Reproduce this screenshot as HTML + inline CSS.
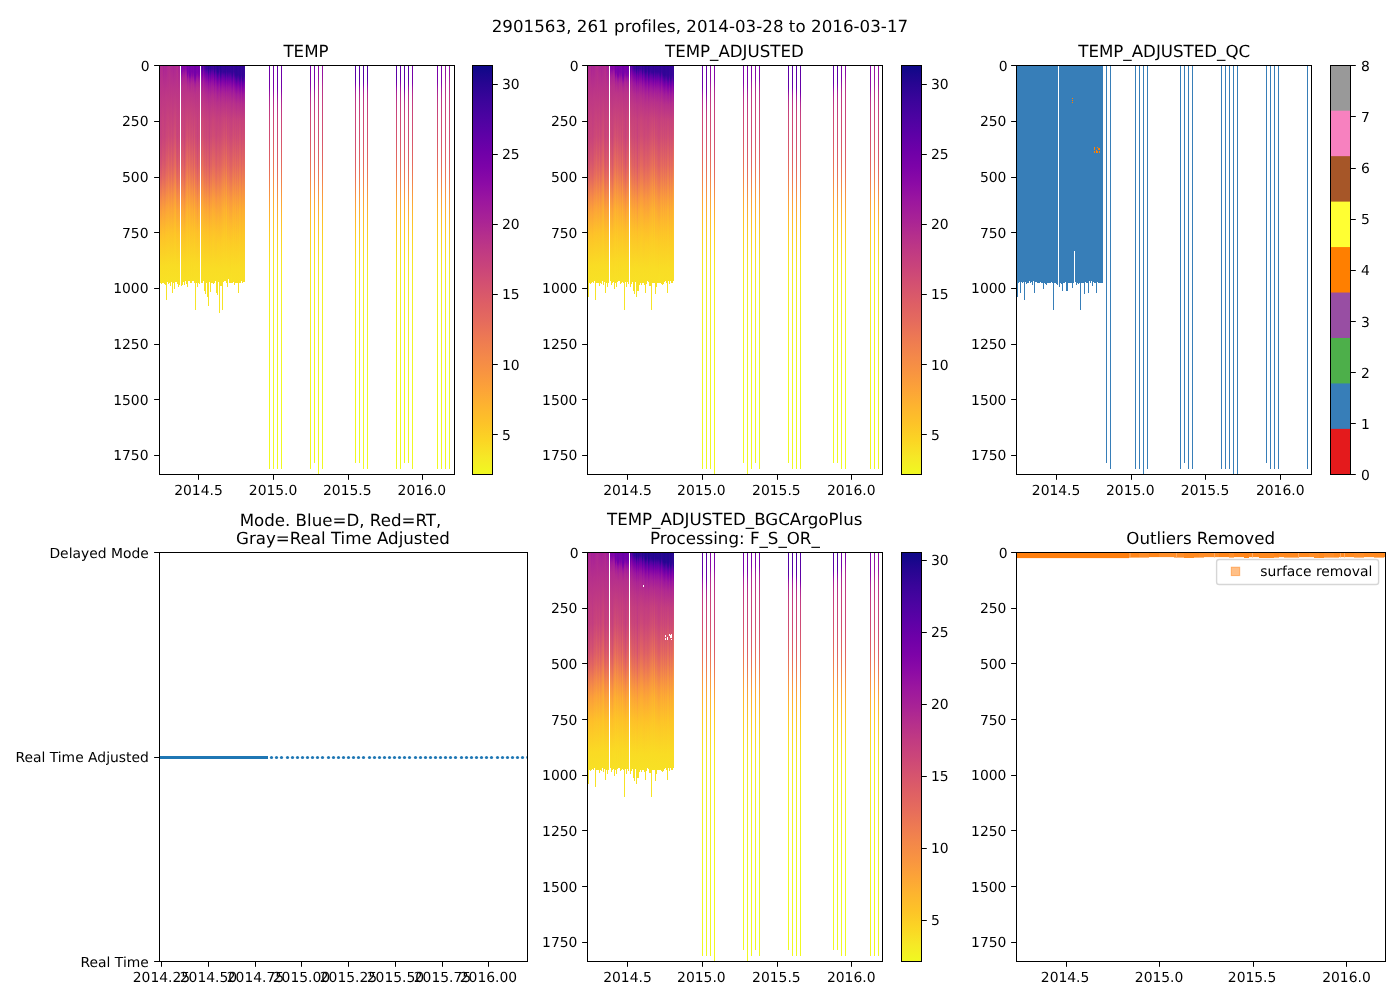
<!DOCTYPE html>
<html lang="en">
<head>
<meta charset="utf-8">
<title>2901563, 261 profiles, 2014-03-28 to 2016-03-17</title>
<style>
html,body{margin:0;padding:0;background:#fff;}
body{width:1400px;height:1000px;overflow:hidden;}
svg{display:block;}
svg text{font-family:"DejaVu Sans", "Liberation Sans", sans-serif;fill:#000;}
</style>
</head>
<body>
<svg width="1400" height="1000" viewBox="0 0 1400 1000" shape-rendering="crispEdges" text-rendering="geometricPrecision">
<rect x="0" y="0" width="1400" height="1000" fill="#ffffff"/>
<defs>
<linearGradient id="g1" gradientUnits="userSpaceOnUse" x1="0" y1="65.25" x2="0" y2="321.467"><stop offset=".000" stop-color="#b02991"/><stop offset=".145" stop-color="#bf3984"/><stop offset=".278" stop-color="#c5407e"/><stop offset=".386" stop-color="#d35171"/><stop offset=".446" stop-color="#e16462"/><stop offset=".529" stop-color="#f58b47"/><stop offset=".581" stop-color="#fba238"/><stop offset=".674" stop-color="#fdc328"/><stop offset=".784" stop-color="#f9dc24"/><stop offset=".860" stop-color="#f7e225"/><stop offset="1.000" stop-color="#f6e826"/></linearGradient>
<linearGradient id="g2" gradientUnits="userSpaceOnUse" x1="0" y1="65.25" x2="0" y2="321.467"><stop offset=".000" stop-color="#b22b8f"/><stop offset=".218" stop-color="#c43e7f"/><stop offset=".281" stop-color="#c5407e"/><stop offset=".358" stop-color="#ce4b75"/><stop offset=".388" stop-color="#d35171"/><stop offset=".436" stop-color="#de5f65"/><stop offset=".544" stop-color="#f79143"/><stop offset=".624" stop-color="#fdb22f"/><stop offset=".692" stop-color="#fdc827"/><stop offset=".787" stop-color="#f9dc24"/><stop offset=".860" stop-color="#f7e225"/><stop offset="1.000" stop-color="#f6e826"/></linearGradient>
<linearGradient id="g3" gradientUnits="userSpaceOnUse" x1="0" y1="65.25" x2="0" y2="321.467"><stop offset=".000" stop-color="#b12a90"/><stop offset=".213" stop-color="#c6417d"/><stop offset=".281" stop-color="#c9447a"/><stop offset=".373" stop-color="#d6556d"/><stop offset=".436" stop-color="#e3685f"/><stop offset=".506" stop-color="#f3874a"/><stop offset=".569" stop-color="#fba238"/><stop offset=".662" stop-color="#fdc229"/><stop offset=".784" stop-color="#f9dc24"/><stop offset=".890" stop-color="#f7e425"/><stop offset="1.000" stop-color="#f6e826"/></linearGradient>
<linearGradient id="g4" gradientUnits="userSpaceOnUse" x1="0" y1="65.25" x2="0" y2="321.467"><stop offset=".000" stop-color="#a82296"/><stop offset=".090" stop-color="#ba3388"/><stop offset=".216" stop-color="#c6417d"/><stop offset=".281" stop-color="#c9447a"/><stop offset=".368" stop-color="#d5546e"/><stop offset=".434" stop-color="#e26660"/><stop offset=".504" stop-color="#f3854b"/><stop offset=".561" stop-color="#fb9f3a"/><stop offset=".662" stop-color="#fdc229"/><stop offset=".784" stop-color="#f9dc24"/><stop offset=".890" stop-color="#f7e425"/><stop offset="1.000" stop-color="#f6e826"/></linearGradient>
<linearGradient id="g5" gradientUnits="userSpaceOnUse" x1="0" y1="65.25" x2="0" y2="321.467"><stop offset=".000" stop-color="#ad2793"/><stop offset=".140" stop-color="#bf3984"/><stop offset=".278" stop-color="#c7427c"/><stop offset=".373" stop-color="#d45270"/><stop offset=".434" stop-color="#e06363"/><stop offset=".519" stop-color="#f48948"/><stop offset=".579" stop-color="#fca338"/><stop offset=".677" stop-color="#fdc527"/><stop offset=".784" stop-color="#f9dc24"/><stop offset=".860" stop-color="#f7e225"/><stop offset="1.000" stop-color="#f6e826"/></linearGradient>
<linearGradient id="g6" gradientUnits="userSpaceOnUse" x1="0" y1="65.25" x2="0" y2="321.467"><stop offset=".000" stop-color="#ab2494"/><stop offset=".115" stop-color="#bd3786"/><stop offset=".278" stop-color="#c9447a"/><stop offset=".388" stop-color="#d9586a"/><stop offset=".471" stop-color="#eb7655"/><stop offset=".564" stop-color="#fba139"/><stop offset=".654" stop-color="#fec029"/><stop offset=".782" stop-color="#f9dc24"/><stop offset=".890" stop-color="#f7e425"/><stop offset="1.000" stop-color="#f6e826"/></linearGradient>
<linearGradient id="g7" gradientUnits="userSpaceOnUse" x1="0" y1="65.25" x2="0" y2="321.467"><stop offset=".000" stop-color="#ac2694"/><stop offset=".110" stop-color="#bd3786"/><stop offset=".281" stop-color="#cc4977"/><stop offset=".331" stop-color="#d5536f"/><stop offset=".396" stop-color="#df6263"/><stop offset=".431" stop-color="#e76e5b"/><stop offset=".496" stop-color="#f48948"/><stop offset=".551" stop-color="#fba139"/><stop offset=".652" stop-color="#fdc229"/><stop offset=".782" stop-color="#f9dc24"/><stop offset=".857" stop-color="#f7e225"/><stop offset="1.000" stop-color="#f6e826"/></linearGradient>
<linearGradient id="g8" gradientUnits="userSpaceOnUse" x1="0" y1="65.25" x2="0" y2="321.467"><stop offset=".000" stop-color="#b02991"/><stop offset=".206" stop-color="#c7427c"/><stop offset=".278" stop-color="#cc4778"/><stop offset=".346" stop-color="#d6556d"/><stop offset=".431" stop-color="#e66c5c"/><stop offset=".499" stop-color="#f48948"/><stop offset=".564" stop-color="#fca537"/><stop offset=".667" stop-color="#fdc527"/><stop offset=".782" stop-color="#f9dc24"/><stop offset=".857" stop-color="#f7e225"/><stop offset="1.000" stop-color="#f6e826"/></linearGradient>
<linearGradient id="g9" gradientUnits="userSpaceOnUse" x1="0" y1="65.25" x2="0" y2="321.467"><stop offset=".000" stop-color="#b32c8e"/><stop offset=".053" stop-color="#b6308b"/><stop offset=".281" stop-color="#cf4c74"/><stop offset=".404" stop-color="#e56a5d"/><stop offset=".474" stop-color="#f3854b"/><stop offset=".549" stop-color="#fca338"/><stop offset=".652" stop-color="#fdc328"/><stop offset=".779" stop-color="#f9dc24"/><stop offset=".887" stop-color="#f7e425"/><stop offset="1.000" stop-color="#f6e826"/></linearGradient>
<linearGradient id="g10" gradientUnits="userSpaceOnUse" x1="0" y1="65.25" x2="0" y2="321.467"><stop offset=".000" stop-color="#b32c8e"/><stop offset=".273" stop-color="#cc4778"/><stop offset=".348" stop-color="#d7566c"/><stop offset=".393" stop-color="#de6164"/><stop offset=".439" stop-color="#e87059"/><stop offset=".506" stop-color="#f68d45"/><stop offset=".559" stop-color="#fca338"/><stop offset=".659" stop-color="#fdc328"/><stop offset=".782" stop-color="#f9dc24"/><stop offset=".857" stop-color="#f7e225"/><stop offset="1.000" stop-color="#f6e826"/></linearGradient>
<linearGradient id="g11" gradientUnits="userSpaceOnUse" x1="0" y1="65.25" x2="0" y2="321.467"><stop offset=".000" stop-color="#b02991"/><stop offset=".178" stop-color="#c43e7f"/><stop offset=".278" stop-color="#cc4778"/><stop offset=".368" stop-color="#da5a6a"/><stop offset=".439" stop-color="#e76f5a"/><stop offset=".509" stop-color="#f68d45"/><stop offset=".561" stop-color="#fca338"/><stop offset=".654" stop-color="#fdc229"/><stop offset=".782" stop-color="#f9dc24"/><stop offset=".857" stop-color="#f7e225"/><stop offset="1.000" stop-color="#f6e826"/></linearGradient>
<linearGradient id="g12" gradientUnits="userSpaceOnUse" x1="0" y1="65.25" x2="0" y2="321.467"><stop offset=".000" stop-color="#ad2793"/><stop offset=".115" stop-color="#be3885"/><stop offset=".278" stop-color="#ce4b75"/><stop offset=".406" stop-color="#e56a5d"/><stop offset=".479" stop-color="#f3874a"/><stop offset=".546" stop-color="#fba238"/><stop offset=".654" stop-color="#fdc328"/><stop offset=".779" stop-color="#f9dc24"/><stop offset=".857" stop-color="#f7e225"/><stop offset="1.000" stop-color="#f6e826"/></linearGradient>
<linearGradient id="g13" gradientUnits="userSpaceOnUse" x1="0" y1="65.25" x2="0" y2="321.467"><stop offset=".000" stop-color="#ad2793"/><stop offset=".093" stop-color="#bb3488"/><stop offset=".278" stop-color="#cb4679"/><stop offset=".386" stop-color="#db5c68"/><stop offset=".446" stop-color="#e87059"/><stop offset=".506" stop-color="#f58b47"/><stop offset=".564" stop-color="#fca338"/><stop offset=".657" stop-color="#fdc229"/><stop offset=".782" stop-color="#f9dc24"/><stop offset=".857" stop-color="#f7e225"/><stop offset="1.000" stop-color="#f6e826"/></linearGradient>
<linearGradient id="g14" gradientUnits="userSpaceOnUse" x1="0" y1="65.25" x2="0" y2="321.467"><stop offset=".000" stop-color="#aa2395"/><stop offset=".093" stop-color="#bb3488"/><stop offset=".276" stop-color="#cc4977"/><stop offset=".341" stop-color="#d7566c"/><stop offset=".391" stop-color="#df6263"/><stop offset=".434" stop-color="#e87059"/><stop offset=".496" stop-color="#f58b47"/><stop offset=".549" stop-color="#fba139"/><stop offset=".657" stop-color="#fdc328"/><stop offset=".782" stop-color="#f9dc24"/><stop offset=".857" stop-color="#f7e225"/><stop offset="1.000" stop-color="#f6e826"/></linearGradient>
<linearGradient id="g15" gradientUnits="userSpaceOnUse" x1="0" y1="65.25" x2="0" y2="321.467"><stop offset=".000" stop-color="#ad2793"/><stop offset=".288" stop-color="#d35171"/><stop offset=".396" stop-color="#e66c5c"/><stop offset=".521" stop-color="#fa9e3b"/><stop offset=".571" stop-color="#fdaf31"/><stop offset=".652" stop-color="#fdc527"/><stop offset=".779" stop-color="#f9dc24"/><stop offset=".887" stop-color="#f7e425"/><stop offset="1.000" stop-color="#f6e826"/></linearGradient>
<linearGradient id="g16" gradientUnits="userSpaceOnUse" x1="0" y1="65.25" x2="0" y2="321.467"><stop offset=".000" stop-color="#ad2793"/><stop offset=".278" stop-color="#d35171"/><stop offset=".391" stop-color="#e76f5a"/><stop offset=".464" stop-color="#f58b47"/><stop offset=".524" stop-color="#fba238"/><stop offset=".566" stop-color="#fdb130"/><stop offset=".654" stop-color="#fdc627"/><stop offset=".777" stop-color="#f9dc24"/><stop offset=".855" stop-color="#f7e225"/><stop offset="1.000" stop-color="#f6e826"/></linearGradient>
<linearGradient id="g17" gradientUnits="userSpaceOnUse" x1="0" y1="65.25" x2="0" y2="321.467"><stop offset=".000" stop-color="#b12a90"/><stop offset=".195" stop-color="#c5407e"/><stop offset=".278" stop-color="#ca457a"/><stop offset=".373" stop-color="#d8576b"/><stop offset=".436" stop-color="#e56a5d"/><stop offset=".501" stop-color="#f3874a"/><stop offset=".564" stop-color="#fba238"/><stop offset=".664" stop-color="#fdc328"/><stop offset=".782" stop-color="#f9dc24"/><stop offset=".857" stop-color="#f7e225"/><stop offset="1.000" stop-color="#f6e826"/></linearGradient>
<linearGradient id="g18" gradientUnits="userSpaceOnUse" x1="0" y1="65.25" x2="0" y2="321.467"><stop offset=".000" stop-color="#b32c8e"/><stop offset=".218" stop-color="#c6417d"/><stop offset=".278" stop-color="#c8437b"/><stop offset=".391" stop-color="#d8576b"/><stop offset=".466" stop-color="#e97257"/><stop offset=".509" stop-color="#f3874a"/><stop offset=".566" stop-color="#fba139"/><stop offset=".657" stop-color="#fec029"/><stop offset=".784" stop-color="#f9dc24"/><stop offset=".890" stop-color="#f7e425"/><stop offset="1.000" stop-color="#f6e826"/></linearGradient>
<linearGradient id="g19" gradientUnits="userSpaceOnUse" x1="0" y1="65.25" x2="0" y2="321.467"><stop offset=".000" stop-color="#ab2494"/><stop offset=".103" stop-color="#bc3587"/><stop offset=".278" stop-color="#cb4679"/><stop offset=".353" stop-color="#d6556d"/><stop offset=".436" stop-color="#e66c5c"/><stop offset=".511" stop-color="#f68d45"/><stop offset=".564" stop-color="#fca338"/><stop offset=".662" stop-color="#fdc328"/><stop offset=".782" stop-color="#f9dc24"/><stop offset=".857" stop-color="#f7e225"/><stop offset="1.000" stop-color="#f6e826"/></linearGradient>
<linearGradient id="g20" gradientUnits="userSpaceOnUse" x1="0" y1="65.25" x2="0" y2="321.467"><stop offset=".000" stop-color="#a82296"/><stop offset=".098" stop-color="#bb3488"/><stop offset=".211" stop-color="#c6417d"/><stop offset=".273" stop-color="#c9447a"/><stop offset=".378" stop-color="#d8576b"/><stop offset=".436" stop-color="#e4695e"/><stop offset=".504" stop-color="#f3874a"/><stop offset=".559" stop-color="#fb9f3a"/><stop offset=".659" stop-color="#fdc229"/><stop offset=".782" stop-color="#f9dc24"/><stop offset=".890" stop-color="#f7e425"/><stop offset="1.000" stop-color="#f6e826"/></linearGradient>
<linearGradient id="g21" gradientUnits="userSpaceOnUse" x1="0" y1="65.25" x2="0" y2="321.467"><stop offset=".000" stop-color="#7e03a8"/><stop offset=".025" stop-color="#8104a7"/><stop offset=".043" stop-color="#99159f"/><stop offset=".055" stop-color="#a62098"/><stop offset=".085" stop-color="#b52f8c"/><stop offset=".163" stop-color="#c23c81"/><stop offset=".281" stop-color="#cc4778"/><stop offset=".391" stop-color="#dd5e66"/><stop offset=".446" stop-color="#e97158"/><stop offset=".529" stop-color="#f89540"/><stop offset=".579" stop-color="#fca934"/><stop offset=".654" stop-color="#fdc229"/><stop offset=".782" stop-color="#f9dc24"/><stop offset=".857" stop-color="#f7e225"/><stop offset="1.000" stop-color="#f6e826"/></linearGradient>
<linearGradient id="g22" gradientUnits="userSpaceOnUse" x1="0" y1="65.25" x2="0" y2="321.467"><stop offset=".000" stop-color="#8305a7"/><stop offset=".013" stop-color="#8405a7"/><stop offset=".023" stop-color="#8b0aa5"/><stop offset=".040" stop-color="#a11b9b"/><stop offset=".050" stop-color="#a82296"/><stop offset=".083" stop-color="#b6308b"/><stop offset=".165" stop-color="#c33d80"/><stop offset=".281" stop-color="#cd4a76"/><stop offset=".376" stop-color="#dd5e66"/><stop offset=".436" stop-color="#e97158"/><stop offset=".524" stop-color="#f9973f"/><stop offset=".566" stop-color="#fca835"/><stop offset=".657" stop-color="#fdc328"/><stop offset=".772" stop-color="#fada24"/><stop offset=".857" stop-color="#f7e225"/><stop offset="1.000" stop-color="#f6e826"/></linearGradient>
<linearGradient id="g23" gradientUnits="userSpaceOnUse" x1="0" y1="65.25" x2="0" y2="321.467"><stop offset=".000" stop-color="#8405a7"/><stop offset=".013" stop-color="#8606a6"/><stop offset=".038" stop-color="#a21d9a"/><stop offset=".050" stop-color="#ab2494"/><stop offset=".080" stop-color="#b6308b"/><stop offset=".195" stop-color="#c6417d"/><stop offset=".276" stop-color="#cc4778"/><stop offset=".363" stop-color="#da5a6a"/><stop offset=".436" stop-color="#e76f5a"/><stop offset=".529" stop-color="#f9973f"/><stop offset=".571" stop-color="#fca835"/><stop offset=".659" stop-color="#fdc328"/><stop offset=".772" stop-color="#fada24"/><stop offset=".857" stop-color="#f7e225"/><stop offset="1.000" stop-color="#f6e826"/></linearGradient>
<linearGradient id="g24" gradientUnits="userSpaceOnUse" x1="0" y1="65.25" x2="0" y2="321.467"><stop offset=".000" stop-color="#8305a7"/><stop offset=".015" stop-color="#8606a6"/><stop offset=".035" stop-color="#9e199d"/><stop offset=".048" stop-color="#a82296"/><stop offset=".070" stop-color="#b32c8e"/><stop offset=".093" stop-color="#b83289"/><stop offset=".216" stop-color="#c6417d"/><stop offset=".283" stop-color="#c9447a"/><stop offset=".371" stop-color="#d5546e"/><stop offset=".441" stop-color="#e4695e"/><stop offset=".546" stop-color="#f9983e"/><stop offset=".662" stop-color="#fdc229"/><stop offset=".774" stop-color="#fada24"/><stop offset=".860" stop-color="#f7e225"/><stop offset="1.000" stop-color="#f6e826"/></linearGradient>
<linearGradient id="g25" gradientUnits="userSpaceOnUse" x1="0" y1="65.25" x2="0" y2="321.467"><stop offset=".000" stop-color="#8606a6"/><stop offset=".013" stop-color="#8a09a5"/><stop offset=".028" stop-color="#9e199d"/><stop offset=".040" stop-color="#a82296"/><stop offset=".078" stop-color="#b6308b"/><stop offset=".188" stop-color="#c6417d"/><stop offset=".276" stop-color="#cd4a76"/><stop offset=".388" stop-color="#e06363"/><stop offset=".441" stop-color="#eb7556"/><stop offset=".524" stop-color="#f9983e"/><stop offset=".564" stop-color="#fca835"/><stop offset=".654" stop-color="#fdc328"/><stop offset=".762" stop-color="#fad824"/><stop offset=".857" stop-color="#f7e225"/><stop offset="1.000" stop-color="#f6e826"/></linearGradient>
<linearGradient id="g26" gradientUnits="userSpaceOnUse" x1="0" y1="65.25" x2="0" y2="321.467"><stop offset=".000" stop-color="#8305a7"/><stop offset=".013" stop-color="#8305a7"/><stop offset=".025" stop-color="#9511a1"/><stop offset=".048" stop-color="#aa2395"/><stop offset=".083" stop-color="#b7318a"/><stop offset=".286" stop-color="#d45270"/><stop offset=".391" stop-color="#e76e5b"/><stop offset=".494" stop-color="#f89540"/><stop offset=".564" stop-color="#fdaf31"/><stop offset=".637" stop-color="#fdc229"/><stop offset=".779" stop-color="#f9dc24"/><stop offset=".887" stop-color="#f7e425"/><stop offset="1.000" stop-color="#f6e826"/></linearGradient>
<linearGradient id="g27" gradientUnits="userSpaceOnUse" x1="0" y1="65.25" x2="0" y2="321.467"><stop offset=".000" stop-color="#7501a8"/><stop offset=".028" stop-color="#7801a8"/><stop offset=".040" stop-color="#8405a7"/><stop offset=".053" stop-color="#9a169f"/><stop offset=".065" stop-color="#a72197"/><stop offset=".080" stop-color="#b12a90"/><stop offset=".108" stop-color="#bb3488"/><stop offset=".278" stop-color="#d5536f"/><stop offset=".388" stop-color="#e97257"/><stop offset=".466" stop-color="#f79044"/><stop offset=".566" stop-color="#fdb42f"/><stop offset=".674" stop-color="#fdcb26"/><stop offset=".792" stop-color="#f9dd25"/><stop offset="1.000" stop-color="#f6e826"/></linearGradient>
<linearGradient id="g28" gradientUnits="userSpaceOnUse" x1="0" y1="65.25" x2="0" y2="321.467"><stop offset=".000" stop-color="#7a02a8"/><stop offset=".025" stop-color="#7d03a8"/><stop offset=".030" stop-color="#8405a7"/><stop offset=".040" stop-color="#9613a1"/><stop offset=".055" stop-color="#a62098"/><stop offset=".088" stop-color="#b6308b"/><stop offset=".123" stop-color="#be3885"/><stop offset=".278" stop-color="#d04d73"/><stop offset=".308" stop-color="#d5546e"/><stop offset=".414" stop-color="#e87059"/><stop offset=".506" stop-color="#f89540"/><stop offset=".566" stop-color="#fdac33"/><stop offset=".649" stop-color="#fdc328"/><stop offset=".779" stop-color="#f9dc24"/><stop offset=".887" stop-color="#f7e425"/><stop offset="1.000" stop-color="#f6e826"/></linearGradient>
<linearGradient id="g29" gradientUnits="userSpaceOnUse" x1="0" y1="65.25" x2="0" y2="321.467"><stop offset=".000" stop-color="#7401a8"/><stop offset=".025" stop-color="#7501a8"/><stop offset=".040" stop-color="#7b02a8"/><stop offset=".053" stop-color="#9511a1"/><stop offset=".073" stop-color="#ab2494"/><stop offset=".110" stop-color="#bb3488"/><stop offset=".278" stop-color="#d35171"/><stop offset=".393" stop-color="#e87059"/><stop offset=".484" stop-color="#f79342"/><stop offset=".561" stop-color="#fdaf31"/><stop offset=".617" stop-color="#febd2a"/><stop offset=".662" stop-color="#fdc827"/><stop offset=".777" stop-color="#f9dc24"/><stop offset=".855" stop-color="#f7e225"/><stop offset="1.000" stop-color="#f6e826"/></linearGradient>
<linearGradient id="g30" gradientUnits="userSpaceOnUse" x1="0" y1="65.25" x2="0" y2="321.467"><stop offset=".000" stop-color="#7401a8"/><stop offset=".038" stop-color="#7a02a8"/><stop offset=".045" stop-color="#8707a6"/><stop offset=".055" stop-color="#99159f"/><stop offset=".073" stop-color="#ab2494"/><stop offset=".108" stop-color="#ba3388"/><stop offset=".195" stop-color="#c8437b"/><stop offset=".278" stop-color="#d04d73"/><stop offset=".326" stop-color="#d9586a"/><stop offset=".391" stop-color="#e4695e"/><stop offset=".499" stop-color="#f79342"/><stop offset=".561" stop-color="#fdab33"/><stop offset=".632" stop-color="#febe2a"/><stop offset=".759" stop-color="#fad824"/><stop offset=".857" stop-color="#f7e225"/><stop offset="1.000" stop-color="#f6e826"/></linearGradient>
<linearGradient id="g31" gradientUnits="userSpaceOnUse" x1="0" y1="65.25" x2="0" y2="321.467"><stop offset=".000" stop-color="#7801a8"/><stop offset=".025" stop-color="#7b02a8"/><stop offset=".033" stop-color="#8606a6"/><stop offset=".053" stop-color="#a11b9b"/><stop offset=".070" stop-color="#ae2892"/><stop offset=".090" stop-color="#b6308b"/><stop offset=".160" stop-color="#c33d80"/><stop offset=".278" stop-color="#cf4c74"/><stop offset=".366" stop-color="#de6164"/><stop offset=".439" stop-color="#ec7754"/><stop offset=".516" stop-color="#f9983e"/><stop offset=".561" stop-color="#fca934"/><stop offset=".652" stop-color="#fdc328"/><stop offset=".779" stop-color="#f9dc24"/><stop offset=".887" stop-color="#f7e425"/><stop offset="1.000" stop-color="#f6e826"/></linearGradient>
<linearGradient id="g32" gradientUnits="userSpaceOnUse" x1="0" y1="65.25" x2="0" y2="321.467"><stop offset=".000" stop-color="#7701a8"/><stop offset=".025" stop-color="#7801a8"/><stop offset=".040" stop-color="#8707a6"/><stop offset=".053" stop-color="#9c179e"/><stop offset=".070" stop-color="#ac2694"/><stop offset=".110" stop-color="#bb3488"/><stop offset=".301" stop-color="#d5536f"/><stop offset=".404" stop-color="#e76e5b"/><stop offset=".501" stop-color="#f89441"/><stop offset=".564" stop-color="#fdac33"/><stop offset=".637" stop-color="#fec029"/><stop offset=".759" stop-color="#fad824"/><stop offset=".857" stop-color="#f7e225"/><stop offset="1.000" stop-color="#f6e826"/></linearGradient>
<linearGradient id="g33" gradientUnits="userSpaceOnUse" x1="0" y1="65.25" x2="0" y2="321.467"><stop offset=".000" stop-color="#7801a8"/><stop offset=".028" stop-color="#7d03a8"/><stop offset=".055" stop-color="#a21d9a"/><stop offset=".068" stop-color="#ac2694"/><stop offset=".088" stop-color="#b52f8c"/><stop offset=".160" stop-color="#c23c81"/><stop offset=".278" stop-color="#cc4977"/><stop offset=".393" stop-color="#df6263"/><stop offset=".449" stop-color="#eb7556"/><stop offset=".516" stop-color="#f79342"/><stop offset=".569" stop-color="#fca835"/><stop offset=".652" stop-color="#fdc229"/><stop offset=".772" stop-color="#fada24"/><stop offset=".857" stop-color="#f7e225"/><stop offset="1.000" stop-color="#f6e826"/></linearGradient>
<linearGradient id="g34" gradientUnits="userSpaceOnUse" x1="0" y1="65.25" x2="0" y2="321.467"><stop offset=".000" stop-color="#7100a8"/><stop offset=".035" stop-color="#7401a8"/><stop offset=".040" stop-color="#7701a8"/><stop offset=".053" stop-color="#8808a6"/><stop offset=".070" stop-color="#a31e9a"/><stop offset=".088" stop-color="#b12a90"/><stop offset=".115" stop-color="#bb3488"/><stop offset=".288" stop-color="#d5546e"/><stop offset=".393" stop-color="#e97158"/><stop offset=".474" stop-color="#f79044"/><stop offset=".569" stop-color="#fdb22f"/><stop offset=".687" stop-color="#fccd25"/><stop offset=".792" stop-color="#f9dd25"/><stop offset="1.000" stop-color="#f6e826"/></linearGradient>
<linearGradient id="g35" gradientUnits="userSpaceOnUse" x1="0" y1="65.25" x2="0" y2="321.467"><stop offset=".000" stop-color="#6f00a8"/><stop offset=".040" stop-color="#7401a8"/><stop offset=".053" stop-color="#8405a7"/><stop offset=".068" stop-color="#9d189d"/><stop offset=".075" stop-color="#a51f99"/><stop offset=".088" stop-color="#ae2892"/><stop offset=".113" stop-color="#b83289"/><stop offset=".216" stop-color="#c8437b"/><stop offset=".278" stop-color="#cc4778"/><stop offset=".391" stop-color="#de5f65"/><stop offset=".459" stop-color="#ec7754"/><stop offset=".516" stop-color="#f79143"/><stop offset=".564" stop-color="#fca537"/><stop offset=".649" stop-color="#fec029"/><stop offset=".772" stop-color="#fada24"/><stop offset=".857" stop-color="#f7e225"/><stop offset="1.000" stop-color="#f6e826"/></linearGradient>
<linearGradient id="g36" gradientUnits="userSpaceOnUse" x1="0" y1="65.25" x2="0" y2="321.467"><stop offset=".000" stop-color="#7701a8"/><stop offset=".028" stop-color="#7b02a8"/><stop offset=".038" stop-color="#8707a6"/><stop offset=".050" stop-color="#9a169f"/><stop offset=".065" stop-color="#a82296"/><stop offset=".088" stop-color="#b42e8d"/><stop offset=".108" stop-color="#ba3388"/><stop offset=".208" stop-color="#c7427c"/><stop offset=".286" stop-color="#cc4977"/><stop offset=".383" stop-color="#dc5d67"/><stop offset=".436" stop-color="#e76e5b"/><stop offset=".521" stop-color="#f79342"/><stop offset=".569" stop-color="#fca636"/><stop offset=".654" stop-color="#fdc229"/><stop offset=".782" stop-color="#f9dc24"/><stop offset=".857" stop-color="#f7e225"/><stop offset="1.000" stop-color="#f6e826"/></linearGradient>
<linearGradient id="g37" gradientUnits="userSpaceOnUse" x1="0" y1="65.25" x2="0" y2="321.467"><stop offset=".000" stop-color="#7801a8"/><stop offset=".028" stop-color="#7d03a8"/><stop offset=".043" stop-color="#9410a2"/><stop offset=".055" stop-color="#a21d9a"/><stop offset=".070" stop-color="#ad2793"/><stop offset=".095" stop-color="#b6308b"/><stop offset=".178" stop-color="#c23c81"/><stop offset=".283" stop-color="#c8437b"/><stop offset=".386" stop-color="#d6556d"/><stop offset=".446" stop-color="#e4695e"/><stop offset=".544" stop-color="#f89540"/><stop offset=".652" stop-color="#febe2a"/><stop offset=".774" stop-color="#fada24"/><stop offset=".860" stop-color="#f7e225"/><stop offset="1.000" stop-color="#f6e826"/></linearGradient>
<linearGradient id="g38" gradientUnits="userSpaceOnUse" x1="0" y1="65.25" x2="0" y2="321.467"><stop offset=".000" stop-color="#7501a8"/><stop offset=".025" stop-color="#7701a8"/><stop offset=".038" stop-color="#8004a8"/><stop offset=".050" stop-color="#9511a1"/><stop offset=".070" stop-color="#aa2395"/><stop offset=".088" stop-color="#b32c8e"/><stop offset=".110" stop-color="#ba3388"/><stop offset=".216" stop-color="#c8437b"/><stop offset=".278" stop-color="#cc4778"/><stop offset=".391" stop-color="#de5f65"/><stop offset=".446" stop-color="#e97257"/><stop offset=".516" stop-color="#f79143"/><stop offset=".564" stop-color="#fca537"/><stop offset=".649" stop-color="#fec029"/><stop offset=".772" stop-color="#fada24"/><stop offset=".857" stop-color="#f7e225"/><stop offset="1.000" stop-color="#f6e826"/></linearGradient>
<linearGradient id="g39" gradientUnits="userSpaceOnUse" x1="0" y1="65.25" x2="0" y2="321.467"><stop offset=".000" stop-color="#7501a8"/><stop offset=".025" stop-color="#7801a8"/><stop offset=".038" stop-color="#8305a7"/><stop offset=".053" stop-color="#9a169f"/><stop offset=".068" stop-color="#a82296"/><stop offset=".090" stop-color="#b42e8d"/><stop offset=".113" stop-color="#bb3488"/><stop offset=".201" stop-color="#c7427c"/><stop offset=".281" stop-color="#cd4a76"/><stop offset=".388" stop-color="#df6263"/><stop offset=".439" stop-color="#e97257"/><stop offset=".514" stop-color="#f79342"/><stop offset=".566" stop-color="#fca835"/><stop offset=".652" stop-color="#fdc229"/><stop offset=".772" stop-color="#fada24"/><stop offset=".857" stop-color="#f7e225"/><stop offset="1.000" stop-color="#f6e826"/></linearGradient>
<linearGradient id="g40" gradientUnits="userSpaceOnUse" x1="0" y1="65.25" x2="0" y2="321.467"><stop offset=".000" stop-color="#6001a6"/><stop offset=".013" stop-color="#6300a7"/><stop offset=".030" stop-color="#8104a7"/><stop offset=".058" stop-color="#9d189d"/><stop offset=".078" stop-color="#aa2395"/><stop offset=".110" stop-color="#b6308b"/><stop offset=".211" stop-color="#c9447a"/><stop offset=".276" stop-color="#cf4c74"/><stop offset=".386" stop-color="#e26660"/><stop offset=".446" stop-color="#ee7b51"/><stop offset=".491" stop-color="#f68f44"/><stop offset=".564" stop-color="#fdab33"/><stop offset=".644" stop-color="#fdc229"/><stop offset=".769" stop-color="#fada24"/><stop offset=".857" stop-color="#f7e225"/><stop offset="1.000" stop-color="#f6e826"/></linearGradient>
<linearGradient id="g41" gradientUnits="userSpaceOnUse" x1="0" y1="65.25" x2="0" y2="321.467"><stop offset=".000" stop-color="#4c02a1"/><stop offset=".013" stop-color="#4c02a1"/><stop offset=".038" stop-color="#7801a8"/><stop offset=".048" stop-color="#8707a6"/><stop offset=".068" stop-color="#9c179e"/><stop offset=".113" stop-color="#b42e8d"/><stop offset=".208" stop-color="#ca457a"/><stop offset=".281" stop-color="#d45270"/><stop offset=".386" stop-color="#e76f5a"/><stop offset=".426" stop-color="#ef7e50"/><stop offset=".484" stop-color="#f89441"/><stop offset=".554" stop-color="#fdae32"/><stop offset=".652" stop-color="#fdc627"/><stop offset=".792" stop-color="#f9dd25"/><stop offset="1.000" stop-color="#f6e826"/></linearGradient>
<linearGradient id="g42" gradientUnits="userSpaceOnUse" x1="0" y1="65.25" x2="0" y2="321.467"><stop offset=".000" stop-color="#5901a5"/><stop offset=".020" stop-color="#7701a8"/><stop offset=".043" stop-color="#920fa3"/><stop offset=".065" stop-color="#a31e9a"/><stop offset=".090" stop-color="#b02991"/><stop offset=".150" stop-color="#bf3984"/><stop offset=".218" stop-color="#ca457a"/><stop offset=".278" stop-color="#cf4c74"/><stop offset=".336" stop-color="#da5a6a"/><stop offset=".406" stop-color="#e66c5c"/><stop offset=".476" stop-color="#f48849"/><stop offset=".564" stop-color="#fdab33"/><stop offset=".694" stop-color="#fccd25"/><stop offset=".797" stop-color="#f9dd25"/><stop offset=".887" stop-color="#f7e425"/><stop offset="1.000" stop-color="#f6e826"/></linearGradient>
<linearGradient id="g43" gradientUnits="userSpaceOnUse" x1="0" y1="65.25" x2="0" y2="321.467"><stop offset=".000" stop-color="#46039f"/><stop offset=".013" stop-color="#5002a2"/><stop offset=".025" stop-color="#6a00a8"/><stop offset=".035" stop-color="#7a02a8"/><stop offset=".055" stop-color="#920fa3"/><stop offset=".073" stop-color="#a11b9b"/><stop offset=".108" stop-color="#b22b8f"/><stop offset=".155" stop-color="#be3885"/><stop offset=".218" stop-color="#c8437b"/><stop offset=".278" stop-color="#cc4977"/><stop offset=".391" stop-color="#df6263"/><stop offset=".459" stop-color="#ed7a52"/><stop offset=".521" stop-color="#f89540"/><stop offset=".566" stop-color="#fca835"/><stop offset=".652" stop-color="#fdc229"/><stop offset=".797" stop-color="#f9dd25"/><stop offset="1.000" stop-color="#f6e826"/></linearGradient>
<linearGradient id="g44" gradientUnits="userSpaceOnUse" x1="0" y1="65.25" x2="0" y2="321.467"><stop offset=".000" stop-color="#3e049c"/><stop offset=".013" stop-color="#44039e"/><stop offset=".028" stop-color="#6600a7"/><stop offset=".038" stop-color="#7701a8"/><stop offset=".053" stop-color="#8b0aa5"/><stop offset=".070" stop-color="#9c179e"/><stop offset=".085" stop-color="#a62098"/><stop offset=".118" stop-color="#b42e8d"/><stop offset=".163" stop-color="#bf3984"/><stop offset=".216" stop-color="#c8437b"/><stop offset=".278" stop-color="#cd4a76"/><stop offset=".388" stop-color="#e06363"/><stop offset=".439" stop-color="#ea7457"/><stop offset=".524" stop-color="#f9983e"/><stop offset=".564" stop-color="#fca835"/><stop offset=".654" stop-color="#fdc328"/><stop offset=".797" stop-color="#f9dd25"/><stop offset="1.000" stop-color="#f6e826"/></linearGradient>
<linearGradient id="g45" gradientUnits="userSpaceOnUse" x1="0" y1="65.25" x2="0" y2="321.467"><stop offset=".000" stop-color="#38049a"/><stop offset=".013" stop-color="#3a049a"/><stop offset=".028" stop-color="#5c01a6"/><stop offset=".040" stop-color="#7401a8"/><stop offset=".050" stop-color="#8104a7"/><stop offset=".070" stop-color="#9814a0"/><stop offset=".088" stop-color="#a51f99"/><stop offset=".113" stop-color="#b12a90"/><stop offset=".153" stop-color="#bc3587"/><stop offset=".216" stop-color="#c6417d"/><stop offset=".281" stop-color="#cb4679"/><stop offset=".391" stop-color="#dc5d67"/><stop offset=".461" stop-color="#eb7655"/><stop offset=".524" stop-color="#f79342"/><stop offset=".576" stop-color="#fca835"/><stop offset=".657" stop-color="#fdc229"/><stop offset=".782" stop-color="#f9dc24"/><stop offset=".857" stop-color="#f7e225"/><stop offset="1.000" stop-color="#f6e826"/></linearGradient>
<linearGradient id="g46" gradientUnits="userSpaceOnUse" x1="0" y1="65.25" x2="0" y2="321.467"><stop offset=".000" stop-color="#3a049a"/><stop offset=".013" stop-color="#3c049b"/><stop offset=".028" stop-color="#6001a6"/><stop offset=".040" stop-color="#7701a8"/><stop offset=".053" stop-color="#8707a6"/><stop offset=".070" stop-color="#99159f"/><stop offset=".093" stop-color="#a82296"/><stop offset=".148" stop-color="#bc3587"/><stop offset=".216" stop-color="#c8437b"/><stop offset=".278" stop-color="#cd4a76"/><stop offset=".391" stop-color="#e16462"/><stop offset=".444" stop-color="#eb7655"/><stop offset=".526" stop-color="#f99a3e"/><stop offset=".566" stop-color="#fca934"/><stop offset=".649" stop-color="#fdc229"/><stop offset=".797" stop-color="#f9dd25"/><stop offset="1.000" stop-color="#f6e826"/></linearGradient>
<linearGradient id="g47" gradientUnits="userSpaceOnUse" x1="0" y1="65.25" x2="0" y2="321.467"><stop offset=".000" stop-color="#2e0595"/><stop offset=".013" stop-color="#2e0595"/><stop offset=".023" stop-color="#38049a"/><stop offset=".028" stop-color="#3f049c"/><stop offset=".038" stop-color="#5901a5"/><stop offset=".055" stop-color="#7a02a8"/><stop offset=".070" stop-color="#8e0ca4"/><stop offset=".085" stop-color="#9c179e"/><stop offset=".113" stop-color="#ad2793"/><stop offset=".175" stop-color="#bf3984"/><stop offset=".221" stop-color="#c7427c"/><stop offset=".278" stop-color="#cc4778"/><stop offset=".391" stop-color="#de6164"/><stop offset=".456" stop-color="#ec7754"/><stop offset=".524" stop-color="#f89540"/><stop offset=".566" stop-color="#fca636"/><stop offset=".652" stop-color="#fdc229"/><stop offset=".782" stop-color="#f9dc24"/><stop offset=".857" stop-color="#f7e225"/><stop offset="1.000" stop-color="#f6e826"/></linearGradient>
<linearGradient id="g48" gradientUnits="userSpaceOnUse" x1="0" y1="65.25" x2="0" y2="321.467"><stop offset=".000" stop-color="#38049a"/><stop offset=".013" stop-color="#38049a"/><stop offset=".025" stop-color="#5601a4"/><stop offset=".040" stop-color="#7201a8"/><stop offset=".050" stop-color="#8104a7"/><stop offset=".073" stop-color="#99159f"/><stop offset=".113" stop-color="#b02991"/><stop offset=".150" stop-color="#ba3388"/><stop offset=".226" stop-color="#c43e7f"/><stop offset=".278" stop-color="#c6417d"/><stop offset=".393" stop-color="#d6556d"/><stop offset=".454" stop-color="#e56a5d"/><stop offset=".526" stop-color="#f58c46"/><stop offset=".576" stop-color="#fba238"/><stop offset=".654" stop-color="#febe2a"/><stop offset=".784" stop-color="#f9dc24"/><stop offset=".860" stop-color="#f7e225"/><stop offset="1.000" stop-color="#f6e826"/></linearGradient>
<linearGradient id="g49" gradientUnits="userSpaceOnUse" x1="0" y1="65.25" x2="0" y2="321.467"><stop offset=".000" stop-color="#2f0596"/><stop offset=".013" stop-color="#310597"/><stop offset=".023" stop-color="#3f049c"/><stop offset=".038" stop-color="#6001a6"/><stop offset=".048" stop-color="#7201a8"/><stop offset=".060" stop-color="#8405a7"/><stop offset=".070" stop-color="#910ea3"/><stop offset=".088" stop-color="#a01a9c"/><stop offset=".130" stop-color="#b42e8d"/><stop offset=".193" stop-color="#c33d80"/><stop offset=".281" stop-color="#cd4a76"/><stop offset=".391" stop-color="#e06363"/><stop offset=".484" stop-color="#f3874a"/><stop offset=".546" stop-color="#fba139"/><stop offset=".634" stop-color="#febd2a"/><stop offset=".699" stop-color="#fccd25"/><stop offset=".797" stop-color="#f9dd25"/><stop offset="1.000" stop-color="#f6e826"/></linearGradient>
<linearGradient id="g50" gradientUnits="userSpaceOnUse" x1="0" y1="65.25" x2="0" y2="321.467"><stop offset=".000" stop-color="#38049a"/><stop offset=".013" stop-color="#38049a"/><stop offset=".028" stop-color="#5c01a6"/><stop offset=".040" stop-color="#7401a8"/><stop offset=".055" stop-color="#8707a6"/><stop offset=".070" stop-color="#9814a0"/><stop offset=".083" stop-color="#a11b9b"/><stop offset=".118" stop-color="#b22b8f"/><stop offset=".163" stop-color="#be3885"/><stop offset=".223" stop-color="#c8437b"/><stop offset=".278" stop-color="#cc4977"/><stop offset=".393" stop-color="#e06363"/><stop offset=".461" stop-color="#ee7b51"/><stop offset=".524" stop-color="#f9973f"/><stop offset=".566" stop-color="#fca835"/><stop offset=".652" stop-color="#fdc229"/><stop offset=".797" stop-color="#f9dd25"/><stop offset="1.000" stop-color="#f6e826"/></linearGradient>
<linearGradient id="g51" gradientUnits="userSpaceOnUse" x1="0" y1="65.25" x2="0" y2="321.467"><stop offset=".000" stop-color="#38049a"/><stop offset=".013" stop-color="#38049a"/><stop offset=".025" stop-color="#5601a4"/><stop offset=".043" stop-color="#7701a8"/><stop offset=".055" stop-color="#8707a6"/><stop offset=".068" stop-color="#9511a1"/><stop offset=".083" stop-color="#a11b9b"/><stop offset=".115" stop-color="#b22b8f"/><stop offset=".133" stop-color="#b7318a"/><stop offset=".213" stop-color="#c9447a"/><stop offset=".276" stop-color="#d04d73"/><stop offset=".393" stop-color="#e56b5d"/><stop offset=".509" stop-color="#f9983e"/><stop offset=".566" stop-color="#fdae32"/><stop offset=".692" stop-color="#fccd25"/><stop offset=".794" stop-color="#f9dd25"/><stop offset="1.000" stop-color="#f6e826"/></linearGradient>
<linearGradient id="g52" gradientUnits="userSpaceOnUse" x1="0" y1="65.25" x2="0" y2="321.467"><stop offset=".000" stop-color="#3a049a"/><stop offset=".013" stop-color="#3e049c"/><stop offset=".025" stop-color="#5b01a5"/><stop offset=".040" stop-color="#7501a8"/><stop offset=".055" stop-color="#8a09a5"/><stop offset=".085" stop-color="#a31e9a"/><stop offset=".118" stop-color="#b32c8e"/><stop offset=".143" stop-color="#bb3488"/><stop offset=".213" stop-color="#c9447a"/><stop offset=".278" stop-color="#d04d73"/><stop offset=".383" stop-color="#e3685f"/><stop offset=".441" stop-color="#ee7b51"/><stop offset=".514" stop-color="#f99a3e"/><stop offset=".574" stop-color="#fdaf31"/><stop offset=".677" stop-color="#fdca26"/><stop offset=".794" stop-color="#f9dd25"/><stop offset="1.000" stop-color="#f6e826"/></linearGradient>
<linearGradient id="g53" gradientUnits="userSpaceOnUse" x1="0" y1="65.25" x2="0" y2="321.467"><stop offset=".000" stop-color="#2e0595"/><stop offset=".025" stop-color="#330597"/><stop offset=".040" stop-color="#5901a5"/><stop offset=".053" stop-color="#7100a8"/><stop offset=".068" stop-color="#8707a6"/><stop offset=".088" stop-color="#9c179e"/><stop offset=".113" stop-color="#ac2694"/><stop offset=".145" stop-color="#b83289"/><stop offset=".208" stop-color="#c7427c"/><stop offset=".276" stop-color="#cf4c74"/><stop offset=".386" stop-color="#e3685f"/><stop offset=".436" stop-color="#ed7953"/><stop offset=".519" stop-color="#fa9b3d"/><stop offset=".586" stop-color="#fdb22f"/><stop offset=".662" stop-color="#fdc627"/><stop offset=".794" stop-color="#f9dd25"/><stop offset="1.000" stop-color="#f6e826"/></linearGradient>
<linearGradient id="g54" gradientUnits="userSpaceOnUse" x1="0" y1="65.25" x2="0" y2="321.467"><stop offset=".000" stop-color="#370499"/><stop offset=".013" stop-color="#38049a"/><stop offset=".025" stop-color="#5302a3"/><stop offset=".040" stop-color="#6f00a8"/><stop offset=".055" stop-color="#8405a7"/><stop offset=".070" stop-color="#9511a1"/><stop offset=".085" stop-color="#a11b9b"/><stop offset=".113" stop-color="#b02991"/><stop offset=".165" stop-color="#be3885"/><stop offset=".216" stop-color="#c7427c"/><stop offset=".278" stop-color="#cc4977"/><stop offset=".393" stop-color="#e06363"/><stop offset=".449" stop-color="#eb7655"/><stop offset=".524" stop-color="#f9973f"/><stop offset=".566" stop-color="#fca835"/><stop offset=".652" stop-color="#fdc229"/><stop offset=".797" stop-color="#f9dd25"/><stop offset="1.000" stop-color="#f6e826"/></linearGradient>
<linearGradient id="g55" gradientUnits="userSpaceOnUse" x1="0" y1="65.25" x2="0" y2="321.467"><stop offset=".000" stop-color="#310597"/><stop offset=".010" stop-color="#310597"/><stop offset=".023" stop-color="#3c049b"/><stop offset=".030" stop-color="#4903a0"/><stop offset=".040" stop-color="#6100a7"/><stop offset=".053" stop-color="#7701a8"/><stop offset=".065" stop-color="#8707a6"/><stop offset=".085" stop-color="#9c179e"/><stop offset=".118" stop-color="#ae2892"/><stop offset=".168" stop-color="#bd3786"/><stop offset=".226" stop-color="#c7427c"/><stop offset=".276" stop-color="#cb4679"/><stop offset=".388" stop-color="#dd5e66"/><stop offset=".441" stop-color="#e87059"/><stop offset=".524" stop-color="#f89441"/><stop offset=".564" stop-color="#fca537"/><stop offset=".654" stop-color="#fdc229"/><stop offset=".782" stop-color="#f9dc24"/><stop offset=".857" stop-color="#f7e225"/><stop offset="1.000" stop-color="#f6e826"/></linearGradient>
<linearGradient id="g56" gradientUnits="userSpaceOnUse" x1="0" y1="65.25" x2="0" y2="321.467"><stop offset=".000" stop-color="#2a0593"/><stop offset=".025" stop-color="#2c0594"/><stop offset=".043" stop-color="#4c02a1"/><stop offset=".050" stop-color="#5e01a6"/><stop offset=".070" stop-color="#8104a7"/><stop offset=".088" stop-color="#9511a1"/><stop offset=".103" stop-color="#a11b9b"/><stop offset=".145" stop-color="#b6308b"/><stop offset=".198" stop-color="#c33d80"/><stop offset=".278" stop-color="#cd4a76"/><stop offset=".393" stop-color="#e26561"/><stop offset=".451" stop-color="#ed7a52"/><stop offset=".521" stop-color="#f9983e"/><stop offset=".617" stop-color="#feb82c"/><stop offset=".697" stop-color="#fccd25"/><stop offset=".797" stop-color="#f9dd25"/><stop offset="1.000" stop-color="#f6e826"/></linearGradient>
<linearGradient id="g57" gradientUnits="userSpaceOnUse" x1="0" y1="65.25" x2="0" y2="321.467"><stop offset=".000" stop-color="#2e0595"/><stop offset=".025" stop-color="#310597"/><stop offset=".028" stop-color="#350498"/><stop offset=".040" stop-color="#5601a4"/><stop offset=".055" stop-color="#7201a8"/><stop offset=".070" stop-color="#8808a6"/><stop offset=".090" stop-color="#9c179e"/><stop offset=".113" stop-color="#ab2494"/><stop offset=".148" stop-color="#b83289"/><stop offset=".213" stop-color="#c7427c"/><stop offset=".273" stop-color="#cd4a76"/><stop offset=".393" stop-color="#e26660"/><stop offset=".461" stop-color="#f07f4f"/><stop offset=".519" stop-color="#f9983e"/><stop offset=".599" stop-color="#fdb42f"/><stop offset=".697" stop-color="#fccd25"/><stop offset=".797" stop-color="#f9dd25"/><stop offset=".887" stop-color="#f7e425"/><stop offset="1.000" stop-color="#f6e826"/></linearGradient>
<linearGradient id="g58" gradientUnits="userSpaceOnUse" x1="0" y1="65.25" x2="0" y2="321.467"><stop offset=".000" stop-color="#330597"/><stop offset=".013" stop-color="#350498"/><stop offset=".025" stop-color="#48039f"/><stop offset=".035" stop-color="#5c01a6"/><stop offset=".050" stop-color="#7701a8"/><stop offset=".063" stop-color="#8707a6"/><stop offset=".075" stop-color="#9511a1"/><stop offset=".090" stop-color="#a11b9b"/><stop offset=".135" stop-color="#b52f8c"/><stop offset=".185" stop-color="#c13b82"/><stop offset=".291" stop-color="#ce4b75"/><stop offset=".391" stop-color="#df6263"/><stop offset=".444" stop-color="#ea7457"/><stop offset=".531" stop-color="#f99a3e"/><stop offset=".612" stop-color="#fdb52e"/><stop offset=".692" stop-color="#fdcb26"/><stop offset=".797" stop-color="#f9dd25"/><stop offset="1.000" stop-color="#f6e826"/></linearGradient>
<linearGradient id="g59" gradientUnits="userSpaceOnUse" x1="0" y1="65.25" x2="0" y2="321.467"><stop offset=".000" stop-color="#280592"/><stop offset=".020" stop-color="#2a0593"/><stop offset=".030" stop-color="#2f0596"/><stop offset=".038" stop-color="#38049a"/><stop offset=".053" stop-color="#5b01a5"/><stop offset=".070" stop-color="#7b02a8"/><stop offset=".090" stop-color="#9410a2"/><stop offset=".113" stop-color="#a62098"/><stop offset=".150" stop-color="#b6308b"/><stop offset=".206" stop-color="#c43e7f"/><stop offset=".281" stop-color="#cd4a76"/><stop offset=".388" stop-color="#e06363"/><stop offset=".441" stop-color="#eb7556"/><stop offset=".524" stop-color="#f9983e"/><stop offset=".624" stop-color="#feba2c"/><stop offset=".707" stop-color="#fcce25"/><stop offset=".797" stop-color="#f9dd25"/><stop offset="1.000" stop-color="#f6e826"/></linearGradient>
<linearGradient id="g60" gradientUnits="userSpaceOnUse" x1="0" y1="65.25" x2="0" y2="321.467"><stop offset=".000" stop-color="#2e0595"/><stop offset=".025" stop-color="#310597"/><stop offset=".043" stop-color="#5601a4"/><stop offset=".053" stop-color="#6a00a8"/><stop offset=".070" stop-color="#8606a6"/><stop offset=".093" stop-color="#9c179e"/><stop offset=".113" stop-color="#aa2395"/><stop offset=".140" stop-color="#b52f8c"/><stop offset=".203" stop-color="#c5407e"/><stop offset=".276" stop-color="#ce4b75"/><stop offset=".388" stop-color="#e26660"/><stop offset=".441" stop-color="#ed7953"/><stop offset=".519" stop-color="#f99a3e"/><stop offset=".602" stop-color="#fdb52e"/><stop offset=".687" stop-color="#fdcb26"/><stop offset=".797" stop-color="#f9dd25"/><stop offset=".887" stop-color="#f7e425"/><stop offset="1.000" stop-color="#f6e826"/></linearGradient>
<linearGradient id="g61" gradientUnits="userSpaceOnUse" x1="0" y1="65.25" x2="0" y2="321.467"><stop offset=".000" stop-color="#310597"/><stop offset=".013" stop-color="#330597"/><stop offset=".025" stop-color="#3c049b"/><stop offset=".028" stop-color="#3f049c"/><stop offset=".040" stop-color="#5e01a6"/><stop offset=".053" stop-color="#7401a8"/><stop offset=".070" stop-color="#8b0aa5"/><stop offset=".090" stop-color="#9e199d"/><stop offset=".110" stop-color="#ab2494"/><stop offset=".135" stop-color="#b52f8c"/><stop offset=".201" stop-color="#c6417d"/><stop offset=".278" stop-color="#d14e72"/><stop offset=".388" stop-color="#e56b5d"/><stop offset=".491" stop-color="#f79342"/><stop offset=".559" stop-color="#fdac33"/><stop offset=".674" stop-color="#fdca26"/><stop offset=".794" stop-color="#f9dd25"/><stop offset="1.000" stop-color="#f6e826"/></linearGradient>
<linearGradient id="g62" gradientUnits="userSpaceOnUse" x1="0" y1="65.25" x2="0" y2="321.467"><stop offset=".000" stop-color="#310597"/><stop offset=".025" stop-color="#350498"/><stop offset=".028" stop-color="#38049a"/><stop offset=".038" stop-color="#5302a3"/><stop offset=".053" stop-color="#7100a8"/><stop offset=".073" stop-color="#8b0aa5"/><stop offset=".093" stop-color="#9e199d"/><stop offset=".108" stop-color="#a82296"/><stop offset=".145" stop-color="#b83289"/><stop offset=".208" stop-color="#c8437b"/><stop offset=".288" stop-color="#d45270"/><stop offset=".386" stop-color="#e66c5c"/><stop offset=".494" stop-color="#f89540"/><stop offset=".569" stop-color="#fdb130"/><stop offset=".672" stop-color="#fdca26"/><stop offset=".794" stop-color="#f9dd25"/><stop offset="1.000" stop-color="#f6e826"/></linearGradient>
<linearGradient id="g63" gradientUnits="userSpaceOnUse" x1="0" y1="65.25" x2="0" y2="321.467"><stop offset=".000" stop-color="#310597"/><stop offset=".025" stop-color="#330597"/><stop offset=".038" stop-color="#5102a3"/><stop offset=".053" stop-color="#6f00a8"/><stop offset=".068" stop-color="#8405a7"/><stop offset=".088" stop-color="#9a169f"/><stop offset=".110" stop-color="#aa2395"/><stop offset=".130" stop-color="#b32c8e"/><stop offset=".211" stop-color="#ca457a"/><stop offset=".281" stop-color="#d5536f"/><stop offset=".388" stop-color="#e97257"/><stop offset=".479" stop-color="#f89540"/><stop offset=".566" stop-color="#fdb42f"/><stop offset=".664" stop-color="#fdca26"/><stop offset=".792" stop-color="#f9dd25"/><stop offset="1.000" stop-color="#f6e826"/></linearGradient>
<linearGradient id="g64" gradientUnits="userSpaceOnUse" x1="0" y1="65.25" x2="0" y2="321.467"><stop offset=".000" stop-color="#2c0594"/><stop offset=".028" stop-color="#310597"/><stop offset=".040" stop-color="#43039e"/><stop offset=".053" stop-color="#6001a6"/><stop offset=".070" stop-color="#7e03a8"/><stop offset=".090" stop-color="#9511a1"/><stop offset=".110" stop-color="#a51f99"/><stop offset=".153" stop-color="#b83289"/><stop offset=".211" stop-color="#c7427c"/><stop offset=".283" stop-color="#d14e72"/><stop offset=".393" stop-color="#e56b5d"/><stop offset=".491" stop-color="#f79143"/><stop offset=".566" stop-color="#fdae32"/><stop offset=".652" stop-color="#fdc527"/><stop offset=".794" stop-color="#f9dd25"/><stop offset="1.000" stop-color="#f6e826"/></linearGradient>
<linearGradient id="g65" gradientUnits="userSpaceOnUse" x1="0" y1="65.25" x2="0" y2="321.467"><stop offset=".000" stop-color="#330597"/><stop offset=".013" stop-color="#350498"/><stop offset=".025" stop-color="#3c049b"/><stop offset=".038" stop-color="#5801a4"/><stop offset=".053" stop-color="#7401a8"/><stop offset=".070" stop-color="#8b0aa5"/><stop offset=".090" stop-color="#9e199d"/><stop offset=".108" stop-color="#aa2395"/><stop offset=".148" stop-color="#bb3488"/><stop offset=".218" stop-color="#cc4977"/><stop offset=".283" stop-color="#d7566c"/><stop offset=".391" stop-color="#ec7754"/><stop offset=".461" stop-color="#f79342"/><stop offset=".566" stop-color="#feb72d"/><stop offset=".649" stop-color="#fdc827"/><stop offset=".789" stop-color="#f9dd25"/><stop offset="1.000" stop-color="#f6e826"/></linearGradient>
<linearGradient id="g66" gradientUnits="userSpaceOnUse" x1="0" y1="65.25" x2="0" y2="321.467"><stop offset=".000" stop-color="#2f0596"/><stop offset=".025" stop-color="#310597"/><stop offset=".038" stop-color="#44039e"/><stop offset=".050" stop-color="#6001a6"/><stop offset=".070" stop-color="#8104a7"/><stop offset=".088" stop-color="#9511a1"/><stop offset=".110" stop-color="#a62098"/><stop offset=".150" stop-color="#b7318a"/><stop offset=".203" stop-color="#c43e7f"/><stop offset=".276" stop-color="#cd4a76"/><stop offset=".391" stop-color="#e26561"/><stop offset=".434" stop-color="#ea7457"/><stop offset=".514" stop-color="#f89540"/><stop offset=".584" stop-color="#fdaf31"/><stop offset=".697" stop-color="#fccd25"/><stop offset=".797" stop-color="#f9dd25"/><stop offset="1.000" stop-color="#f6e826"/></linearGradient>
<linearGradient id="g67" gradientUnits="userSpaceOnUse" x1="0" y1="65.25" x2="0" y2="321.467"><stop offset=".000" stop-color="#310597"/><stop offset=".025" stop-color="#350498"/><stop offset=".048" stop-color="#6300a7"/><stop offset=".068" stop-color="#8305a7"/><stop offset=".085" stop-color="#9613a1"/><stop offset=".098" stop-color="#a01a9c"/><stop offset=".113" stop-color="#aa2395"/><stop offset=".145" stop-color="#b7318a"/><stop offset=".218" stop-color="#c9447a"/><stop offset=".278" stop-color="#d04d73"/><stop offset=".386" stop-color="#e4695e"/><stop offset=".446" stop-color="#ef7e50"/><stop offset=".499" stop-color="#f89441"/><stop offset=".566" stop-color="#fdae32"/><stop offset=".684" stop-color="#fdcb26"/><stop offset=".794" stop-color="#f9dd25"/><stop offset="1.000" stop-color="#f6e826"/></linearGradient>
<linearGradient id="g68" gradientUnits="userSpaceOnUse" x1="0" y1="65.25" x2="0" y2="321.467"><stop offset=".000" stop-color="#310597"/><stop offset=".025" stop-color="#330597"/><stop offset=".048" stop-color="#6001a6"/><stop offset=".053" stop-color="#6a00a8"/><stop offset=".068" stop-color="#8104a7"/><stop offset=".085" stop-color="#9511a1"/><stop offset=".103" stop-color="#a21d9a"/><stop offset=".148" stop-color="#b7318a"/><stop offset=".208" stop-color="#c5407e"/><stop offset=".278" stop-color="#cd4a76"/><stop offset=".393" stop-color="#e26561"/><stop offset=".451" stop-color="#ed7a52"/><stop offset=".521" stop-color="#f9983e"/><stop offset=".617" stop-color="#feb82c"/><stop offset=".697" stop-color="#fccd25"/><stop offset=".797" stop-color="#f9dd25"/><stop offset="1.000" stop-color="#f6e826"/></linearGradient>
<linearGradient id="g69" gradientUnits="userSpaceOnUse" x1="0" y1="65.25" x2="0" y2="321.467"><stop offset=".000" stop-color="#330597"/><stop offset=".025" stop-color="#350498"/><stop offset=".043" stop-color="#5b01a5"/><stop offset=".060" stop-color="#7a02a8"/><stop offset=".078" stop-color="#8f0da4"/><stop offset=".095" stop-color="#9e199d"/><stop offset=".115" stop-color="#ab2494"/><stop offset=".148" stop-color="#b7318a"/><stop offset=".218" stop-color="#c6417d"/><stop offset=".283" stop-color="#cc4977"/><stop offset=".393" stop-color="#df6263"/><stop offset=".436" stop-color="#e87059"/><stop offset=".536" stop-color="#fa9b3d"/><stop offset=".627" stop-color="#feba2c"/><stop offset=".709" stop-color="#fcce25"/><stop offset=".817" stop-color="#f8df25"/><stop offset="1.000" stop-color="#f6e826"/></linearGradient>
<linearGradient id="g70" gradientUnits="userSpaceOnUse" x1="0" y1="65.25" x2="0" y2="321.467"><stop offset=".000" stop-color="#2f0596"/><stop offset=".028" stop-color="#350498"/><stop offset=".040" stop-color="#48039f"/><stop offset=".058" stop-color="#6c00a8"/><stop offset=".070" stop-color="#8004a8"/><stop offset=".098" stop-color="#9c179e"/><stop offset=".138" stop-color="#b22b8f"/><stop offset=".206" stop-color="#c33d80"/><stop offset=".278" stop-color="#cc4778"/><stop offset=".391" stop-color="#de6164"/><stop offset=".444" stop-color="#e97257"/><stop offset=".534" stop-color="#f99a3e"/><stop offset=".647" stop-color="#fec029"/><stop offset=".702" stop-color="#fccd25"/><stop offset=".782" stop-color="#f9dc24"/><stop offset=".837" stop-color="#f8e125"/><stop offset="1.000" stop-color="#f6e826"/></linearGradient>
<linearGradient id="g71" gradientUnits="userSpaceOnUse" x1="0" y1="65.25" x2="0" y2="321.467"><stop offset=".000" stop-color="#2e0595"/><stop offset=".023" stop-color="#2f0596"/><stop offset=".038" stop-color="#370499"/><stop offset=".043" stop-color="#3f049c"/><stop offset=".053" stop-color="#5801a4"/><stop offset=".070" stop-color="#7801a8"/><stop offset=".093" stop-color="#9410a2"/><stop offset=".110" stop-color="#a21d9a"/><stop offset=".148" stop-color="#b52f8c"/><stop offset=".216" stop-color="#c7427c"/><stop offset=".276" stop-color="#ce4b75"/><stop offset=".391" stop-color="#e3685f"/><stop offset=".511" stop-color="#f9973f"/><stop offset=".584" stop-color="#fdb130"/><stop offset=".694" stop-color="#fccd25"/><stop offset=".794" stop-color="#f9dd25"/><stop offset="1.000" stop-color="#f6e826"/></linearGradient>
<linearGradient id="g72" gradientUnits="userSpaceOnUse" x1="0" y1="65.25" x2="0" y2="321.467"><stop offset=".000" stop-color="#350498"/><stop offset=".025" stop-color="#3c049b"/><stop offset=".040" stop-color="#5c01a6"/><stop offset=".055" stop-color="#7701a8"/><stop offset=".078" stop-color="#920fa3"/><stop offset=".098" stop-color="#a21d9a"/><stop offset=".143" stop-color="#b7318a"/><stop offset=".218" stop-color="#ca457a"/><stop offset=".286" stop-color="#d35171"/><stop offset=".388" stop-color="#e66c5c"/><stop offset=".499" stop-color="#f9973f"/><stop offset=".556" stop-color="#fdac33"/><stop offset=".664" stop-color="#fdc827"/><stop offset=".794" stop-color="#f9dd25"/><stop offset="1.000" stop-color="#f6e826"/></linearGradient>
<linearGradient id="g73" gradientUnits="userSpaceOnUse" x1="0" y1="65.25" x2="0" y2="321.467"><stop offset=".000" stop-color="#310597"/><stop offset=".025" stop-color="#330597"/><stop offset=".040" stop-color="#46039f"/><stop offset=".050" stop-color="#5c01a6"/><stop offset=".063" stop-color="#7201a8"/><stop offset=".075" stop-color="#8405a7"/><stop offset=".090" stop-color="#9511a1"/><stop offset=".110" stop-color="#a51f99"/><stop offset=".148" stop-color="#b6308b"/><stop offset=".208" stop-color="#c5407e"/><stop offset=".273" stop-color="#cd4a76"/><stop offset=".396" stop-color="#e3685f"/><stop offset=".441" stop-color="#ec7754"/><stop offset=".521" stop-color="#f99a3e"/><stop offset=".566" stop-color="#fdab33"/><stop offset=".614" stop-color="#feb82c"/><stop offset=".697" stop-color="#fccd25"/><stop offset=".797" stop-color="#f9dd25"/><stop offset=".887" stop-color="#f7e425"/><stop offset="1.000" stop-color="#f6e826"/></linearGradient>
<linearGradient id="g74" gradientUnits="userSpaceOnUse" x1="0" y1="65.25" x2="0" y2="321.467"><stop offset=".000" stop-color="#2e0595"/><stop offset=".035" stop-color="#310597"/><stop offset=".040" stop-color="#350498"/><stop offset=".060" stop-color="#6001a6"/><stop offset=".073" stop-color="#7701a8"/><stop offset=".088" stop-color="#8b0aa5"/><stop offset=".113" stop-color="#a21d9a"/><stop offset=".153" stop-color="#b6308b"/><stop offset=".216" stop-color="#c8437b"/><stop offset=".283" stop-color="#d24f71"/><stop offset=".393" stop-color="#e76e5b"/><stop offset=".489" stop-color="#f79342"/><stop offset=".561" stop-color="#fdae32"/><stop offset=".657" stop-color="#fdc627"/><stop offset=".794" stop-color="#f9dd25"/><stop offset="1.000" stop-color="#f6e826"/></linearGradient>
<linearGradient id="g75" gradientUnits="userSpaceOnUse" x1="0" y1="65.25" x2="0" y2="321.467"><stop offset=".000" stop-color="#2c0594"/><stop offset=".035" stop-color="#2f0596"/><stop offset=".040" stop-color="#330597"/><stop offset=".053" stop-color="#44039e"/><stop offset=".073" stop-color="#6f00a8"/><stop offset=".088" stop-color="#8606a6"/><stop offset=".113" stop-color="#9e199d"/><stop offset=".150" stop-color="#b32c8e"/><stop offset=".218" stop-color="#c6417d"/><stop offset=".276" stop-color="#cc4977"/><stop offset=".391" stop-color="#e16462"/><stop offset=".449" stop-color="#ed7953"/><stop offset=".519" stop-color="#f9973f"/><stop offset=".602" stop-color="#fdb42f"/><stop offset=".707" stop-color="#fcce25"/><stop offset=".797" stop-color="#f9dd25"/><stop offset="1.000" stop-color="#f6e826"/></linearGradient>
<linearGradient id="g76" gradientUnits="userSpaceOnUse" x1="0" y1="65.25" x2="0" y2="321.467"><stop offset=".000" stop-color="#2f0596"/><stop offset=".038" stop-color="#330597"/><stop offset=".055" stop-color="#5601a4"/><stop offset=".073" stop-color="#7701a8"/><stop offset=".088" stop-color="#8b0aa5"/><stop offset=".113" stop-color="#a21d9a"/><stop offset=".150" stop-color="#b52f8c"/><stop offset=".213" stop-color="#c7427c"/><stop offset=".283" stop-color="#d14e72"/><stop offset=".383" stop-color="#e4695e"/><stop offset=".494" stop-color="#f79342"/><stop offset=".561" stop-color="#fdac33"/><stop offset=".659" stop-color="#fdc627"/><stop offset=".794" stop-color="#f9dd25"/><stop offset="1.000" stop-color="#f6e826"/></linearGradient>
<linearGradient id="g77" gradientUnits="userSpaceOnUse" x1="0" y1="65.25" x2="0" y2="321.467"><stop offset=".000" stop-color="#310597"/><stop offset=".038" stop-color="#370499"/><stop offset=".053" stop-color="#5801a4"/><stop offset=".070" stop-color="#7801a8"/><stop offset=".090" stop-color="#910ea3"/><stop offset=".113" stop-color="#a31e9a"/><stop offset=".150" stop-color="#b52f8c"/><stop offset=".211" stop-color="#c5407e"/><stop offset=".278" stop-color="#cd4a76"/><stop offset=".391" stop-color="#e26561"/><stop offset=".444" stop-color="#ec7754"/><stop offset=".514" stop-color="#f89540"/><stop offset=".579" stop-color="#fdae32"/><stop offset=".697" stop-color="#fccd25"/><stop offset=".797" stop-color="#f9dd25"/><stop offset="1.000" stop-color="#f6e826"/></linearGradient>
<linearGradient id="g78" gradientUnits="userSpaceOnUse" x1="0" y1="65.25" x2="0" y2="321.467"><stop offset=".000" stop-color="#2e0595"/><stop offset=".038" stop-color="#310597"/><stop offset=".043" stop-color="#350498"/><stop offset=".053" stop-color="#3f049c"/><stop offset=".068" stop-color="#6300a7"/><stop offset=".075" stop-color="#6f00a8"/><stop offset=".085" stop-color="#8004a8"/><stop offset=".115" stop-color="#a01a9c"/><stop offset=".148" stop-color="#b32c8e"/><stop offset=".216" stop-color="#c8437b"/><stop offset=".288" stop-color="#d45270"/><stop offset=".391" stop-color="#e76f5a"/><stop offset=".491" stop-color="#f89540"/><stop offset=".566" stop-color="#fdb130"/><stop offset=".662" stop-color="#fdc827"/><stop offset=".792" stop-color="#f9dd25"/><stop offset="1.000" stop-color="#f6e826"/></linearGradient>
<linearGradient id="g79" gradientUnits="userSpaceOnUse" x1="0" y1="65.25" x2="0" y2="321.467"><stop offset=".000" stop-color="#2e0595"/><stop offset=".038" stop-color="#310597"/><stop offset=".053" stop-color="#3c049b"/><stop offset=".070" stop-color="#6600a7"/><stop offset=".078" stop-color="#7201a8"/><stop offset=".093" stop-color="#8707a6"/><stop offset=".113" stop-color="#9d189d"/><stop offset=".153" stop-color="#b42e8d"/><stop offset=".216" stop-color="#c8437b"/><stop offset=".288" stop-color="#d45270"/><stop offset=".391" stop-color="#e76f5a"/><stop offset=".484" stop-color="#f79342"/><stop offset=".561" stop-color="#fdaf31"/><stop offset=".662" stop-color="#fdc827"/><stop offset=".792" stop-color="#f9dd25"/><stop offset="1.000" stop-color="#f6e826"/></linearGradient>
<linearGradient id="g80" gradientUnits="userSpaceOnUse" x1="0" y1="65.25" x2="0" y2="321.467"><stop offset=".000" stop-color="#330597"/><stop offset=".038" stop-color="#3a049a"/><stop offset=".053" stop-color="#5b01a5"/><stop offset=".070" stop-color="#7a02a8"/><stop offset=".088" stop-color="#8f0da4"/><stop offset=".110" stop-color="#a21d9a"/><stop offset=".150" stop-color="#b52f8c"/><stop offset=".218" stop-color="#c6417d"/><stop offset=".276" stop-color="#cc4977"/><stop offset=".391" stop-color="#e16462"/><stop offset=".446" stop-color="#ec7754"/><stop offset=".526" stop-color="#f99a3e"/><stop offset=".566" stop-color="#fca934"/><stop offset=".629" stop-color="#febb2b"/><stop offset=".707" stop-color="#fcce25"/><stop offset=".797" stop-color="#f9dd25"/><stop offset="1.000" stop-color="#f6e826"/></linearGradient>
<linearGradient id="g81" gradientUnits="userSpaceOnUse" x1="0" y1="65.25" x2="0" y2="321.467"><stop offset=".000" stop-color="#2e0595"/><stop offset=".050" stop-color="#330597"/><stop offset=".053" stop-color="#350498"/><stop offset=".068" stop-color="#5901a5"/><stop offset=".080" stop-color="#7100a8"/><stop offset=".095" stop-color="#8606a6"/><stop offset=".115" stop-color="#9c179e"/><stop offset=".150" stop-color="#b22b8f"/><stop offset=".216" stop-color="#c7427c"/><stop offset=".283" stop-color="#d24f71"/><stop offset=".383" stop-color="#e56b5d"/><stop offset=".484" stop-color="#f79143"/><stop offset=".564" stop-color="#fdaf31"/><stop offset=".664" stop-color="#fdc827"/><stop offset=".794" stop-color="#f9dd25"/><stop offset="1.000" stop-color="#f6e826"/></linearGradient>
<linearGradient id="g82" gradientUnits="userSpaceOnUse" x1="0" y1="65.25" x2="0" y2="321.467"><stop offset=".000" stop-color="#2f0596"/><stop offset=".040" stop-color="#350498"/><stop offset=".053" stop-color="#3f049c"/><stop offset=".070" stop-color="#6700a8"/><stop offset=".083" stop-color="#7b02a8"/><stop offset=".095" stop-color="#8a09a5"/><stop offset=".113" stop-color="#9d189d"/><stop offset=".148" stop-color="#b22b8f"/><stop offset=".216" stop-color="#c6417d"/><stop offset=".276" stop-color="#ce4b75"/><stop offset=".383" stop-color="#e26660"/><stop offset=".496" stop-color="#f79143"/><stop offset=".561" stop-color="#fdab33"/><stop offset=".654" stop-color="#fdc527"/><stop offset=".794" stop-color="#f9dd25"/><stop offset="1.000" stop-color="#f6e826"/></linearGradient>
<linearGradient id="g83" gradientUnits="userSpaceOnUse" x1="0" y1="65.25" x2="0" y2="321.467"><stop offset=".000" stop-color="#350498"/><stop offset=".038" stop-color="#38049a"/><stop offset=".053" stop-color="#5801a4"/><stop offset=".070" stop-color="#7701a8"/><stop offset=".093" stop-color="#920fa3"/><stop offset=".113" stop-color="#a31e9a"/><stop offset=".153" stop-color="#b6308b"/><stop offset=".213" stop-color="#c7427c"/><stop offset=".278" stop-color="#d04d73"/><stop offset=".391" stop-color="#e56b5d"/><stop offset=".496" stop-color="#f89441"/><stop offset=".564" stop-color="#fdae32"/><stop offset=".667" stop-color="#fdc827"/><stop offset=".794" stop-color="#f9dd25"/><stop offset="1.000" stop-color="#f6e826"/></linearGradient>
<linearGradient id="g84" gradientUnits="userSpaceOnUse" x1="0" y1="65.25" x2="0" y2="475.197"><stop offset=".000" stop-color="#6a00a8"/><stop offset=".043" stop-color="#7201a8"/><stop offset=".055" stop-color="#7b02a8"/><stop offset=".065" stop-color="#920fa3"/><stop offset=".078" stop-color="#a62098"/><stop offset=".088" stop-color="#b12a90"/><stop offset=".110" stop-color="#c03a83"/><stop offset=".135" stop-color="#ca457a"/><stop offset=".175" stop-color="#d14e72"/><stop offset=".243" stop-color="#e26660"/><stop offset=".276" stop-color="#ed7953"/><stop offset=".336" stop-color="#fca338"/><stop offset=".358" stop-color="#fdb22f"/><stop offset=".409" stop-color="#fccd25"/><stop offset=".489" stop-color="#f6e826"/><stop offset=".556" stop-color="#f3f027"/><stop offset=".709" stop-color="#f1f525"/><stop offset=".747" stop-color="#f0f724"/><stop offset=".749" stop-color="#f0f921"/><stop offset="1.000" stop-color="#f0f921"/></linearGradient>
<linearGradient id="g85" gradientUnits="userSpaceOnUse" x1="0" y1="65.25" x2="0" y2="475.197"><stop offset=".000" stop-color="#6e00a8"/><stop offset=".040" stop-color="#7501a8"/><stop offset=".055" stop-color="#7b02a8"/><stop offset=".068" stop-color="#9410a2"/><stop offset=".078" stop-color="#a51f99"/><stop offset=".088" stop-color="#b12a90"/><stop offset=".103" stop-color="#bd3786"/><stop offset=".138" stop-color="#ce4b75"/><stop offset=".168" stop-color="#d5546e"/><stop offset=".221" stop-color="#e66c5c"/><stop offset=".256" stop-color="#ef7c51"/><stop offset=".296" stop-color="#f9973f"/><stop offset=".356" stop-color="#febb2b"/><stop offset=".411" stop-color="#fcd225"/><stop offset=".486" stop-color="#f6e826"/><stop offset=".556" stop-color="#f3f027"/><stop offset=".709" stop-color="#f1f525"/><stop offset=".747" stop-color="#f0f724"/><stop offset=".749" stop-color="#f0f921"/><stop offset="1.000" stop-color="#f0f921"/></linearGradient>
<linearGradient id="g86" gradientUnits="userSpaceOnUse" x1="0" y1="65.25" x2="0" y2="475.197"><stop offset=".000" stop-color="#6400a7"/><stop offset=".038" stop-color="#6a00a8"/><stop offset=".055" stop-color="#7100a8"/><stop offset=".063" stop-color="#8004a8"/><stop offset=".073" stop-color="#9511a1"/><stop offset=".090" stop-color="#ad2793"/><stop offset=".113" stop-color="#be3885"/><stop offset=".135" stop-color="#c8437b"/><stop offset=".173" stop-color="#ce4b75"/><stop offset=".243" stop-color="#e06363"/><stop offset=".283" stop-color="#ed7a52"/><stop offset=".336" stop-color="#fba139"/><stop offset=".373" stop-color="#feb82c"/><stop offset=".411" stop-color="#fccd25"/><stop offset=".489" stop-color="#f6e826"/><stop offset=".556" stop-color="#f3f027"/><stop offset=".709" stop-color="#f1f525"/><stop offset=".747" stop-color="#f0f724"/><stop offset=".749" stop-color="#f0f921"/><stop offset="1.000" stop-color="#f0f921"/></linearGradient>
<linearGradient id="g87" gradientUnits="userSpaceOnUse" x1="0" y1="65.25" x2="0" y2="475.197"><stop offset=".000" stop-color="#6900a8"/><stop offset=".043" stop-color="#7100a8"/><stop offset=".053" stop-color="#7401a8"/><stop offset=".058" stop-color="#7a02a8"/><stop offset=".065" stop-color="#8707a6"/><stop offset=".075" stop-color="#9c179e"/><stop offset=".093" stop-color="#b22b8f"/><stop offset=".113" stop-color="#c03a83"/><stop offset=".140" stop-color="#cc4778"/><stop offset=".175" stop-color="#d35171"/><stop offset=".246" stop-color="#e66c5c"/><stop offset=".286" stop-color="#f2844b"/><stop offset=".323" stop-color="#fb9f3a"/><stop offset=".361" stop-color="#feb72d"/><stop offset=".396" stop-color="#fdc827"/><stop offset=".436" stop-color="#fad824"/><stop offset=".489" stop-color="#f6e826"/><stop offset=".556" stop-color="#f3f027"/><stop offset=".709" stop-color="#f1f525"/><stop offset=".747" stop-color="#f0f724"/><stop offset=".749" stop-color="#f0f921"/><stop offset="1.000" stop-color="#f0f921"/></linearGradient>
<linearGradient id="g88" gradientUnits="userSpaceOnUse" x1="0" y1="65.25" x2="0" y2="475.197"><stop offset=".000" stop-color="#7701a8"/><stop offset=".045" stop-color="#8104a7"/><stop offset=".055" stop-color="#8f0da4"/><stop offset=".065" stop-color="#a31e9a"/><stop offset=".078" stop-color="#b32c8e"/><stop offset=".100" stop-color="#c23c81"/><stop offset=".130" stop-color="#cd4a76"/><stop offset=".173" stop-color="#d5546e"/><stop offset=".231" stop-color="#e56b5d"/><stop offset=".273" stop-color="#f1814d"/><stop offset=".318" stop-color="#fba139"/><stop offset=".353" stop-color="#feb72d"/><stop offset=".398" stop-color="#fdcb26"/><stop offset=".481" stop-color="#f6e626"/><stop offset=".556" stop-color="#f3f027"/><stop offset=".709" stop-color="#f1f525"/><stop offset=".747" stop-color="#f0f724"/><stop offset=".749" stop-color="#f0f921"/><stop offset="1.000" stop-color="#f0f921"/></linearGradient>
<linearGradient id="g89" gradientUnits="userSpaceOnUse" x1="0" y1="65.25" x2="0" y2="475.197"><stop offset=".000" stop-color="#7701a8"/><stop offset=".040" stop-color="#7d03a8"/><stop offset=".048" stop-color="#8305a7"/><stop offset=".055" stop-color="#8b0aa5"/><stop offset=".065" stop-color="#a11b9b"/><stop offset=".080" stop-color="#b32c8e"/><stop offset=".093" stop-color="#bd3786"/><stop offset=".130" stop-color="#cc4778"/><stop offset=".173" stop-color="#d35171"/><stop offset=".238" stop-color="#e3685f"/><stop offset=".271" stop-color="#ed7953"/><stop offset=".306" stop-color="#f79143"/><stop offset=".338" stop-color="#fca835"/><stop offset=".404" stop-color="#fdcb26"/><stop offset=".489" stop-color="#f6e826"/><stop offset=".556" stop-color="#f3f027"/><stop offset=".709" stop-color="#f1f525"/><stop offset=".747" stop-color="#f0f724"/><stop offset=".749" stop-color="#f0f921"/><stop offset="1.000" stop-color="#f0f921"/></linearGradient>
<linearGradient id="g90" gradientUnits="userSpaceOnUse" x1="0" y1="65.25" x2="0" y2="475.197"><stop offset=".000" stop-color="#8f0da4"/><stop offset=".020" stop-color="#920fa3"/><stop offset=".033" stop-color="#9814a0"/><stop offset=".045" stop-color="#aa2395"/><stop offset=".055" stop-color="#b32c8e"/><stop offset=".088" stop-color="#c33d80"/><stop offset=".140" stop-color="#cf4c74"/><stop offset=".173" stop-color="#d35171"/><stop offset=".226" stop-color="#e06363"/><stop offset=".271" stop-color="#ed7953"/><stop offset=".306" stop-color="#f79143"/><stop offset=".348" stop-color="#fdae32"/><stop offset=".391" stop-color="#fdc527"/><stop offset=".424" stop-color="#fbd324"/><stop offset=".489" stop-color="#f6e826"/><stop offset=".556" stop-color="#f3f027"/><stop offset=".709" stop-color="#f1f525"/><stop offset=".747" stop-color="#f0f724"/><stop offset=".749" stop-color="#f0f921"/><stop offset="1.000" stop-color="#f0f921"/></linearGradient>
<linearGradient id="g91" gradientUnits="userSpaceOnUse" x1="0" y1="65.25" x2="0" y2="475.197"><stop offset=".000" stop-color="#910ea3"/><stop offset=".025" stop-color="#9613a1"/><stop offset=".055" stop-color="#b52f8c"/><stop offset=".085" stop-color="#c33d80"/><stop offset=".130" stop-color="#ce4b75"/><stop offset=".178" stop-color="#d5546e"/><stop offset=".231" stop-color="#e3685f"/><stop offset=".276" stop-color="#f07f4f"/><stop offset=".306" stop-color="#f89441"/><stop offset=".356" stop-color="#fdb52e"/><stop offset=".388" stop-color="#fdc527"/><stop offset=".426" stop-color="#fbd524"/><stop offset=".489" stop-color="#f6e826"/><stop offset=".556" stop-color="#f3f027"/><stop offset=".709" stop-color="#f1f525"/><stop offset=".747" stop-color="#f0f724"/><stop offset=".749" stop-color="#f0f921"/><stop offset="1.000" stop-color="#f0f921"/></linearGradient>
<linearGradient id="g92" gradientUnits="userSpaceOnUse" x1="0" y1="65.25" x2="0" y2="475.197"><stop offset=".000" stop-color="#5601a4"/><stop offset=".033" stop-color="#5c01a6"/><stop offset=".043" stop-color="#6e00a8"/><stop offset=".048" stop-color="#7e03a8"/><stop offset=".055" stop-color="#9613a1"/><stop offset=".063" stop-color="#a62098"/><stop offset=".075" stop-color="#b52f8c"/><stop offset=".090" stop-color="#bf3984"/><stop offset=".125" stop-color="#ca457a"/><stop offset=".173" stop-color="#ce4b75"/><stop offset=".238" stop-color="#dd5e66"/><stop offset=".273" stop-color="#e87059"/><stop offset=".336" stop-color="#fa9e3b"/><stop offset=".386" stop-color="#febd2a"/><stop offset=".421" stop-color="#fcd025"/><stop offset=".484" stop-color="#f6e626"/><stop offset=".536" stop-color="#f3ee27"/><stop offset=".709" stop-color="#f1f525"/><stop offset=".747" stop-color="#f0f724"/><stop offset=".749" stop-color="#f0f921"/><stop offset="1.000" stop-color="#f0f921"/></linearGradient>
<linearGradient id="g93" gradientUnits="userSpaceOnUse" x1="0" y1="65.25" x2="0" y2="475.197"><stop offset=".000" stop-color="#5601a4"/><stop offset=".033" stop-color="#5b01a5"/><stop offset=".043" stop-color="#6900a8"/><stop offset=".045" stop-color="#6f00a8"/><stop offset=".048" stop-color="#7a02a8"/><stop offset=".055" stop-color="#9410a2"/><stop offset=".065" stop-color="#a82296"/><stop offset=".075" stop-color="#b42e8d"/><stop offset=".093" stop-color="#c13b82"/><stop offset=".135" stop-color="#cd4a76"/><stop offset=".178" stop-color="#d35171"/><stop offset=".246" stop-color="#e3685f"/><stop offset=".276" stop-color="#ed7953"/><stop offset=".323" stop-color="#fa9b3d"/><stop offset=".358" stop-color="#fdb22f"/><stop offset=".409" stop-color="#fccd25"/><stop offset=".499" stop-color="#f5e926"/><stop offset=".556" stop-color="#f3f027"/><stop offset=".709" stop-color="#f1f525"/><stop offset=".747" stop-color="#f0f724"/><stop offset=".749" stop-color="#f0f921"/><stop offset="1.000" stop-color="#f0f921"/></linearGradient>
<linearGradient id="g94" gradientUnits="userSpaceOnUse" x1="0" y1="65.25" x2="0" y2="475.197"><stop offset=".000" stop-color="#5002a2"/><stop offset=".033" stop-color="#5601a4"/><stop offset=".043" stop-color="#6700a8"/><stop offset=".048" stop-color="#7a02a8"/><stop offset=".055" stop-color="#9410a2"/><stop offset=".065" stop-color="#a82296"/><stop offset=".075" stop-color="#b52f8c"/><stop offset=".090" stop-color="#c03a83"/><stop offset=".135" stop-color="#cf4c74"/><stop offset=".173" stop-color="#d5536f"/><stop offset=".238" stop-color="#e56b5d"/><stop offset=".271" stop-color="#ef7c51"/><stop offset=".321" stop-color="#fb9f3a"/><stop offset=".358" stop-color="#feb72d"/><stop offset=".421" stop-color="#fbd324"/><stop offset=".481" stop-color="#f6e626"/><stop offset=".536" stop-color="#f3ee27"/><stop offset=".709" stop-color="#f1f525"/><stop offset=".747" stop-color="#f0f724"/><stop offset=".749" stop-color="#f0f921"/><stop offset="1.000" stop-color="#f0f921"/></linearGradient>
<linearGradient id="g95" gradientUnits="userSpaceOnUse" x1="0" y1="65.25" x2="0" y2="475.197"><stop offset=".000" stop-color="#5002a2"/><stop offset=".033" stop-color="#5502a4"/><stop offset=".045" stop-color="#7b02a8"/><stop offset=".055" stop-color="#9a169f"/><stop offset=".068" stop-color="#b02991"/><stop offset=".090" stop-color="#c13b82"/><stop offset=".133" stop-color="#ce4b75"/><stop offset=".175" stop-color="#d5536f"/><stop offset=".238" stop-color="#e56a5d"/><stop offset=".273" stop-color="#ef7c51"/><stop offset=".321" stop-color="#fa9e3b"/><stop offset=".363" stop-color="#feb82c"/><stop offset=".409" stop-color="#fcce25"/><stop offset=".489" stop-color="#f6e826"/><stop offset=".536" stop-color="#f3ee27"/><stop offset=".709" stop-color="#f1f525"/><stop offset=".747" stop-color="#f0f724"/><stop offset=".749" stop-color="#f0f921"/><stop offset="1.000" stop-color="#f0f921"/></linearGradient>
<linearGradient id="g96" gradientUnits="userSpaceOnUse" x1="0" y1="65.25" x2="0" y2="475.197"><stop offset=".000" stop-color="#5801a4"/><stop offset=".033" stop-color="#5c01a6"/><stop offset=".043" stop-color="#6c00a8"/><stop offset=".048" stop-color="#7b02a8"/><stop offset=".055" stop-color="#9410a2"/><stop offset=".065" stop-color="#a72197"/><stop offset=".075" stop-color="#b32c8e"/><stop offset=".093" stop-color="#c03a83"/><stop offset=".133" stop-color="#ce4b75"/><stop offset=".178" stop-color="#d6556d"/><stop offset=".243" stop-color="#e76f5a"/><stop offset=".276" stop-color="#f1814d"/><stop offset=".321" stop-color="#fba139"/><stop offset=".356" stop-color="#feb72d"/><stop offset=".411" stop-color="#fcd025"/><stop offset=".481" stop-color="#f6e626"/><stop offset=".536" stop-color="#f3ee27"/><stop offset=".709" stop-color="#f1f525"/><stop offset=".747" stop-color="#f0f724"/><stop offset=".749" stop-color="#f0f921"/><stop offset="1.000" stop-color="#f0f921"/></linearGradient>
<linearGradient id="g97" gradientUnits="userSpaceOnUse" x1="0" y1="65.25" x2="0" y2="475.197"><stop offset=".000" stop-color="#6001a6"/><stop offset=".033" stop-color="#6400a7"/><stop offset=".045" stop-color="#8405a7"/><stop offset=".055" stop-color="#9d189d"/><stop offset=".065" stop-color="#ad2793"/><stop offset=".088" stop-color="#bf3984"/><stop offset=".115" stop-color="#ca457a"/><stop offset=".170" stop-color="#d45270"/><stop offset=".231" stop-color="#e3685f"/><stop offset=".276" stop-color="#f07f4f"/><stop offset=".323" stop-color="#fba139"/><stop offset=".356" stop-color="#fdb52e"/><stop offset=".398" stop-color="#fdca26"/><stop offset=".426" stop-color="#fbd524"/><stop offset=".489" stop-color="#f6e826"/><stop offset=".556" stop-color="#f3f027"/><stop offset=".709" stop-color="#f1f525"/><stop offset=".747" stop-color="#f0f724"/><stop offset=".749" stop-color="#f0f921"/><stop offset="1.000" stop-color="#f0f921"/></linearGradient>
<linearGradient id="g98" gradientUnits="userSpaceOnUse" x1="0" y1="65.25" x2="0" y2="475.197"><stop offset=".000" stop-color="#5901a5"/><stop offset=".053" stop-color="#6400a7"/><stop offset=".055" stop-color="#6700a8"/><stop offset=".063" stop-color="#8104a7"/><stop offset=".075" stop-color="#a11b9b"/><stop offset=".090" stop-color="#b52f8c"/><stop offset=".110" stop-color="#c33d80"/><stop offset=".135" stop-color="#cc4977"/><stop offset=".175" stop-color="#d35171"/><stop offset=".243" stop-color="#e4695e"/><stop offset=".286" stop-color="#f1814d"/><stop offset=".328" stop-color="#fba139"/><stop offset=".358" stop-color="#fdb42f"/><stop offset=".411" stop-color="#fcce25"/><stop offset=".489" stop-color="#f6e826"/><stop offset=".536" stop-color="#f3ee27"/><stop offset=".709" stop-color="#f1f525"/><stop offset=".747" stop-color="#f0f724"/><stop offset=".749" stop-color="#f0f921"/><stop offset="1.000" stop-color="#f0f921"/></linearGradient>
<linearGradient id="g99" gradientUnits="userSpaceOnUse" x1="0" y1="65.25" x2="0" y2="475.197"><stop offset=".000" stop-color="#5901a5"/><stop offset=".033" stop-color="#5e01a6"/><stop offset=".043" stop-color="#6f00a8"/><stop offset=".048" stop-color="#7e03a8"/><stop offset=".055" stop-color="#9511a1"/><stop offset=".065" stop-color="#a72197"/><stop offset=".075" stop-color="#b32c8e"/><stop offset=".090" stop-color="#be3885"/><stop offset=".133" stop-color="#cc4778"/><stop offset=".178" stop-color="#d14e72"/><stop offset=".238" stop-color="#df6263"/><stop offset=".273" stop-color="#ea7457"/><stop offset=".333" stop-color="#fb9f3a"/><stop offset=".376" stop-color="#feba2c"/><stop offset=".431" stop-color="#fbd524"/><stop offset=".489" stop-color="#f6e826"/><stop offset=".536" stop-color="#f3ee27"/><stop offset=".709" stop-color="#f1f525"/><stop offset=".747" stop-color="#f0f724"/><stop offset=".749" stop-color="#f0f921"/><stop offset="1.000" stop-color="#f0f921"/></linearGradient>
<linearGradient id="g100" gradientUnits="userSpaceOnUse" x1="0" y1="65.25" x2="0" y2="475.197"><stop offset=".000" stop-color="#7100a8"/><stop offset=".035" stop-color="#7701a8"/><stop offset=".043" stop-color="#7a02a8"/><stop offset=".045" stop-color="#7e03a8"/><stop offset=".055" stop-color="#9c179e"/><stop offset=".063" stop-color="#aa2395"/><stop offset=".070" stop-color="#b32c8e"/><stop offset=".088" stop-color="#c03a83"/><stop offset=".118" stop-color="#cb4679"/><stop offset=".175" stop-color="#d5536f"/><stop offset=".243" stop-color="#e66c5c"/><stop offset=".278" stop-color="#f0804e"/><stop offset=".326" stop-color="#fba238"/><stop offset=".353" stop-color="#fdb42f"/><stop offset=".398" stop-color="#fdca26"/><stop offset=".431" stop-color="#fbd724"/><stop offset=".489" stop-color="#f6e826"/><stop offset=".556" stop-color="#f3f027"/><stop offset=".709" stop-color="#f1f525"/><stop offset=".747" stop-color="#f0f724"/><stop offset=".749" stop-color="#f0f921"/><stop offset="1.000" stop-color="#f0f921"/></linearGradient>
<linearGradient id="g101" gradientUnits="userSpaceOnUse" x1="0" y1="65.25" x2="0" y2="475.197"><stop offset=".000" stop-color="#7701a8"/><stop offset=".028" stop-color="#7b02a8"/><stop offset=".043" stop-color="#8305a7"/><stop offset=".053" stop-color="#99159f"/><stop offset=".060" stop-color="#a51f99"/><stop offset=".078" stop-color="#b7318a"/><stop offset=".093" stop-color="#c13b82"/><stop offset=".133" stop-color="#ce4b75"/><stop offset=".180" stop-color="#d7566c"/><stop offset=".233" stop-color="#e56b5d"/><stop offset=".273" stop-color="#f0804e"/><stop offset=".328" stop-color="#fca636"/><stop offset=".356" stop-color="#feb72d"/><stop offset=".396" stop-color="#fdca26"/><stop offset=".481" stop-color="#f6e626"/><stop offset=".556" stop-color="#f3f027"/><stop offset=".709" stop-color="#f1f525"/><stop offset=".747" stop-color="#f0f724"/><stop offset=".749" stop-color="#f0f921"/><stop offset="1.000" stop-color="#f0f921"/></linearGradient>
<linearGradient id="g102" gradientUnits="userSpaceOnUse" x1="0" y1="65.25" x2="0" y2="475.197"><stop offset=".000" stop-color="#7b02a8"/><stop offset=".043" stop-color="#8305a7"/><stop offset=".055" stop-color="#9d189d"/><stop offset=".063" stop-color="#a82296"/><stop offset=".075" stop-color="#b52f8c"/><stop offset=".090" stop-color="#bf3984"/><stop offset=".130" stop-color="#cc4977"/><stop offset=".175" stop-color="#d45270"/><stop offset=".236" stop-color="#e3685f"/><stop offset=".273" stop-color="#ee7b51"/><stop offset=".328" stop-color="#fba238"/><stop offset=".356" stop-color="#fdb42f"/><stop offset=".406" stop-color="#fccd25"/><stop offset=".489" stop-color="#f6e826"/><stop offset=".556" stop-color="#f3f027"/><stop offset=".709" stop-color="#f1f525"/><stop offset=".747" stop-color="#f0f724"/><stop offset=".749" stop-color="#f0f921"/><stop offset="1.000" stop-color="#f0f921"/></linearGradient>
<linearGradient id="g103" gradientUnits="userSpaceOnUse" x1="0" y1="65.25" x2="0" y2="475.197"><stop offset=".000" stop-color="#9410a2"/><stop offset=".023" stop-color="#9814a0"/><stop offset=".048" stop-color="#b22b8f"/><stop offset=".080" stop-color="#c23c81"/><stop offset=".138" stop-color="#cf4c74"/><stop offset=".175" stop-color="#d45270"/><stop offset=".231" stop-color="#e26561"/><stop offset=".276" stop-color="#ef7c51"/><stop offset=".313" stop-color="#f9973f"/><stop offset=".353" stop-color="#fdb22f"/><stop offset=".393" stop-color="#fdc627"/><stop offset=".419" stop-color="#fcd225"/><stop offset=".489" stop-color="#f6e826"/><stop offset=".556" stop-color="#f3f027"/><stop offset=".709" stop-color="#f1f525"/><stop offset=".747" stop-color="#f0f724"/><stop offset=".749" stop-color="#f0f921"/><stop offset="1.000" stop-color="#f0f921"/></linearGradient>
<linearGradient id="g104" gradientUnits="userSpaceOnUse" x1="0" y1="65.25" x2="0" y2="475.197"><stop offset=".000" stop-color="#920fa3"/><stop offset=".023" stop-color="#9613a1"/><stop offset=".030" stop-color="#a21d9a"/><stop offset=".048" stop-color="#b32c8e"/><stop offset=".078" stop-color="#c13b82"/><stop offset=".135" stop-color="#cc4977"/><stop offset=".178" stop-color="#d04d73"/><stop offset=".238" stop-color="#de5f65"/><stop offset=".273" stop-color="#e97158"/><stop offset=".328" stop-color="#f99a3e"/><stop offset=".371" stop-color="#fdb52e"/><stop offset=".409" stop-color="#fdcb26"/><stop offset=".489" stop-color="#f6e826"/><stop offset=".559" stop-color="#f3f027"/><stop offset=".709" stop-color="#f1f525"/><stop offset=".747" stop-color="#f0f724"/><stop offset=".749" stop-color="#f0f921"/><stop offset="1.000" stop-color="#f0f921"/></linearGradient>
<linearGradient id="g105" x1="0" y1="0" x2="0" y2="1"><stop offset="0.0000" stop-color="#0d0887"/><stop offset="0.0417" stop-color="#260591"/><stop offset="0.0833" stop-color="#3a049a"/><stop offset="0.1250" stop-color="#4b03a1"/><stop offset="0.1667" stop-color="#5c01a6"/><stop offset="0.2083" stop-color="#6e00a8"/><stop offset="0.2500" stop-color="#7d03a8"/><stop offset="0.2917" stop-color="#8d0ba5"/><stop offset="0.3333" stop-color="#9c179e"/><stop offset="0.3750" stop-color="#a82296"/><stop offset="0.4167" stop-color="#b52f8c"/><stop offset="0.4583" stop-color="#c13b82"/><stop offset="0.5000" stop-color="#cb4679"/><stop offset="0.5417" stop-color="#d5536f"/><stop offset="0.5833" stop-color="#de5f65"/><stop offset="0.6250" stop-color="#e56b5d"/><stop offset="0.6667" stop-color="#ed7953"/><stop offset="0.7083" stop-color="#f3874a"/><stop offset="0.7500" stop-color="#f89441"/><stop offset="0.7917" stop-color="#fca338"/><stop offset="0.8333" stop-color="#fdb42f"/><stop offset="0.8750" stop-color="#fdc328"/><stop offset="0.9167" stop-color="#fbd524"/><stop offset="0.9583" stop-color="#f6e826"/><stop offset="1.0000" stop-color="#f0f921"/></linearGradient>
<linearGradient id="g106" gradientUnits="userSpaceOnUse" x1="0" y1="65.25" x2="0" y2="321.467"><stop offset=".000" stop-color="#b02991"/><stop offset=".145" stop-color="#bf3984"/><stop offset=".278" stop-color="#c5407e"/><stop offset=".386" stop-color="#d35171"/><stop offset=".446" stop-color="#e16462"/><stop offset=".529" stop-color="#f58b47"/><stop offset=".581" stop-color="#fba238"/><stop offset=".674" stop-color="#fdc328"/><stop offset=".784" stop-color="#f9dc24"/><stop offset=".860" stop-color="#f7e225"/><stop offset="1.000" stop-color="#f6e826"/></linearGradient>
<linearGradient id="g107" gradientUnits="userSpaceOnUse" x1="0" y1="65.25" x2="0" y2="321.467"><stop offset=".000" stop-color="#b22b8f"/><stop offset=".218" stop-color="#c43e7f"/><stop offset=".281" stop-color="#c5407e"/><stop offset=".358" stop-color="#ce4b75"/><stop offset=".388" stop-color="#d35171"/><stop offset=".436" stop-color="#de5f65"/><stop offset=".544" stop-color="#f79143"/><stop offset=".624" stop-color="#fdb22f"/><stop offset=".692" stop-color="#fdc827"/><stop offset=".787" stop-color="#f9dc24"/><stop offset=".860" stop-color="#f7e225"/><stop offset="1.000" stop-color="#f6e826"/></linearGradient>
<linearGradient id="g108" gradientUnits="userSpaceOnUse" x1="0" y1="65.25" x2="0" y2="321.467"><stop offset=".000" stop-color="#b12a90"/><stop offset=".213" stop-color="#c6417d"/><stop offset=".281" stop-color="#c9447a"/><stop offset=".373" stop-color="#d6556d"/><stop offset=".436" stop-color="#e3685f"/><stop offset=".506" stop-color="#f3874a"/><stop offset=".569" stop-color="#fba238"/><stop offset=".662" stop-color="#fdc229"/><stop offset=".784" stop-color="#f9dc24"/><stop offset=".890" stop-color="#f7e425"/><stop offset="1.000" stop-color="#f6e826"/></linearGradient>
<linearGradient id="g109" gradientUnits="userSpaceOnUse" x1="0" y1="65.25" x2="0" y2="321.467"><stop offset=".000" stop-color="#a82296"/><stop offset=".090" stop-color="#ba3388"/><stop offset=".216" stop-color="#c6417d"/><stop offset=".281" stop-color="#c9447a"/><stop offset=".368" stop-color="#d5546e"/><stop offset=".434" stop-color="#e26660"/><stop offset=".504" stop-color="#f3854b"/><stop offset=".561" stop-color="#fb9f3a"/><stop offset=".662" stop-color="#fdc229"/><stop offset=".784" stop-color="#f9dc24"/><stop offset=".890" stop-color="#f7e425"/><stop offset="1.000" stop-color="#f6e826"/></linearGradient>
<linearGradient id="g110" gradientUnits="userSpaceOnUse" x1="0" y1="65.25" x2="0" y2="321.467"><stop offset=".000" stop-color="#ad2793"/><stop offset=".140" stop-color="#bf3984"/><stop offset=".278" stop-color="#c7427c"/><stop offset=".373" stop-color="#d45270"/><stop offset=".434" stop-color="#e06363"/><stop offset=".519" stop-color="#f48948"/><stop offset=".579" stop-color="#fca338"/><stop offset=".677" stop-color="#fdc527"/><stop offset=".784" stop-color="#f9dc24"/><stop offset=".860" stop-color="#f7e225"/><stop offset="1.000" stop-color="#f6e826"/></linearGradient>
<linearGradient id="g111" gradientUnits="userSpaceOnUse" x1="0" y1="65.25" x2="0" y2="321.467"><stop offset=".000" stop-color="#ab2494"/><stop offset=".115" stop-color="#bd3786"/><stop offset=".278" stop-color="#c9447a"/><stop offset=".383" stop-color="#d8576b"/><stop offset=".439" stop-color="#e4695e"/><stop offset=".509" stop-color="#f48849"/><stop offset=".564" stop-color="#fba139"/><stop offset=".654" stop-color="#fec029"/><stop offset=".782" stop-color="#f9dc24"/><stop offset=".890" stop-color="#f7e425"/><stop offset="1.000" stop-color="#f6e826"/></linearGradient>
<linearGradient id="g112" gradientUnits="userSpaceOnUse" x1="0" y1="65.25" x2="0" y2="321.467"><stop offset=".000" stop-color="#ac2694"/><stop offset=".110" stop-color="#bd3786"/><stop offset=".281" stop-color="#cc4977"/><stop offset=".331" stop-color="#d5536f"/><stop offset=".396" stop-color="#df6263"/><stop offset=".431" stop-color="#e76e5b"/><stop offset=".496" stop-color="#f48948"/><stop offset=".551" stop-color="#fba139"/><stop offset=".652" stop-color="#fdc229"/><stop offset=".782" stop-color="#f9dc24"/><stop offset=".857" stop-color="#f7e225"/><stop offset="1.000" stop-color="#f6e826"/></linearGradient>
<linearGradient id="g113" gradientUnits="userSpaceOnUse" x1="0" y1="65.25" x2="0" y2="321.467"><stop offset=".000" stop-color="#b02991"/><stop offset=".206" stop-color="#c7427c"/><stop offset=".278" stop-color="#cc4778"/><stop offset=".346" stop-color="#d6556d"/><stop offset=".431" stop-color="#e66c5c"/><stop offset=".499" stop-color="#f48948"/><stop offset=".564" stop-color="#fca537"/><stop offset=".667" stop-color="#fdc527"/><stop offset=".782" stop-color="#f9dc24"/><stop offset=".857" stop-color="#f7e225"/><stop offset="1.000" stop-color="#f6e826"/></linearGradient>
<linearGradient id="g114" gradientUnits="userSpaceOnUse" x1="0" y1="65.25" x2="0" y2="321.467"><stop offset=".000" stop-color="#b32c8e"/><stop offset=".053" stop-color="#b6308b"/><stop offset=".281" stop-color="#cf4c74"/><stop offset=".404" stop-color="#e56a5d"/><stop offset=".474" stop-color="#f3854b"/><stop offset=".549" stop-color="#fca338"/><stop offset=".652" stop-color="#fdc328"/><stop offset=".779" stop-color="#f9dc24"/><stop offset=".887" stop-color="#f7e425"/><stop offset="1.000" stop-color="#f6e826"/></linearGradient>
<linearGradient id="g115" gradientUnits="userSpaceOnUse" x1="0" y1="65.25" x2="0" y2="321.467"><stop offset=".000" stop-color="#b32c8e"/><stop offset=".273" stop-color="#cc4778"/><stop offset=".348" stop-color="#d7566c"/><stop offset=".393" stop-color="#de6164"/><stop offset=".439" stop-color="#e87059"/><stop offset=".506" stop-color="#f68d45"/><stop offset=".559" stop-color="#fca338"/><stop offset=".659" stop-color="#fdc328"/><stop offset=".782" stop-color="#f9dc24"/><stop offset=".857" stop-color="#f7e225"/><stop offset="1.000" stop-color="#f6e826"/></linearGradient>
<linearGradient id="g116" gradientUnits="userSpaceOnUse" x1="0" y1="65.25" x2="0" y2="321.467"><stop offset=".000" stop-color="#b02991"/><stop offset=".178" stop-color="#c43e7f"/><stop offset=".278" stop-color="#cc4778"/><stop offset=".363" stop-color="#d9586a"/><stop offset=".439" stop-color="#e76f5a"/><stop offset=".509" stop-color="#f68d45"/><stop offset=".561" stop-color="#fca338"/><stop offset=".654" stop-color="#fdc229"/><stop offset=".782" stop-color="#f9dc24"/><stop offset=".857" stop-color="#f7e225"/><stop offset="1.000" stop-color="#f6e826"/></linearGradient>
<linearGradient id="g117" gradientUnits="userSpaceOnUse" x1="0" y1="65.25" x2="0" y2="321.467"><stop offset=".000" stop-color="#ad2793"/><stop offset=".115" stop-color="#be3885"/><stop offset=".278" stop-color="#ce4b75"/><stop offset=".406" stop-color="#e56a5d"/><stop offset=".479" stop-color="#f3874a"/><stop offset=".546" stop-color="#fba238"/><stop offset=".654" stop-color="#fdc328"/><stop offset=".779" stop-color="#f9dc24"/><stop offset=".857" stop-color="#f7e225"/><stop offset="1.000" stop-color="#f6e826"/></linearGradient>
<linearGradient id="g118" gradientUnits="userSpaceOnUse" x1="0" y1="65.25" x2="0" y2="321.467"><stop offset=".000" stop-color="#ad2793"/><stop offset=".093" stop-color="#bb3488"/><stop offset=".278" stop-color="#cb4679"/><stop offset=".381" stop-color="#da5b69"/><stop offset=".446" stop-color="#e87059"/><stop offset=".506" stop-color="#f58b47"/><stop offset=".564" stop-color="#fca338"/><stop offset=".657" stop-color="#fdc229"/><stop offset=".782" stop-color="#f9dc24"/><stop offset=".857" stop-color="#f7e225"/><stop offset="1.000" stop-color="#f6e826"/></linearGradient>
<linearGradient id="g119" gradientUnits="userSpaceOnUse" x1="0" y1="65.25" x2="0" y2="321.467"><stop offset=".000" stop-color="#aa2395"/><stop offset=".093" stop-color="#bb3488"/><stop offset=".276" stop-color="#cc4977"/><stop offset=".341" stop-color="#d7566c"/><stop offset=".391" stop-color="#df6263"/><stop offset=".434" stop-color="#e87059"/><stop offset=".496" stop-color="#f58b47"/><stop offset=".549" stop-color="#fba139"/><stop offset=".657" stop-color="#fdc328"/><stop offset=".782" stop-color="#f9dc24"/><stop offset=".857" stop-color="#f7e225"/><stop offset="1.000" stop-color="#f6e826"/></linearGradient>
<linearGradient id="g120" gradientUnits="userSpaceOnUse" x1="0" y1="65.25" x2="0" y2="321.467"><stop offset=".000" stop-color="#ad2793"/><stop offset=".288" stop-color="#d35171"/><stop offset=".396" stop-color="#e66c5c"/><stop offset=".521" stop-color="#fa9e3b"/><stop offset=".571" stop-color="#fdaf31"/><stop offset=".652" stop-color="#fdc527"/><stop offset=".779" stop-color="#f9dc24"/><stop offset=".887" stop-color="#f7e425"/><stop offset="1.000" stop-color="#f6e826"/></linearGradient>
<linearGradient id="g121" gradientUnits="userSpaceOnUse" x1="0" y1="65.25" x2="0" y2="321.467"><stop offset=".000" stop-color="#ad2793"/><stop offset=".283" stop-color="#d45270"/><stop offset=".391" stop-color="#e76f5a"/><stop offset=".464" stop-color="#f58b47"/><stop offset=".524" stop-color="#fba238"/><stop offset=".566" stop-color="#fdb130"/><stop offset=".654" stop-color="#fdc627"/><stop offset=".777" stop-color="#f9dc24"/><stop offset=".855" stop-color="#f7e225"/><stop offset="1.000" stop-color="#f6e826"/></linearGradient>
<linearGradient id="g122" gradientUnits="userSpaceOnUse" x1="0" y1="65.25" x2="0" y2="321.467"><stop offset=".000" stop-color="#b12a90"/><stop offset=".218" stop-color="#c7427c"/><stop offset=".278" stop-color="#ca457a"/><stop offset=".368" stop-color="#d7566c"/><stop offset=".436" stop-color="#e56a5d"/><stop offset=".499" stop-color="#f3854b"/><stop offset=".564" stop-color="#fba238"/><stop offset=".652" stop-color="#fec029"/><stop offset=".782" stop-color="#f9dc24"/><stop offset=".857" stop-color="#f7e225"/><stop offset="1.000" stop-color="#f6e826"/></linearGradient>
<linearGradient id="g123" gradientUnits="userSpaceOnUse" x1="0" y1="65.25" x2="0" y2="321.467"><stop offset=".000" stop-color="#b32c8e"/><stop offset=".218" stop-color="#c6417d"/><stop offset=".278" stop-color="#c8437b"/><stop offset=".391" stop-color="#d8576b"/><stop offset=".466" stop-color="#e97257"/><stop offset=".566" stop-color="#fba139"/><stop offset=".657" stop-color="#fec029"/><stop offset=".784" stop-color="#f9dc24"/><stop offset=".890" stop-color="#f7e425"/><stop offset="1.000" stop-color="#f6e826"/></linearGradient>
<linearGradient id="g124" gradientUnits="userSpaceOnUse" x1="0" y1="65.25" x2="0" y2="321.467"><stop offset=".000" stop-color="#ab2494"/><stop offset=".085" stop-color="#ba3388"/><stop offset=".211" stop-color="#c7427c"/><stop offset=".278" stop-color="#cb4679"/><stop offset=".348" stop-color="#d5546e"/><stop offset=".393" stop-color="#dd5e66"/><stop offset=".436" stop-color="#e66c5c"/><stop offset=".509" stop-color="#f58c46"/><stop offset=".564" stop-color="#fca338"/><stop offset=".657" stop-color="#fdc229"/><stop offset=".782" stop-color="#f9dc24"/><stop offset=".857" stop-color="#f7e225"/><stop offset="1.000" stop-color="#f6e826"/></linearGradient>
<linearGradient id="g125" gradientUnits="userSpaceOnUse" x1="0" y1="65.25" x2="0" y2="321.467"><stop offset=".000" stop-color="#a82296"/><stop offset=".098" stop-color="#bb3488"/><stop offset=".211" stop-color="#c6417d"/><stop offset=".273" stop-color="#c9447a"/><stop offset=".378" stop-color="#d8576b"/><stop offset=".436" stop-color="#e4695e"/><stop offset=".504" stop-color="#f3874a"/><stop offset=".559" stop-color="#fb9f3a"/><stop offset=".659" stop-color="#fdc229"/><stop offset=".782" stop-color="#f9dc24"/><stop offset=".890" stop-color="#f7e425"/><stop offset="1.000" stop-color="#f6e826"/></linearGradient>
<linearGradient id="g126" gradientUnits="userSpaceOnUse" x1="0" y1="65.25" x2="0" y2="321.467"><stop offset=".000" stop-color="#a51f99"/><stop offset=".083" stop-color="#b83289"/><stop offset=".221" stop-color="#c8437b"/><stop offset=".273" stop-color="#cb4679"/><stop offset=".391" stop-color="#dd5e66"/><stop offset=".456" stop-color="#eb7556"/><stop offset=".559" stop-color="#fba238"/><stop offset=".662" stop-color="#fdc328"/><stop offset=".782" stop-color="#f9dc24"/><stop offset=".857" stop-color="#f7e225"/><stop offset="1.000" stop-color="#f6e826"/></linearGradient>
<linearGradient id="g127" gradientUnits="userSpaceOnUse" x1="0" y1="65.25" x2="0" y2="321.467"><stop offset=".000" stop-color="#8405a7"/><stop offset=".010" stop-color="#8405a7"/><stop offset=".020" stop-color="#8a09a5"/><stop offset=".040" stop-color="#a11b9b"/><stop offset=".050" stop-color="#a82296"/><stop offset=".083" stop-color="#b6308b"/><stop offset=".165" stop-color="#c33d80"/><stop offset=".281" stop-color="#cd4a76"/><stop offset=".391" stop-color="#df6263"/><stop offset=".446" stop-color="#eb7556"/><stop offset=".524" stop-color="#f9973f"/><stop offset=".566" stop-color="#fca835"/><stop offset=".657" stop-color="#fdc328"/><stop offset=".772" stop-color="#fada24"/><stop offset=".857" stop-color="#f7e225"/><stop offset="1.000" stop-color="#f6e826"/></linearGradient>
<linearGradient id="g128" gradientUnits="userSpaceOnUse" x1="0" y1="65.25" x2="0" y2="321.467"><stop offset=".000" stop-color="#8606a6"/><stop offset=".013" stop-color="#8606a6"/><stop offset=".035" stop-color="#a01a9c"/><stop offset=".048" stop-color="#aa2395"/><stop offset=".085" stop-color="#b7318a"/><stop offset=".206" stop-color="#c7427c"/><stop offset=".276" stop-color="#cc4778"/><stop offset=".368" stop-color="#da5b69"/><stop offset=".434" stop-color="#e76e5b"/><stop offset=".529" stop-color="#f9973f"/><stop offset=".571" stop-color="#fca835"/><stop offset=".659" stop-color="#fdc328"/><stop offset=".772" stop-color="#fada24"/><stop offset=".857" stop-color="#f7e225"/><stop offset="1.000" stop-color="#f6e826"/></linearGradient>
<linearGradient id="g129" gradientUnits="userSpaceOnUse" x1="0" y1="65.25" x2="0" y2="321.467"><stop offset=".000" stop-color="#8305a7"/><stop offset=".013" stop-color="#8405a7"/><stop offset=".035" stop-color="#9e199d"/><stop offset=".048" stop-color="#a82296"/><stop offset=".070" stop-color="#b32c8e"/><stop offset=".093" stop-color="#b83289"/><stop offset=".216" stop-color="#c6417d"/><stop offset=".283" stop-color="#c9447a"/><stop offset=".396" stop-color="#da5a6a"/><stop offset=".459" stop-color="#e87059"/><stop offset=".559" stop-color="#fa9e3b"/><stop offset=".662" stop-color="#fdc229"/><stop offset=".774" stop-color="#fada24"/><stop offset=".860" stop-color="#f7e225"/><stop offset="1.000" stop-color="#f6e826"/></linearGradient>
<linearGradient id="g130" gradientUnits="userSpaceOnUse" x1="0" y1="65.25" x2="0" y2="321.467"><stop offset=".000" stop-color="#8606a6"/><stop offset=".013" stop-color="#8a09a5"/><stop offset=".025" stop-color="#9c179e"/><stop offset=".040" stop-color="#a82296"/><stop offset=".078" stop-color="#b6308b"/><stop offset=".188" stop-color="#c6417d"/><stop offset=".276" stop-color="#cd4a76"/><stop offset=".388" stop-color="#e06363"/><stop offset=".439" stop-color="#ea7457"/><stop offset=".524" stop-color="#f9983e"/><stop offset=".564" stop-color="#fca835"/><stop offset=".654" stop-color="#fdc328"/><stop offset=".762" stop-color="#fad824"/><stop offset=".857" stop-color="#f7e225"/><stop offset="1.000" stop-color="#f6e826"/></linearGradient>
<linearGradient id="g131" gradientUnits="userSpaceOnUse" x1="0" y1="65.25" x2="0" y2="321.467"><stop offset=".000" stop-color="#8305a7"/><stop offset=".013" stop-color="#8405a7"/><stop offset=".025" stop-color="#9511a1"/><stop offset=".045" stop-color="#a82296"/><stop offset=".078" stop-color="#b6308b"/><stop offset=".286" stop-color="#d45270"/><stop offset=".391" stop-color="#e76e5b"/><stop offset=".484" stop-color="#f79143"/><stop offset=".564" stop-color="#fdaf31"/><stop offset=".689" stop-color="#fccd25"/><stop offset=".794" stop-color="#f9dd25"/><stop offset="1.000" stop-color="#f6e826"/></linearGradient>
<linearGradient id="g132" gradientUnits="userSpaceOnUse" x1="0" y1="65.25" x2="0" y2="321.467"><stop offset=".000" stop-color="#7501a8"/><stop offset=".028" stop-color="#7801a8"/><stop offset=".040" stop-color="#8606a6"/><stop offset=".053" stop-color="#9a169f"/><stop offset=".068" stop-color="#aa2395"/><stop offset=".108" stop-color="#bb3488"/><stop offset=".278" stop-color="#d5536f"/><stop offset=".388" stop-color="#e97257"/><stop offset=".466" stop-color="#f79044"/><stop offset=".566" stop-color="#fdb42f"/><stop offset=".674" stop-color="#fdcb26"/><stop offset=".792" stop-color="#f9dd25"/><stop offset="1.000" stop-color="#f6e826"/></linearGradient>
<linearGradient id="g133" gradientUnits="userSpaceOnUse" x1="0" y1="65.25" x2="0" y2="321.467"><stop offset=".000" stop-color="#7b02a8"/><stop offset=".025" stop-color="#7d03a8"/><stop offset=".030" stop-color="#8405a7"/><stop offset=".040" stop-color="#9613a1"/><stop offset=".053" stop-color="#a51f99"/><stop offset=".088" stop-color="#b6308b"/><stop offset=".123" stop-color="#be3885"/><stop offset=".278" stop-color="#d04d73"/><stop offset=".308" stop-color="#d5546e"/><stop offset=".396" stop-color="#e56a5d"/><stop offset=".504" stop-color="#f89441"/><stop offset=".566" stop-color="#fdac33"/><stop offset=".649" stop-color="#fdc328"/><stop offset=".769" stop-color="#fada24"/><stop offset=".857" stop-color="#f7e225"/><stop offset="1.000" stop-color="#f6e826"/></linearGradient>
<linearGradient id="g134" gradientUnits="userSpaceOnUse" x1="0" y1="65.25" x2="0" y2="321.467"><stop offset=".000" stop-color="#7401a8"/><stop offset=".038" stop-color="#7a02a8"/><stop offset=".045" stop-color="#8707a6"/><stop offset=".053" stop-color="#9613a1"/><stop offset=".068" stop-color="#a72197"/><stop offset=".083" stop-color="#b12a90"/><stop offset=".110" stop-color="#bb3488"/><stop offset=".278" stop-color="#d35171"/><stop offset=".391" stop-color="#e76f5a"/><stop offset=".484" stop-color="#f79342"/><stop offset=".561" stop-color="#fdaf31"/><stop offset=".617" stop-color="#febd2a"/><stop offset=".662" stop-color="#fdc827"/><stop offset=".777" stop-color="#f9dc24"/><stop offset=".855" stop-color="#f7e225"/><stop offset="1.000" stop-color="#f6e826"/></linearGradient>
<linearGradient id="g135" gradientUnits="userSpaceOnUse" x1="0" y1="65.25" x2="0" y2="321.467"><stop offset=".000" stop-color="#7401a8"/><stop offset=".020" stop-color="#7501a8"/><stop offset=".038" stop-color="#7b02a8"/><stop offset=".043" stop-color="#8305a7"/><stop offset=".053" stop-color="#9613a1"/><stop offset=".070" stop-color="#aa2395"/><stop offset=".108" stop-color="#ba3388"/><stop offset=".195" stop-color="#c8437b"/><stop offset=".278" stop-color="#d04d73"/><stop offset=".326" stop-color="#d9586a"/><stop offset=".391" stop-color="#e4695e"/><stop offset=".499" stop-color="#f79342"/><stop offset=".561" stop-color="#fdab33"/><stop offset=".632" stop-color="#febe2a"/><stop offset=".759" stop-color="#fad824"/><stop offset=".857" stop-color="#f7e225"/><stop offset="1.000" stop-color="#f6e826"/></linearGradient>
<linearGradient id="g136" gradientUnits="userSpaceOnUse" x1="0" y1="65.25" x2="0" y2="321.467"><stop offset=".000" stop-color="#7801a8"/><stop offset=".025" stop-color="#7b02a8"/><stop offset=".033" stop-color="#8606a6"/><stop offset=".055" stop-color="#a31e9a"/><stop offset=".070" stop-color="#ae2892"/><stop offset=".090" stop-color="#b6308b"/><stop offset=".153" stop-color="#c23c81"/><stop offset=".278" stop-color="#cf4c74"/><stop offset=".313" stop-color="#d5546e"/><stop offset=".393" stop-color="#e3685f"/><stop offset=".504" stop-color="#f79342"/><stop offset=".561" stop-color="#fca934"/><stop offset=".629" stop-color="#febd2a"/><stop offset=".697" stop-color="#fccd25"/><stop offset=".779" stop-color="#f9dc24"/><stop offset=".887" stop-color="#f7e425"/><stop offset="1.000" stop-color="#f6e826"/></linearGradient>
<linearGradient id="g137" gradientUnits="userSpaceOnUse" x1="0" y1="65.25" x2="0" y2="321.467"><stop offset=".000" stop-color="#7701a8"/><stop offset=".023" stop-color="#7801a8"/><stop offset=".030" stop-color="#7d03a8"/><stop offset=".040" stop-color="#8808a6"/><stop offset=".053" stop-color="#9c179e"/><stop offset=".070" stop-color="#ac2694"/><stop offset=".105" stop-color="#ba3388"/><stop offset=".306" stop-color="#d5546e"/><stop offset=".404" stop-color="#e76e5b"/><stop offset=".501" stop-color="#f89441"/><stop offset=".564" stop-color="#fdac33"/><stop offset=".637" stop-color="#fec029"/><stop offset=".759" stop-color="#fad824"/><stop offset=".857" stop-color="#f7e225"/><stop offset="1.000" stop-color="#f6e826"/></linearGradient>
<linearGradient id="g138" gradientUnits="userSpaceOnUse" x1="0" y1="65.25" x2="0" y2="321.467"><stop offset=".000" stop-color="#7801a8"/><stop offset=".028" stop-color="#7d03a8"/><stop offset=".048" stop-color="#9a169f"/><stop offset=".063" stop-color="#a82296"/><stop offset=".088" stop-color="#b52f8c"/><stop offset=".105" stop-color="#ba3388"/><stop offset=".203" stop-color="#c7427c"/><stop offset=".278" stop-color="#cc4977"/><stop offset=".393" stop-color="#df6263"/><stop offset=".461" stop-color="#ed7a52"/><stop offset=".526" stop-color="#f9973f"/><stop offset=".569" stop-color="#fca835"/><stop offset=".652" stop-color="#fdc229"/><stop offset=".772" stop-color="#fada24"/><stop offset=".857" stop-color="#f7e225"/><stop offset="1.000" stop-color="#f6e826"/></linearGradient>
<linearGradient id="g139" gradientUnits="userSpaceOnUse" x1="0" y1="65.25" x2="0" y2="321.467"><stop offset=".000" stop-color="#7100a8"/><stop offset=".035" stop-color="#7401a8"/><stop offset=".040" stop-color="#7701a8"/><stop offset=".050" stop-color="#8606a6"/><stop offset=".070" stop-color="#a31e9a"/><stop offset=".088" stop-color="#b12a90"/><stop offset=".110" stop-color="#ba3388"/><stop offset=".168" stop-color="#c5407e"/><stop offset=".293" stop-color="#d6556d"/><stop offset=".391" stop-color="#e87059"/><stop offset=".474" stop-color="#f79044"/><stop offset=".569" stop-color="#fdb22f"/><stop offset=".687" stop-color="#fccd25"/><stop offset=".792" stop-color="#f9dd25"/><stop offset="1.000" stop-color="#f6e826"/></linearGradient>
<linearGradient id="g140" gradientUnits="userSpaceOnUse" x1="0" y1="65.25" x2="0" y2="321.467"><stop offset=".000" stop-color="#6f00a8"/><stop offset=".040" stop-color="#7501a8"/><stop offset=".053" stop-color="#8405a7"/><stop offset=".070" stop-color="#a11b9b"/><stop offset=".085" stop-color="#ad2793"/><stop offset=".113" stop-color="#b83289"/><stop offset=".216" stop-color="#c8437b"/><stop offset=".278" stop-color="#cc4778"/><stop offset=".391" stop-color="#de5f65"/><stop offset=".444" stop-color="#e97158"/><stop offset=".514" stop-color="#f79044"/><stop offset=".564" stop-color="#fca537"/><stop offset=".649" stop-color="#fec029"/><stop offset=".772" stop-color="#fada24"/><stop offset=".857" stop-color="#f7e225"/><stop offset="1.000" stop-color="#f6e826"/></linearGradient>
<linearGradient id="g141" gradientUnits="userSpaceOnUse" x1="0" y1="65.25" x2="0" y2="321.467"><stop offset=".000" stop-color="#7801a8"/><stop offset=".025" stop-color="#7a02a8"/><stop offset=".038" stop-color="#8808a6"/><stop offset=".053" stop-color="#9e199d"/><stop offset=".068" stop-color="#ab2494"/><stop offset=".108" stop-color="#ba3388"/><stop offset=".208" stop-color="#c7427c"/><stop offset=".281" stop-color="#cc4778"/><stop offset=".383" stop-color="#dc5d67"/><stop offset=".449" stop-color="#e97257"/><stop offset=".521" stop-color="#f79342"/><stop offset=".574" stop-color="#fca835"/><stop offset=".654" stop-color="#fdc229"/><stop offset=".782" stop-color="#f9dc24"/><stop offset=".857" stop-color="#f7e225"/><stop offset="1.000" stop-color="#f6e826"/></linearGradient>
<linearGradient id="g142" gradientUnits="userSpaceOnUse" x1="0" y1="65.25" x2="0" y2="321.467"><stop offset=".000" stop-color="#7801a8"/><stop offset=".025" stop-color="#7b02a8"/><stop offset=".033" stop-color="#8606a6"/><stop offset=".053" stop-color="#a11b9b"/><stop offset=".068" stop-color="#ac2694"/><stop offset=".090" stop-color="#b52f8c"/><stop offset=".168" stop-color="#c13b82"/><stop offset=".283" stop-color="#c8437b"/><stop offset=".386" stop-color="#d6556d"/><stop offset=".446" stop-color="#e4695e"/><stop offset=".544" stop-color="#f89540"/><stop offset=".652" stop-color="#febe2a"/><stop offset=".774" stop-color="#fada24"/><stop offset=".860" stop-color="#f7e225"/><stop offset="1.000" stop-color="#f6e826"/></linearGradient>
<linearGradient id="g143" gradientUnits="userSpaceOnUse" x1="0" y1="65.25" x2="0" y2="321.467"><stop offset=".000" stop-color="#7501a8"/><stop offset=".025" stop-color="#7801a8"/><stop offset=".038" stop-color="#8104a7"/><stop offset=".053" stop-color="#99159f"/><stop offset=".068" stop-color="#a82296"/><stop offset=".090" stop-color="#b42e8d"/><stop offset=".110" stop-color="#ba3388"/><stop offset=".216" stop-color="#c8437b"/><stop offset=".278" stop-color="#cc4778"/><stop offset=".391" stop-color="#de5f65"/><stop offset=".459" stop-color="#ec7754"/><stop offset=".526" stop-color="#f89540"/><stop offset=".581" stop-color="#fdab33"/><stop offset=".654" stop-color="#fdc229"/><stop offset=".772" stop-color="#fada24"/><stop offset=".857" stop-color="#f7e225"/><stop offset="1.000" stop-color="#f6e826"/></linearGradient>
<linearGradient id="g144" gradientUnits="userSpaceOnUse" x1="0" y1="65.25" x2="0" y2="321.467"><stop offset=".000" stop-color="#7501a8"/><stop offset=".025" stop-color="#7801a8"/><stop offset=".035" stop-color="#8104a7"/><stop offset=".040" stop-color="#8707a6"/><stop offset=".050" stop-color="#9814a0"/><stop offset=".070" stop-color="#ab2494"/><stop offset=".113" stop-color="#bb3488"/><stop offset=".201" stop-color="#c7427c"/><stop offset=".281" stop-color="#cd4a76"/><stop offset=".393" stop-color="#e06363"/><stop offset=".451" stop-color="#ec7754"/><stop offset=".514" stop-color="#f79342"/><stop offset=".566" stop-color="#fca835"/><stop offset=".652" stop-color="#fdc229"/><stop offset=".772" stop-color="#fada24"/><stop offset=".857" stop-color="#f7e225"/><stop offset="1.000" stop-color="#f6e826"/></linearGradient>
<linearGradient id="g145" gradientUnits="userSpaceOnUse" x1="0" y1="65.25" x2="0" y2="321.467"><stop offset=".000" stop-color="#7401a8"/><stop offset=".025" stop-color="#7701a8"/><stop offset=".035" stop-color="#8004a8"/><stop offset=".040" stop-color="#8606a6"/><stop offset=".050" stop-color="#9613a1"/><stop offset=".068" stop-color="#a82296"/><stop offset=".090" stop-color="#b42e8d"/><stop offset=".113" stop-color="#bb3488"/><stop offset=".206" stop-color="#c9447a"/><stop offset=".276" stop-color="#cf4c74"/><stop offset=".321" stop-color="#d7566c"/><stop offset=".398" stop-color="#e56a5d"/><stop offset=".499" stop-color="#f79143"/><stop offset=".564" stop-color="#fdab33"/><stop offset=".644" stop-color="#fdc229"/><stop offset=".769" stop-color="#fada24"/><stop offset=".857" stop-color="#f7e225"/><stop offset="1.000" stop-color="#f6e826"/></linearGradient>
<linearGradient id="g146" gradientUnits="userSpaceOnUse" x1="0" y1="65.25" x2="0" y2="321.467"><stop offset=".000" stop-color="#5102a3"/><stop offset=".013" stop-color="#5102a3"/><stop offset=".035" stop-color="#7801a8"/><stop offset=".048" stop-color="#8a09a5"/><stop offset=".063" stop-color="#99159f"/><stop offset=".080" stop-color="#a62098"/><stop offset=".108" stop-color="#b32c8e"/><stop offset=".190" stop-color="#c7427c"/><stop offset=".281" stop-color="#d45270"/><stop offset=".386" stop-color="#e76f5a"/><stop offset=".426" stop-color="#ef7e50"/><stop offset=".491" stop-color="#f9973f"/><stop offset=".559" stop-color="#fdaf31"/><stop offset=".652" stop-color="#fdc627"/><stop offset=".792" stop-color="#f9dd25"/><stop offset="1.000" stop-color="#f6e826"/></linearGradient>
<linearGradient id="g147" gradientUnits="userSpaceOnUse" x1="0" y1="65.25" x2="0" y2="321.467"><stop offset=".000" stop-color="#5e01a6"/><stop offset=".020" stop-color="#7a02a8"/><stop offset=".040" stop-color="#920fa3"/><stop offset=".065" stop-color="#a51f99"/><stop offset=".095" stop-color="#b22b8f"/><stop offset=".155" stop-color="#c03a83"/><stop offset=".278" stop-color="#cf4c74"/><stop offset=".346" stop-color="#db5c68"/><stop offset=".414" stop-color="#e76f5a"/><stop offset=".486" stop-color="#f58c46"/><stop offset=".564" stop-color="#fdab33"/><stop offset=".639" stop-color="#fec029"/><stop offset=".704" stop-color="#fcce25"/><stop offset=".797" stop-color="#f9dd25"/><stop offset=".887" stop-color="#f7e425"/><stop offset="1.000" stop-color="#f6e826"/></linearGradient>
<linearGradient id="g148" gradientUnits="userSpaceOnUse" x1="0" y1="65.25" x2="0" y2="321.467"><stop offset=".000" stop-color="#4b03a1"/><stop offset=".015" stop-color="#5901a5"/><stop offset=".028" stop-color="#7201a8"/><stop offset=".035" stop-color="#7d03a8"/><stop offset=".053" stop-color="#920fa3"/><stop offset=".070" stop-color="#a11b9b"/><stop offset=".113" stop-color="#b42e8d"/><stop offset=".148" stop-color="#bd3786"/><stop offset=".218" stop-color="#c8437b"/><stop offset=".278" stop-color="#cc4977"/><stop offset=".391" stop-color="#df6263"/><stop offset=".459" stop-color="#ed7a52"/><stop offset=".521" stop-color="#f89540"/><stop offset=".581" stop-color="#fdac33"/><stop offset=".652" stop-color="#fdc229"/><stop offset=".797" stop-color="#f9dd25"/><stop offset="1.000" stop-color="#f6e826"/></linearGradient>
<linearGradient id="g149" gradientUnits="userSpaceOnUse" x1="0" y1="65.25" x2="0" y2="321.467"><stop offset=".000" stop-color="#3f049c"/><stop offset=".013" stop-color="#46039f"/><stop offset=".028" stop-color="#6700a8"/><stop offset=".035" stop-color="#7401a8"/><stop offset=".043" stop-color="#8004a8"/><stop offset=".068" stop-color="#9a169f"/><stop offset=".110" stop-color="#b22b8f"/><stop offset=".150" stop-color="#bd3786"/><stop offset=".216" stop-color="#c8437b"/><stop offset=".278" stop-color="#cd4a76"/><stop offset=".393" stop-color="#e16462"/><stop offset=".451" stop-color="#ed7953"/><stop offset=".524" stop-color="#f9983e"/><stop offset=".564" stop-color="#fca835"/><stop offset=".649" stop-color="#fdc229"/><stop offset=".797" stop-color="#f9dd25"/><stop offset="1.000" stop-color="#f6e826"/></linearGradient>
<linearGradient id="g150" gradientUnits="userSpaceOnUse" x1="0" y1="65.25" x2="0" y2="321.467"><stop offset=".000" stop-color="#3a049a"/><stop offset=".013" stop-color="#3a049a"/><stop offset=".028" stop-color="#5e01a6"/><stop offset=".040" stop-color="#7501a8"/><stop offset=".055" stop-color="#8808a6"/><stop offset=".070" stop-color="#99159f"/><stop offset=".115" stop-color="#b22b8f"/><stop offset=".153" stop-color="#bc3587"/><stop offset=".216" stop-color="#c6417d"/><stop offset=".281" stop-color="#cb4679"/><stop offset=".391" stop-color="#dc5d67"/><stop offset=".446" stop-color="#e87059"/><stop offset=".521" stop-color="#f79143"/><stop offset=".564" stop-color="#fca338"/><stop offset=".657" stop-color="#fdc229"/><stop offset=".782" stop-color="#f9dc24"/><stop offset=".857" stop-color="#f7e225"/><stop offset="1.000" stop-color="#f6e826"/></linearGradient>
<linearGradient id="g151" gradientUnits="userSpaceOnUse" x1="0" y1="65.25" x2="0" y2="321.467"><stop offset=".000" stop-color="#3c049b"/><stop offset=".013" stop-color="#3e049c"/><stop offset=".028" stop-color="#6100a7"/><stop offset=".038" stop-color="#7401a8"/><stop offset=".048" stop-color="#8104a7"/><stop offset=".068" stop-color="#9814a0"/><stop offset=".085" stop-color="#a51f99"/><stop offset=".113" stop-color="#b22b8f"/><stop offset=".153" stop-color="#bd3786"/><stop offset=".216" stop-color="#c8437b"/><stop offset=".278" stop-color="#cd4a76"/><stop offset=".396" stop-color="#e26561"/><stop offset=".454" stop-color="#ed7a52"/><stop offset=".524" stop-color="#f9983e"/><stop offset=".564" stop-color="#fca835"/><stop offset=".649" stop-color="#fdc229"/><stop offset=".797" stop-color="#f9dd25"/><stop offset="1.000" stop-color="#f6e826"/></linearGradient>
<linearGradient id="g152" gradientUnits="userSpaceOnUse" x1="0" y1="65.25" x2="0" y2="321.467"><stop offset=".000" stop-color="#2e0595"/><stop offset=".013" stop-color="#2f0596"/><stop offset=".023" stop-color="#3a049a"/><stop offset=".028" stop-color="#43039e"/><stop offset=".040" stop-color="#6100a7"/><stop offset=".050" stop-color="#7401a8"/><stop offset=".060" stop-color="#8104a7"/><stop offset=".085" stop-color="#9d189d"/><stop offset=".115" stop-color="#ae2892"/><stop offset=".153" stop-color="#bb3488"/><stop offset=".213" stop-color="#c6417d"/><stop offset=".278" stop-color="#cc4778"/><stop offset=".396" stop-color="#df6263"/><stop offset=".441" stop-color="#e97158"/><stop offset=".521" stop-color="#f89441"/><stop offset=".566" stop-color="#fca636"/><stop offset=".652" stop-color="#fdc229"/><stop offset=".782" stop-color="#f9dc24"/><stop offset=".857" stop-color="#f7e225"/><stop offset="1.000" stop-color="#f6e826"/></linearGradient>
<linearGradient id="g153" gradientUnits="userSpaceOnUse" x1="0" y1="65.25" x2="0" y2="321.467"><stop offset=".000" stop-color="#38049a"/><stop offset=".013" stop-color="#3a049a"/><stop offset=".025" stop-color="#5801a4"/><stop offset=".040" stop-color="#7401a8"/><stop offset=".050" stop-color="#8104a7"/><stop offset=".070" stop-color="#9814a0"/><stop offset=".113" stop-color="#b02991"/><stop offset=".150" stop-color="#ba3388"/><stop offset=".213" stop-color="#c33d80"/><stop offset=".278" stop-color="#c6417d"/><stop offset=".393" stop-color="#d6556d"/><stop offset=".451" stop-color="#e4695e"/><stop offset=".541" stop-color="#f79342"/><stop offset=".654" stop-color="#febe2a"/><stop offset=".784" stop-color="#f9dc24"/><stop offset=".860" stop-color="#f7e225"/><stop offset="1.000" stop-color="#f6e826"/></linearGradient>
<linearGradient id="g154" gradientUnits="userSpaceOnUse" x1="0" y1="65.25" x2="0" y2="321.467"><stop offset=".000" stop-color="#310597"/><stop offset=".013" stop-color="#330597"/><stop offset=".025" stop-color="#46039f"/><stop offset=".045" stop-color="#6f00a8"/><stop offset=".060" stop-color="#8606a6"/><stop offset=".080" stop-color="#9a169f"/><stop offset=".115" stop-color="#b02991"/><stop offset=".155" stop-color="#bc3587"/><stop offset=".221" stop-color="#c8437b"/><stop offset=".276" stop-color="#cc4977"/><stop offset=".391" stop-color="#e06363"/><stop offset=".446" stop-color="#eb7655"/><stop offset=".519" stop-color="#f89540"/><stop offset=".569" stop-color="#fca934"/><stop offset=".649" stop-color="#fdc229"/><stop offset=".797" stop-color="#f9dd25"/><stop offset="1.000" stop-color="#f6e826"/></linearGradient>
<linearGradient id="g155" gradientUnits="userSpaceOnUse" x1="0" y1="65.25" x2="0" y2="321.467"><stop offset=".000" stop-color="#38049a"/><stop offset=".013" stop-color="#3a049a"/><stop offset=".025" stop-color="#5801a4"/><stop offset=".043" stop-color="#7801a8"/><stop offset=".070" stop-color="#9814a0"/><stop offset=".088" stop-color="#a51f99"/><stop offset=".113" stop-color="#b12a90"/><stop offset=".163" stop-color="#be3885"/><stop offset=".223" stop-color="#c8437b"/><stop offset=".278" stop-color="#cc4977"/><stop offset=".391" stop-color="#df6263"/><stop offset=".446" stop-color="#eb7556"/><stop offset=".524" stop-color="#f9973f"/><stop offset=".566" stop-color="#fca835"/><stop offset=".652" stop-color="#fdc229"/><stop offset=".797" stop-color="#f9dd25"/><stop offset="1.000" stop-color="#f6e826"/></linearGradient>
<linearGradient id="g156" gradientUnits="userSpaceOnUse" x1="0" y1="65.25" x2="0" y2="321.467"><stop offset=".000" stop-color="#38049a"/><stop offset=".013" stop-color="#3a049a"/><stop offset=".025" stop-color="#5801a4"/><stop offset=".043" stop-color="#7701a8"/><stop offset=".053" stop-color="#8606a6"/><stop offset=".080" stop-color="#a01a9c"/><stop offset=".125" stop-color="#b52f8c"/><stop offset=".213" stop-color="#c9447a"/><stop offset=".276" stop-color="#d04d73"/><stop offset=".381" stop-color="#e3685f"/><stop offset=".449" stop-color="#f07f4f"/><stop offset=".509" stop-color="#f9983e"/><stop offset=".566" stop-color="#fdae32"/><stop offset=".692" stop-color="#fccd25"/><stop offset=".794" stop-color="#f9dd25"/><stop offset="1.000" stop-color="#f6e826"/></linearGradient>
<linearGradient id="g157" gradientUnits="userSpaceOnUse" x1="0" y1="65.25" x2="0" y2="321.467"><stop offset=".000" stop-color="#3a049a"/><stop offset=".013" stop-color="#3e049c"/><stop offset=".028" stop-color="#6100a7"/><stop offset=".043" stop-color="#7a02a8"/><stop offset=".060" stop-color="#8f0da4"/><stop offset=".083" stop-color="#a21d9a"/><stop offset=".135" stop-color="#b83289"/><stop offset=".213" stop-color="#c9447a"/><stop offset=".278" stop-color="#d04d73"/><stop offset=".388" stop-color="#e4695e"/><stop offset=".451" stop-color="#f07f4f"/><stop offset=".514" stop-color="#f99a3e"/><stop offset=".569" stop-color="#fdae32"/><stop offset=".677" stop-color="#fdca26"/><stop offset=".794" stop-color="#f9dd25"/><stop offset="1.000" stop-color="#f6e826"/></linearGradient>
<linearGradient id="g158" gradientUnits="userSpaceOnUse" x1="0" y1="65.25" x2="0" y2="321.467"><stop offset=".000" stop-color="#2e0595"/><stop offset=".015" stop-color="#2f0596"/><stop offset=".025" stop-color="#370499"/><stop offset=".028" stop-color="#3a049a"/><stop offset=".040" stop-color="#5b01a5"/><stop offset=".053" stop-color="#7201a8"/><stop offset=".070" stop-color="#8b0aa5"/><stop offset=".085" stop-color="#9a169f"/><stop offset=".110" stop-color="#ab2494"/><stop offset=".133" stop-color="#b42e8d"/><stop offset=".203" stop-color="#c6417d"/><stop offset=".276" stop-color="#cf4c74"/><stop offset=".391" stop-color="#e4695e"/><stop offset=".519" stop-color="#fa9b3d"/><stop offset=".581" stop-color="#fdb130"/><stop offset=".662" stop-color="#fdc627"/><stop offset=".794" stop-color="#f9dd25"/><stop offset="1.000" stop-color="#f6e826"/></linearGradient>
<linearGradient id="g159" gradientUnits="userSpaceOnUse" x1="0" y1="65.25" x2="0" y2="321.467"><stop offset=".000" stop-color="#370499"/><stop offset=".013" stop-color="#38049a"/><stop offset=".028" stop-color="#5901a5"/><stop offset=".040" stop-color="#7100a8"/><stop offset=".055" stop-color="#8606a6"/><stop offset=".073" stop-color="#9814a0"/><stop offset=".115" stop-color="#b12a90"/><stop offset=".170" stop-color="#bf3984"/><stop offset=".223" stop-color="#c8437b"/><stop offset=".278" stop-color="#cc4977"/><stop offset=".391" stop-color="#df6263"/><stop offset=".461" stop-color="#ee7b51"/><stop offset=".524" stop-color="#f9973f"/><stop offset=".566" stop-color="#fca835"/><stop offset=".652" stop-color="#fdc229"/><stop offset=".797" stop-color="#f9dd25"/><stop offset="1.000" stop-color="#f6e826"/></linearGradient>
<linearGradient id="g160" gradientUnits="userSpaceOnUse" x1="0" y1="65.25" x2="0" y2="321.467"><stop offset=".000" stop-color="#310597"/><stop offset=".013" stop-color="#330597"/><stop offset=".023" stop-color="#3e049c"/><stop offset=".028" stop-color="#46039f"/><stop offset=".040" stop-color="#6300a7"/><stop offset=".053" stop-color="#7801a8"/><stop offset=".073" stop-color="#910ea3"/><stop offset=".088" stop-color="#9e199d"/><stop offset=".120" stop-color="#b02991"/><stop offset=".173" stop-color="#be3885"/><stop offset=".226" stop-color="#c7427c"/><stop offset=".276" stop-color="#cb4679"/><stop offset=".388" stop-color="#dd5e66"/><stop offset=".439" stop-color="#e76f5a"/><stop offset=".524" stop-color="#f89441"/><stop offset=".569" stop-color="#fca636"/><stop offset=".654" stop-color="#fdc229"/><stop offset=".782" stop-color="#f9dc24"/><stop offset=".857" stop-color="#f7e225"/><stop offset="1.000" stop-color="#f6e826"/></linearGradient>
<linearGradient id="g161" gradientUnits="userSpaceOnUse" x1="0" y1="65.25" x2="0" y2="321.467"><stop offset=".000" stop-color="#2a0593"/><stop offset=".025" stop-color="#2c0594"/><stop offset=".040" stop-color="#4903a0"/><stop offset=".053" stop-color="#6600a7"/><stop offset=".070" stop-color="#8305a7"/><stop offset=".088" stop-color="#9613a1"/><stop offset=".105" stop-color="#a31e9a"/><stop offset=".148" stop-color="#b7318a"/><stop offset=".216" stop-color="#c7427c"/><stop offset=".278" stop-color="#cd4a76"/><stop offset=".393" stop-color="#e26561"/><stop offset=".474" stop-color="#f1834c"/><stop offset=".521" stop-color="#f9983e"/><stop offset=".617" stop-color="#feb82c"/><stop offset=".697" stop-color="#fccd25"/><stop offset=".797" stop-color="#f9dd25"/><stop offset="1.000" stop-color="#f6e826"/></linearGradient>
<linearGradient id="g162" gradientUnits="userSpaceOnUse" x1="0" y1="65.25" x2="0" y2="321.467"><stop offset=".000" stop-color="#2e0595"/><stop offset=".025" stop-color="#330597"/><stop offset=".040" stop-color="#5801a4"/><stop offset=".055" stop-color="#7401a8"/><stop offset=".073" stop-color="#8b0aa5"/><stop offset=".093" stop-color="#9e199d"/><stop offset=".115" stop-color="#ac2694"/><stop offset=".148" stop-color="#b83289"/><stop offset=".213" stop-color="#c7427c"/><stop offset=".273" stop-color="#cd4a76"/><stop offset=".381" stop-color="#e06363"/><stop offset=".436" stop-color="#eb7556"/><stop offset=".516" stop-color="#f9973f"/><stop offset=".594" stop-color="#fdb22f"/><stop offset=".697" stop-color="#fccd25"/><stop offset=".797" stop-color="#f9dd25"/><stop offset="1.000" stop-color="#f6e826"/></linearGradient>
<linearGradient id="g163" gradientUnits="userSpaceOnUse" x1="0" y1="65.25" x2="0" y2="321.467"><stop offset=".000" stop-color="#350498"/><stop offset=".013" stop-color="#350498"/><stop offset=".023" stop-color="#44039e"/><stop offset=".035" stop-color="#5e01a6"/><stop offset=".048" stop-color="#7401a8"/><stop offset=".070" stop-color="#910ea3"/><stop offset=".088" stop-color="#a01a9c"/><stop offset=".118" stop-color="#b02991"/><stop offset=".138" stop-color="#b6308b"/><stop offset=".190" stop-color="#c23c81"/><stop offset=".281" stop-color="#cc4977"/><stop offset=".391" stop-color="#df6263"/><stop offset=".456" stop-color="#ed7953"/><stop offset=".539" stop-color="#fa9c3c"/><stop offset=".617" stop-color="#feb72d"/><stop offset=".692" stop-color="#fdcb26"/><stop offset=".797" stop-color="#f9dd25"/><stop offset="1.000" stop-color="#f6e826"/></linearGradient>
<linearGradient id="g164" gradientUnits="userSpaceOnUse" x1="0" y1="65.25" x2="0" y2="321.467"><stop offset=".000" stop-color="#280592"/><stop offset=".020" stop-color="#2a0593"/><stop offset=".028" stop-color="#2e0595"/><stop offset=".040" stop-color="#3f049c"/><stop offset=".053" stop-color="#5e01a6"/><stop offset=".070" stop-color="#7d03a8"/><stop offset=".088" stop-color="#920fa3"/><stop offset=".108" stop-color="#a21d9a"/><stop offset=".148" stop-color="#b6308b"/><stop offset=".206" stop-color="#c43e7f"/><stop offset=".276" stop-color="#cc4977"/><stop offset=".388" stop-color="#e06363"/><stop offset=".441" stop-color="#eb7556"/><stop offset=".524" stop-color="#f9983e"/><stop offset=".624" stop-color="#feba2c"/><stop offset=".707" stop-color="#fcce25"/><stop offset=".797" stop-color="#f9dd25"/><stop offset="1.000" stop-color="#f6e826"/></linearGradient>
<linearGradient id="g165" gradientUnits="userSpaceOnUse" x1="0" y1="65.25" x2="0" y2="321.467"><stop offset=".000" stop-color="#2e0595"/><stop offset=".025" stop-color="#310597"/><stop offset=".043" stop-color="#5801a4"/><stop offset=".055" stop-color="#6f00a8"/><stop offset=".068" stop-color="#8305a7"/><stop offset=".090" stop-color="#9a169f"/><stop offset=".110" stop-color="#a82296"/><stop offset=".143" stop-color="#b6308b"/><stop offset=".203" stop-color="#c5407e"/><stop offset=".276" stop-color="#ce4b75"/><stop offset=".388" stop-color="#e26660"/><stop offset=".451" stop-color="#ef7c51"/><stop offset=".526" stop-color="#fa9c3c"/><stop offset=".596" stop-color="#fdb42f"/><stop offset=".672" stop-color="#fdc827"/><stop offset=".779" stop-color="#f9dc24"/><stop offset=".887" stop-color="#f7e425"/><stop offset="1.000" stop-color="#f6e826"/></linearGradient>
<linearGradient id="g166" gradientUnits="userSpaceOnUse" x1="0" y1="65.25" x2="0" y2="321.467"><stop offset=".000" stop-color="#310597"/><stop offset=".013" stop-color="#330597"/><stop offset=".025" stop-color="#3e049c"/><stop offset=".038" stop-color="#5901a5"/><stop offset=".053" stop-color="#7501a8"/><stop offset=".070" stop-color="#8d0ba5"/><stop offset=".088" stop-color="#9d189d"/><stop offset=".108" stop-color="#aa2395"/><stop offset=".135" stop-color="#b52f8c"/><stop offset=".201" stop-color="#c6417d"/><stop offset=".278" stop-color="#d14e72"/><stop offset=".388" stop-color="#e56b5d"/><stop offset=".499" stop-color="#f89540"/><stop offset=".569" stop-color="#fdaf31"/><stop offset=".674" stop-color="#fdca26"/><stop offset=".794" stop-color="#f9dd25"/><stop offset="1.000" stop-color="#f6e826"/></linearGradient>
<linearGradient id="g167" gradientUnits="userSpaceOnUse" x1="0" y1="65.25" x2="0" y2="321.467"><stop offset=".000" stop-color="#310597"/><stop offset=".025" stop-color="#370499"/><stop offset=".028" stop-color="#3a049a"/><stop offset=".038" stop-color="#5502a4"/><stop offset=".055" stop-color="#7501a8"/><stop offset=".070" stop-color="#8a09a5"/><stop offset=".090" stop-color="#9d189d"/><stop offset=".108" stop-color="#a82296"/><stop offset=".148" stop-color="#ba3388"/><stop offset=".208" stop-color="#c8437b"/><stop offset=".288" stop-color="#d45270"/><stop offset=".391" stop-color="#e76e5b"/><stop offset=".494" stop-color="#f89540"/><stop offset=".564" stop-color="#fdaf31"/><stop offset=".672" stop-color="#fdca26"/><stop offset=".794" stop-color="#f9dd25"/><stop offset="1.000" stop-color="#f6e826"/></linearGradient>
<linearGradient id="g168" gradientUnits="userSpaceOnUse" x1="0" y1="65.25" x2="0" y2="321.467"><stop offset=".000" stop-color="#310597"/><stop offset=".025" stop-color="#350498"/><stop offset=".028" stop-color="#38049a"/><stop offset=".038" stop-color="#5302a3"/><stop offset=".055" stop-color="#7401a8"/><stop offset=".073" stop-color="#8b0aa5"/><stop offset=".093" stop-color="#9e199d"/><stop offset=".135" stop-color="#b52f8c"/><stop offset=".211" stop-color="#ca457a"/><stop offset=".281" stop-color="#d5536f"/><stop offset=".388" stop-color="#e97257"/><stop offset=".476" stop-color="#f89441"/><stop offset=".566" stop-color="#fdb42f"/><stop offset=".664" stop-color="#fdca26"/><stop offset=".792" stop-color="#f9dd25"/><stop offset="1.000" stop-color="#f6e826"/></linearGradient>
<linearGradient id="g169" gradientUnits="userSpaceOnUse" x1="0" y1="65.25" x2="0" y2="321.467"><stop offset=".000" stop-color="#2c0594"/><stop offset=".028" stop-color="#310597"/><stop offset=".040" stop-color="#44039e"/><stop offset=".053" stop-color="#6100a7"/><stop offset=".073" stop-color="#8305a7"/><stop offset=".088" stop-color="#9410a2"/><stop offset=".113" stop-color="#a72197"/><stop offset=".145" stop-color="#b6308b"/><stop offset=".211" stop-color="#c7427c"/><stop offset=".283" stop-color="#d14e72"/><stop offset=".393" stop-color="#e56b5d"/><stop offset=".509" stop-color="#f9983e"/><stop offset=".566" stop-color="#fdae32"/><stop offset=".692" stop-color="#fccd25"/><stop offset=".794" stop-color="#f9dd25"/><stop offset="1.000" stop-color="#f6e826"/></linearGradient>
<linearGradient id="g170" gradientUnits="userSpaceOnUse" x1="0" y1="65.25" x2="0" y2="321.467"><stop offset=".000" stop-color="#330597"/><stop offset=".013" stop-color="#350498"/><stop offset=".025" stop-color="#3e049c"/><stop offset=".038" stop-color="#5901a5"/><stop offset=".053" stop-color="#7501a8"/><stop offset=".070" stop-color="#8d0ba5"/><stop offset=".088" stop-color="#9d189d"/><stop offset=".113" stop-color="#ad2793"/><stop offset=".135" stop-color="#b6308b"/><stop offset=".218" stop-color="#cc4977"/><stop offset=".288" stop-color="#d8576b"/><stop offset=".398" stop-color="#ed7a52"/><stop offset=".469" stop-color="#f89540"/><stop offset=".561" stop-color="#fdb52e"/><stop offset=".649" stop-color="#fdc827"/><stop offset=".789" stop-color="#f9dd25"/><stop offset="1.000" stop-color="#f6e826"/></linearGradient>
<linearGradient id="g171" gradientUnits="userSpaceOnUse" x1="0" y1="65.25" x2="0" y2="321.467"><stop offset=".000" stop-color="#2f0596"/><stop offset=".025" stop-color="#310597"/><stop offset=".038" stop-color="#46039f"/><stop offset=".055" stop-color="#6a00a8"/><stop offset=".073" stop-color="#8405a7"/><stop offset=".090" stop-color="#9814a0"/><stop offset=".110" stop-color="#a62098"/><stop offset=".140" stop-color="#b42e8d"/><stop offset=".198" stop-color="#c33d80"/><stop offset=".276" stop-color="#cd4a76"/><stop offset=".391" stop-color="#e26561"/><stop offset=".444" stop-color="#ec7754"/><stop offset=".514" stop-color="#f89540"/><stop offset=".574" stop-color="#fdac33"/><stop offset=".697" stop-color="#fccd25"/><stop offset=".797" stop-color="#f9dd25"/><stop offset="1.000" stop-color="#f6e826"/></linearGradient>
<linearGradient id="g172" gradientUnits="userSpaceOnUse" x1="0" y1="65.25" x2="0" y2="321.467"><stop offset=".000" stop-color="#310597"/><stop offset=".025" stop-color="#350498"/><stop offset=".043" stop-color="#5901a5"/><stop offset=".058" stop-color="#7501a8"/><stop offset=".075" stop-color="#8d0ba5"/><stop offset=".095" stop-color="#9e199d"/><stop offset=".110" stop-color="#a82296"/><stop offset=".148" stop-color="#b83289"/><stop offset=".218" stop-color="#c9447a"/><stop offset=".273" stop-color="#cf4c74"/><stop offset=".391" stop-color="#e56a5d"/><stop offset=".506" stop-color="#f9973f"/><stop offset=".579" stop-color="#fdb130"/><stop offset=".684" stop-color="#fdcb26"/><stop offset=".794" stop-color="#f9dd25"/><stop offset="1.000" stop-color="#f6e826"/></linearGradient>
<linearGradient id="g173" gradientUnits="userSpaceOnUse" x1="0" y1="65.25" x2="0" y2="321.467"><stop offset=".000" stop-color="#310597"/><stop offset=".023" stop-color="#330597"/><stop offset=".028" stop-color="#370499"/><stop offset=".048" stop-color="#6100a7"/><stop offset=".063" stop-color="#7a02a8"/><stop offset=".070" stop-color="#8606a6"/><stop offset=".088" stop-color="#9814a0"/><stop offset=".100" stop-color="#a11b9b"/><stop offset=".148" stop-color="#b7318a"/><stop offset=".208" stop-color="#c5407e"/><stop offset=".278" stop-color="#cd4a76"/><stop offset=".393" stop-color="#e26561"/><stop offset=".449" stop-color="#ed7953"/><stop offset=".529" stop-color="#fa9b3d"/><stop offset=".612" stop-color="#feb72d"/><stop offset=".689" stop-color="#fdcb26"/><stop offset=".797" stop-color="#f9dd25"/><stop offset="1.000" stop-color="#f6e826"/></linearGradient>
<linearGradient id="g174" gradientUnits="userSpaceOnUse" x1="0" y1="65.25" x2="0" y2="321.467"><stop offset=".000" stop-color="#330597"/><stop offset=".025" stop-color="#350498"/><stop offset=".038" stop-color="#5302a3"/><stop offset=".053" stop-color="#6f00a8"/><stop offset=".070" stop-color="#8808a6"/><stop offset=".093" stop-color="#9d189d"/><stop offset=".115" stop-color="#ab2494"/><stop offset=".148" stop-color="#b7318a"/><stop offset=".218" stop-color="#c6417d"/><stop offset=".278" stop-color="#cc4778"/><stop offset=".391" stop-color="#de6164"/><stop offset=".474" stop-color="#f0804e"/><stop offset=".544" stop-color="#fa9e3b"/><stop offset=".637" stop-color="#febd2a"/><stop offset=".709" stop-color="#fcce25"/><stop offset=".817" stop-color="#f8df25"/><stop offset="1.000" stop-color="#f6e826"/></linearGradient>
<linearGradient id="g175" gradientUnits="userSpaceOnUse" x1="0" y1="65.25" x2="0" y2="321.467"><stop offset=".000" stop-color="#2f0596"/><stop offset=".028" stop-color="#350498"/><stop offset=".040" stop-color="#4903a0"/><stop offset=".050" stop-color="#6001a6"/><stop offset=".070" stop-color="#8104a7"/><stop offset=".090" stop-color="#9613a1"/><stop offset=".113" stop-color="#a72197"/><stop offset=".143" stop-color="#b42e8d"/><stop offset=".206" stop-color="#c33d80"/><stop offset=".286" stop-color="#cc4977"/><stop offset=".396" stop-color="#df6263"/><stop offset=".441" stop-color="#e97158"/><stop offset=".541" stop-color="#fa9c3c"/><stop offset=".652" stop-color="#fdc229"/><stop offset=".702" stop-color="#fccd25"/><stop offset=".782" stop-color="#f9dc24"/><stop offset=".837" stop-color="#f8e125"/><stop offset="1.000" stop-color="#f6e826"/></linearGradient>
<linearGradient id="g176" gradientUnits="userSpaceOnUse" x1="0" y1="65.25" x2="0" y2="321.467"><stop offset=".000" stop-color="#2e0595"/><stop offset=".025" stop-color="#2f0596"/><stop offset=".038" stop-color="#370499"/><stop offset=".040" stop-color="#3a049a"/><stop offset=".053" stop-color="#5901a5"/><stop offset=".070" stop-color="#7a02a8"/><stop offset=".088" stop-color="#8f0da4"/><stop offset=".113" stop-color="#a51f99"/><stop offset=".150" stop-color="#b6308b"/><stop offset=".216" stop-color="#c7427c"/><stop offset=".276" stop-color="#ce4b75"/><stop offset=".391" stop-color="#e3685f"/><stop offset=".444" stop-color="#ed7a52"/><stop offset=".521" stop-color="#fa9b3d"/><stop offset=".607" stop-color="#feb72d"/><stop offset=".694" stop-color="#fccd25"/><stop offset=".797" stop-color="#f9dd25"/><stop offset=".887" stop-color="#f7e425"/><stop offset="1.000" stop-color="#f6e826"/></linearGradient>
<linearGradient id="g177" gradientUnits="userSpaceOnUse" x1="0" y1="65.25" x2="0" y2="321.467"><stop offset=".000" stop-color="#350498"/><stop offset=".015" stop-color="#370499"/><stop offset=".025" stop-color="#3c049b"/><stop offset=".038" stop-color="#5801a4"/><stop offset=".053" stop-color="#7401a8"/><stop offset=".070" stop-color="#8b0aa5"/><stop offset=".088" stop-color="#9c179e"/><stop offset=".108" stop-color="#a82296"/><stop offset=".145" stop-color="#b83289"/><stop offset=".206" stop-color="#c7427c"/><stop offset=".286" stop-color="#d35171"/><stop offset=".393" stop-color="#e76e5b"/><stop offset=".496" stop-color="#f89540"/><stop offset=".561" stop-color="#fdae32"/><stop offset=".657" stop-color="#fdc627"/><stop offset=".794" stop-color="#f9dd25"/><stop offset="1.000" stop-color="#f6e826"/></linearGradient>
<linearGradient id="g178" gradientUnits="userSpaceOnUse" x1="0" y1="65.25" x2="0" y2="321.467"><stop offset=".000" stop-color="#310597"/><stop offset=".028" stop-color="#350498"/><stop offset=".038" stop-color="#43039e"/><stop offset=".053" stop-color="#6300a7"/><stop offset=".073" stop-color="#8305a7"/><stop offset=".088" stop-color="#9410a2"/><stop offset=".110" stop-color="#a51f99"/><stop offset=".148" stop-color="#b6308b"/><stop offset=".208" stop-color="#c5407e"/><stop offset=".281" stop-color="#ce4b75"/><stop offset=".388" stop-color="#e26561"/><stop offset=".441" stop-color="#ec7754"/><stop offset=".519" stop-color="#f9983e"/><stop offset=".609" stop-color="#feb72d"/><stop offset=".697" stop-color="#fccd25"/><stop offset=".797" stop-color="#f9dd25"/><stop offset=".887" stop-color="#f7e425"/><stop offset="1.000" stop-color="#f6e826"/></linearGradient>
<linearGradient id="g179" gradientUnits="userSpaceOnUse" x1="0" y1="65.25" x2="0" y2="321.467"><stop offset=".000" stop-color="#2e0595"/><stop offset=".038" stop-color="#310597"/><stop offset=".055" stop-color="#5601a4"/><stop offset=".070" stop-color="#7401a8"/><stop offset=".080" stop-color="#8104a7"/><stop offset=".090" stop-color="#8e0ca4"/><stop offset=".113" stop-color="#a21d9a"/><stop offset=".155" stop-color="#b7318a"/><stop offset=".216" stop-color="#c8437b"/><stop offset=".283" stop-color="#d24f71"/><stop offset=".386" stop-color="#e56b5d"/><stop offset=".496" stop-color="#f89540"/><stop offset=".561" stop-color="#fdae32"/><stop offset=".657" stop-color="#fdc627"/><stop offset=".794" stop-color="#f9dd25"/><stop offset="1.000" stop-color="#f6e826"/></linearGradient>
<linearGradient id="g180" gradientUnits="userSpaceOnUse" x1="0" y1="65.25" x2="0" y2="321.467"><stop offset=".000" stop-color="#2c0594"/><stop offset=".040" stop-color="#310597"/><stop offset=".053" stop-color="#46039f"/><stop offset=".063" stop-color="#5c01a6"/><stop offset=".075" stop-color="#7401a8"/><stop offset=".095" stop-color="#8e0ca4"/><stop offset=".118" stop-color="#a21d9a"/><stop offset=".153" stop-color="#b42e8d"/><stop offset=".218" stop-color="#c6417d"/><stop offset=".276" stop-color="#cc4977"/><stop offset=".391" stop-color="#e16462"/><stop offset=".446" stop-color="#ec7754"/><stop offset=".519" stop-color="#f9973f"/><stop offset=".591" stop-color="#fdb130"/><stop offset=".654" stop-color="#fdc328"/><stop offset=".707" stop-color="#fcce25"/><stop offset=".797" stop-color="#f9dd25"/><stop offset="1.000" stop-color="#f6e826"/></linearGradient>
<linearGradient id="g181" gradientUnits="userSpaceOnUse" x1="0" y1="65.25" x2="0" y2="321.467"><stop offset=".000" stop-color="#2f0596"/><stop offset=".038" stop-color="#330597"/><stop offset=".060" stop-color="#6100a7"/><stop offset=".075" stop-color="#7b02a8"/><stop offset=".090" stop-color="#8e0ca4"/><stop offset=".113" stop-color="#a21d9a"/><stop offset=".153" stop-color="#b6308b"/><stop offset=".213" stop-color="#c7427c"/><stop offset=".283" stop-color="#d14e72"/><stop offset=".388" stop-color="#e56a5d"/><stop offset=".501" stop-color="#f89540"/><stop offset=".561" stop-color="#fdac33"/><stop offset=".659" stop-color="#fdc627"/><stop offset=".794" stop-color="#f9dd25"/><stop offset="1.000" stop-color="#f6e826"/></linearGradient>
<linearGradient id="g182" gradientUnits="userSpaceOnUse" x1="0" y1="65.25" x2="0" y2="321.467"><stop offset=".000" stop-color="#310597"/><stop offset=".025" stop-color="#330597"/><stop offset=".038" stop-color="#38049a"/><stop offset=".043" stop-color="#41049d"/><stop offset=".055" stop-color="#5e01a6"/><stop offset=".075" stop-color="#8004a8"/><stop offset=".090" stop-color="#910ea3"/><stop offset=".113" stop-color="#a31e9a"/><stop offset=".153" stop-color="#b6308b"/><stop offset=".211" stop-color="#c5407e"/><stop offset=".278" stop-color="#cd4a76"/><stop offset=".396" stop-color="#e26660"/><stop offset=".466" stop-color="#f0804e"/><stop offset=".524" stop-color="#f99a3e"/><stop offset=".569" stop-color="#fdab33"/><stop offset=".622" stop-color="#feba2c"/><stop offset=".697" stop-color="#fccd25"/><stop offset=".797" stop-color="#f9dd25"/><stop offset="1.000" stop-color="#f6e826"/></linearGradient>
<linearGradient id="g183" gradientUnits="userSpaceOnUse" x1="0" y1="65.25" x2="0" y2="321.467"><stop offset=".000" stop-color="#2e0595"/><stop offset=".040" stop-color="#330597"/><stop offset=".053" stop-color="#41049d"/><stop offset=".070" stop-color="#6900a8"/><stop offset=".080" stop-color="#7801a8"/><stop offset=".088" stop-color="#8405a7"/><stop offset=".113" stop-color="#9e199d"/><stop offset=".150" stop-color="#b42e8d"/><stop offset=".216" stop-color="#c8437b"/><stop offset=".281" stop-color="#d24f71"/><stop offset=".383" stop-color="#e66c5c"/><stop offset=".481" stop-color="#f79143"/><stop offset=".566" stop-color="#fdb130"/><stop offset=".654" stop-color="#fdc627"/><stop offset=".792" stop-color="#f9dd25"/><stop offset="1.000" stop-color="#f6e826"/></linearGradient>
<linearGradient id="g184" gradientUnits="userSpaceOnUse" x1="0" y1="65.25" x2="0" y2="321.467"><stop offset=".000" stop-color="#2e0595"/><stop offset=".038" stop-color="#310597"/><stop offset=".053" stop-color="#3e049c"/><stop offset=".068" stop-color="#6100a7"/><stop offset=".083" stop-color="#7b02a8"/><stop offset=".095" stop-color="#8b0aa5"/><stop offset=".118" stop-color="#a11b9b"/><stop offset=".155" stop-color="#b52f8c"/><stop offset=".216" stop-color="#c8437b"/><stop offset=".276" stop-color="#d14e72"/><stop offset=".383" stop-color="#e66c5c"/><stop offset=".491" stop-color="#f89540"/><stop offset=".561" stop-color="#fdaf31"/><stop offset=".654" stop-color="#fdc627"/><stop offset=".792" stop-color="#f9dd25"/><stop offset="1.000" stop-color="#f6e826"/></linearGradient>
<linearGradient id="g185" gradientUnits="userSpaceOnUse" x1="0" y1="65.25" x2="0" y2="321.467"><stop offset=".000" stop-color="#330597"/><stop offset=".020" stop-color="#350498"/><stop offset=".038" stop-color="#3c049b"/><stop offset=".043" stop-color="#44039e"/><stop offset=".053" stop-color="#5c01a6"/><stop offset=".068" stop-color="#7701a8"/><stop offset=".075" stop-color="#8004a8"/><stop offset=".090" stop-color="#920fa3"/><stop offset=".110" stop-color="#a21d9a"/><stop offset=".153" stop-color="#b6308b"/><stop offset=".218" stop-color="#c6417d"/><stop offset=".276" stop-color="#cc4977"/><stop offset=".396" stop-color="#e26561"/><stop offset=".456" stop-color="#ee7b51"/><stop offset=".526" stop-color="#f99a3e"/><stop offset=".629" stop-color="#febb2b"/><stop offset=".707" stop-color="#fcce25"/><stop offset=".797" stop-color="#f9dd25"/><stop offset="1.000" stop-color="#f6e826"/></linearGradient>
<linearGradient id="g186" gradientUnits="userSpaceOnUse" x1="0" y1="65.25" x2="0" y2="321.467"><stop offset=".000" stop-color="#2e0595"/><stop offset=".050" stop-color="#330597"/><stop offset=".053" stop-color="#350498"/><stop offset=".070" stop-color="#6001a6"/><stop offset=".078" stop-color="#6c00a8"/><stop offset=".088" stop-color="#7e03a8"/><stop offset=".113" stop-color="#9a169f"/><stop offset=".153" stop-color="#b32c8e"/><stop offset=".216" stop-color="#c7427c"/><stop offset=".283" stop-color="#d24f71"/><stop offset=".388" stop-color="#e66c5c"/><stop offset=".491" stop-color="#f89441"/><stop offset=".556" stop-color="#fdac33"/><stop offset=".664" stop-color="#fdc827"/><stop offset=".794" stop-color="#f9dd25"/><stop offset="1.000" stop-color="#f6e826"/></linearGradient>
<linearGradient id="g187" gradientUnits="userSpaceOnUse" x1="0" y1="65.25" x2="0" y2="321.467"><stop offset=".000" stop-color="#2f0596"/><stop offset=".038" stop-color="#330597"/><stop offset=".050" stop-color="#3e049c"/><stop offset=".068" stop-color="#6300a7"/><stop offset=".080" stop-color="#7801a8"/><stop offset=".093" stop-color="#8808a6"/><stop offset=".113" stop-color="#9d189d"/><stop offset=".150" stop-color="#b32c8e"/><stop offset=".216" stop-color="#c6417d"/><stop offset=".276" stop-color="#ce4b75"/><stop offset=".388" stop-color="#e3685f"/><stop offset=".441" stop-color="#ed7a52"/><stop offset=".506" stop-color="#f89540"/><stop offset=".571" stop-color="#fdae32"/><stop offset=".694" stop-color="#fccd25"/><stop offset=".794" stop-color="#f9dd25"/><stop offset="1.000" stop-color="#f6e826"/></linearGradient>
<linearGradient id="g188" gradientUnits="userSpaceOnUse" x1="0" y1="65.25" x2="0" y2="321.467"><stop offset=".000" stop-color="#350498"/><stop offset=".038" stop-color="#38049a"/><stop offset=".055" stop-color="#5c01a6"/><stop offset=".073" stop-color="#7b02a8"/><stop offset=".088" stop-color="#8e0ca4"/><stop offset=".113" stop-color="#a31e9a"/><stop offset=".148" stop-color="#b52f8c"/><stop offset=".213" stop-color="#c7427c"/><stop offset=".283" stop-color="#d14e72"/><stop offset=".391" stop-color="#e56b5d"/><stop offset=".504" stop-color="#f9973f"/><stop offset=".556" stop-color="#fdab33"/><stop offset=".667" stop-color="#fdc827"/><stop offset=".794" stop-color="#f9dd25"/><stop offset="1.000" stop-color="#f6e826"/></linearGradient>
<linearGradient id="g189" gradientUnits="userSpaceOnUse" x1="0" y1="65.25" x2="0" y2="321.467"><stop offset=".000" stop-color="#2f0596"/><stop offset=".053" stop-color="#370499"/><stop offset=".068" stop-color="#5b01a5"/><stop offset=".088" stop-color="#7e03a8"/><stop offset=".115" stop-color="#9d189d"/><stop offset=".145" stop-color="#b12a90"/><stop offset=".213" stop-color="#c9447a"/><stop offset=".276" stop-color="#d5536f"/><stop offset=".338" stop-color="#e3685f"/><stop offset=".396" stop-color="#ed7953"/><stop offset=".491" stop-color="#fa9e3b"/><stop offset=".569" stop-color="#feb72d"/><stop offset=".649" stop-color="#fdc827"/><stop offset=".789" stop-color="#f9dd25"/><stop offset="1.000" stop-color="#f6e826"/></linearGradient>
<linearGradient id="g190" gradientUnits="userSpaceOnUse" x1="0" y1="65.25" x2="0" y2="475.197"><stop offset=".000" stop-color="#6300a7"/><stop offset=".043" stop-color="#6a00a8"/><stop offset=".053" stop-color="#6f00a8"/><stop offset=".058" stop-color="#7a02a8"/><stop offset=".065" stop-color="#8f0da4"/><stop offset=".075" stop-color="#a21d9a"/><stop offset=".090" stop-color="#b42e8d"/><stop offset=".113" stop-color="#c33d80"/><stop offset=".135" stop-color="#cc4977"/><stop offset=".175" stop-color="#d5536f"/><stop offset=".236" stop-color="#e56b5d"/><stop offset=".276" stop-color="#f0804e"/><stop offset=".326" stop-color="#fca338"/><stop offset=".361" stop-color="#feb82c"/><stop offset=".404" stop-color="#fccd25"/><stop offset=".481" stop-color="#f6e626"/><stop offset=".556" stop-color="#f3f027"/><stop offset=".709" stop-color="#f1f525"/><stop offset=".747" stop-color="#f0f724"/><stop offset=".749" stop-color="#f0f921"/><stop offset="1.000" stop-color="#f0f921"/></linearGradient>
<linearGradient id="g191" gradientUnits="userSpaceOnUse" x1="0" y1="65.25" x2="0" y2="475.197"><stop offset=".000" stop-color="#6400a7"/><stop offset=".035" stop-color="#6900a8"/><stop offset=".065" stop-color="#7201a8"/><stop offset=".070" stop-color="#8004a8"/><stop offset=".078" stop-color="#9410a2"/><stop offset=".093" stop-color="#ac2694"/><stop offset=".115" stop-color="#c03a83"/><stop offset=".140" stop-color="#cb4679"/><stop offset=".180" stop-color="#d45270"/><stop offset=".251" stop-color="#e76e5b"/><stop offset=".296" stop-color="#f58b47"/><stop offset=".336" stop-color="#fca636"/><stop offset=".366" stop-color="#feb82c"/><stop offset=".406" stop-color="#fccd25"/><stop offset=".489" stop-color="#f6e826"/><stop offset=".556" stop-color="#f3f027"/><stop offset=".709" stop-color="#f1f525"/><stop offset=".747" stop-color="#f0f724"/><stop offset=".749" stop-color="#f0f921"/><stop offset="1.000" stop-color="#f0f921"/></linearGradient>
<linearGradient id="g192" gradientUnits="userSpaceOnUse" x1="0" y1="65.25" x2="0" y2="475.197"><stop offset=".000" stop-color="#8a09a5"/><stop offset=".033" stop-color="#8f0da4"/><stop offset=".043" stop-color="#99159f"/><stop offset=".055" stop-color="#ab2494"/><stop offset=".068" stop-color="#b6308b"/><stop offset=".103" stop-color="#c7427c"/><stop offset=".175" stop-color="#d6556d"/><stop offset=".226" stop-color="#e4695e"/><stop offset=".263" stop-color="#ee7b51"/><stop offset=".298" stop-color="#f79342"/><stop offset=".353" stop-color="#fdb52e"/><stop offset=".388" stop-color="#fdc627"/><stop offset=".429" stop-color="#fbd724"/><stop offset=".481" stop-color="#f6e626"/><stop offset=".556" stop-color="#f3f027"/><stop offset=".709" stop-color="#f1f525"/><stop offset=".747" stop-color="#f0f724"/><stop offset=".749" stop-color="#f0f921"/><stop offset="1.000" stop-color="#f0f921"/></linearGradient>
<linearGradient id="g193" gradientUnits="userSpaceOnUse" x1="0" y1="65.25" x2="0" y2="475.197"><stop offset=".000" stop-color="#8305a7"/><stop offset=".033" stop-color="#8808a6"/><stop offset=".043" stop-color="#9511a1"/><stop offset=".055" stop-color="#a82296"/><stop offset=".068" stop-color="#b42e8d"/><stop offset=".098" stop-color="#c33d80"/><stop offset=".120" stop-color="#c9447a"/><stop offset=".175" stop-color="#cf4c74"/><stop offset=".238" stop-color="#de5f65"/><stop offset=".273" stop-color="#e97158"/><stop offset=".328" stop-color="#f99a3e"/><stop offset=".381" stop-color="#febb2b"/><stop offset=".409" stop-color="#fdcb26"/><stop offset=".489" stop-color="#f6e826"/><stop offset=".559" stop-color="#f3f027"/><stop offset=".709" stop-color="#f1f525"/><stop offset=".747" stop-color="#f0f724"/><stop offset=".749" stop-color="#f0f921"/><stop offset="1.000" stop-color="#f0f921"/></linearGradient>
<linearGradient id="g194" gradientUnits="userSpaceOnUse" x1="0" y1="65.25" x2="0" y2="475.197"><stop offset=".000" stop-color="#7a02a8"/><stop offset=".043" stop-color="#8104a7"/><stop offset=".058" stop-color="#9d189d"/><stop offset=".075" stop-color="#b42e8d"/><stop offset=".093" stop-color="#c03a83"/><stop offset=".135" stop-color="#cf4c74"/><stop offset=".173" stop-color="#d6556d"/><stop offset=".228" stop-color="#e56b5d"/><stop offset=".276" stop-color="#f2844b"/><stop offset=".323" stop-color="#fca537"/><stop offset=".356" stop-color="#feb82c"/><stop offset=".401" stop-color="#fccd25"/><stop offset=".481" stop-color="#f6e626"/><stop offset=".556" stop-color="#f3f027"/><stop offset=".709" stop-color="#f1f525"/><stop offset=".747" stop-color="#f0f724"/><stop offset=".749" stop-color="#f0f921"/><stop offset="1.000" stop-color="#f0f921"/></linearGradient>
<linearGradient id="g195" gradientUnits="userSpaceOnUse" x1="0" y1="65.25" x2="0" y2="475.197"><stop offset=".000" stop-color="#7a02a8"/><stop offset=".043" stop-color="#8104a7"/><stop offset=".055" stop-color="#8f0da4"/><stop offset=".065" stop-color="#a31e9a"/><stop offset=".078" stop-color="#b22b8f"/><stop offset=".093" stop-color="#bd3786"/><stop offset=".128" stop-color="#ca457a"/><stop offset=".178" stop-color="#d14e72"/><stop offset=".243" stop-color="#e16462"/><stop offset=".278" stop-color="#ec7754"/><stop offset=".341" stop-color="#fca537"/><stop offset=".381" stop-color="#febd2a"/><stop offset=".411" stop-color="#fccd25"/><stop offset=".489" stop-color="#f6e826"/><stop offset=".556" stop-color="#f3f027"/><stop offset=".709" stop-color="#f1f525"/><stop offset=".747" stop-color="#f0f724"/><stop offset=".749" stop-color="#f0f921"/><stop offset="1.000" stop-color="#f0f921"/></linearGradient>
<linearGradient id="g196" gradientUnits="userSpaceOnUse" x1="0" y1="65.25" x2="0" y2="475.197"><stop offset=".000" stop-color="#8104a7"/><stop offset=".020" stop-color="#8405a7"/><stop offset=".033" stop-color="#8a09a5"/><stop offset=".043" stop-color="#a01a9c"/><stop offset=".060" stop-color="#b42e8d"/><stop offset=".078" stop-color="#bf3984"/><stop offset=".110" stop-color="#c9447a"/><stop offset=".173" stop-color="#d24f71"/><stop offset=".241" stop-color="#e26660"/><stop offset=".278" stop-color="#ee7b51"/><stop offset=".328" stop-color="#fb9f3a"/><stop offset=".366" stop-color="#feb72d"/><stop offset=".409" stop-color="#fccd25"/><stop offset=".489" stop-color="#f6e826"/><stop offset=".556" stop-color="#f3f027"/><stop offset=".709" stop-color="#f1f525"/><stop offset=".747" stop-color="#f0f724"/><stop offset=".749" stop-color="#f0f921"/><stop offset="1.000" stop-color="#f0f921"/></linearGradient>
<linearGradient id="g197" gradientUnits="userSpaceOnUse" x1="0" y1="65.25" x2="0" y2="475.197"><stop offset=".000" stop-color="#8606a6"/><stop offset=".033" stop-color="#8b0aa5"/><stop offset=".040" stop-color="#9a169f"/><stop offset=".055" stop-color="#b02991"/><stop offset=".068" stop-color="#ba3388"/><stop offset=".093" stop-color="#c5407e"/><stop offset=".138" stop-color="#d04d73"/><stop offset=".175" stop-color="#d5546e"/><stop offset=".216" stop-color="#e06363"/><stop offset=".261" stop-color="#ec7754"/><stop offset=".296" stop-color="#f68f44"/><stop offset=".336" stop-color="#fca934"/><stop offset=".381" stop-color="#fdc229"/><stop offset=".416" stop-color="#fcd225"/><stop offset=".481" stop-color="#f6e626"/><stop offset=".556" stop-color="#f3f027"/><stop offset=".709" stop-color="#f1f525"/><stop offset=".747" stop-color="#f0f724"/><stop offset=".749" stop-color="#f0f921"/><stop offset="1.000" stop-color="#f0f921"/></linearGradient>
<linearGradient id="g198" gradientUnits="userSpaceOnUse" x1="0" y1="65.25" x2="0" y2="475.197"><stop offset=".000" stop-color="#7e03a8"/><stop offset=".033" stop-color="#8405a7"/><stop offset=".045" stop-color="#9d189d"/><stop offset=".053" stop-color="#a82296"/><stop offset=".068" stop-color="#b7318a"/><stop offset=".115" stop-color="#ca457a"/><stop offset=".175" stop-color="#d35171"/><stop offset=".236" stop-color="#e26561"/><stop offset=".273" stop-color="#ed7953"/><stop offset=".336" stop-color="#fca537"/><stop offset=".368" stop-color="#feb82c"/><stop offset=".409" stop-color="#fccd25"/><stop offset=".489" stop-color="#f6e826"/><stop offset=".556" stop-color="#f3f027"/><stop offset=".709" stop-color="#f1f525"/><stop offset=".747" stop-color="#f0f724"/><stop offset=".749" stop-color="#f0f921"/><stop offset="1.000" stop-color="#f0f921"/></linearGradient>
<linearGradient id="g199" gradientUnits="userSpaceOnUse" x1="0" y1="65.25" x2="0" y2="475.197"><stop offset=".000" stop-color="#5901a5"/><stop offset=".053" stop-color="#6300a7"/><stop offset=".055" stop-color="#6700a8"/><stop offset=".063" stop-color="#8104a7"/><stop offset=".075" stop-color="#a31e9a"/><stop offset=".090" stop-color="#b7318a"/><stop offset=".115" stop-color="#c7427c"/><stop offset=".138" stop-color="#cd4a76"/><stop offset=".175" stop-color="#d35171"/><stop offset=".236" stop-color="#e26561"/><stop offset=".273" stop-color="#ed7953"/><stop offset=".323" stop-color="#fa9c3c"/><stop offset=".368" stop-color="#feb82c"/><stop offset=".429" stop-color="#fbd524"/><stop offset=".489" stop-color="#f6e826"/><stop offset=".536" stop-color="#f3ee27"/><stop offset=".709" stop-color="#f1f525"/><stop offset=".747" stop-color="#f0f724"/><stop offset=".749" stop-color="#f0f921"/><stop offset="1.000" stop-color="#f0f921"/></linearGradient>
<linearGradient id="g200" gradientUnits="userSpaceOnUse" x1="0" y1="65.25" x2="0" y2="475.197"><stop offset=".000" stop-color="#5801a4"/><stop offset=".045" stop-color="#6100a7"/><stop offset=".053" stop-color="#6a00a8"/><stop offset=".055" stop-color="#6f00a8"/><stop offset=".058" stop-color="#7801a8"/><stop offset=".065" stop-color="#9410a2"/><stop offset=".075" stop-color="#a82296"/><stop offset=".090" stop-color="#ba3388"/><stop offset=".103" stop-color="#c13b82"/><stop offset=".138" stop-color="#cc4977"/><stop offset=".173" stop-color="#d04d73"/><stop offset=".238" stop-color="#df6263"/><stop offset=".273" stop-color="#ea7457"/><stop offset=".333" stop-color="#fb9f3a"/><stop offset=".376" stop-color="#feba2c"/><stop offset=".431" stop-color="#fbd524"/><stop offset=".489" stop-color="#f6e826"/><stop offset=".536" stop-color="#f3ee27"/><stop offset=".709" stop-color="#f1f525"/><stop offset=".747" stop-color="#f0f724"/><stop offset=".749" stop-color="#f0f921"/><stop offset="1.000" stop-color="#f0f921"/></linearGradient>
<linearGradient id="g201" gradientUnits="userSpaceOnUse" x1="0" y1="65.25" x2="0" y2="475.197"><stop offset=".000" stop-color="#5801a4"/><stop offset=".053" stop-color="#6100a7"/><stop offset=".055" stop-color="#6400a7"/><stop offset=".063" stop-color="#8104a7"/><stop offset=".075" stop-color="#a31e9a"/><stop offset=".093" stop-color="#ba3388"/><stop offset=".113" stop-color="#c5407e"/><stop offset=".135" stop-color="#cc4778"/><stop offset=".175" stop-color="#d04d73"/><stop offset=".243" stop-color="#e06363"/><stop offset=".283" stop-color="#ed7a52"/><stop offset=".336" stop-color="#fba139"/><stop offset=".393" stop-color="#fdc328"/><stop offset=".431" stop-color="#fbd524"/><stop offset=".489" stop-color="#f6e826"/><stop offset=".536" stop-color="#f3ee27"/><stop offset=".709" stop-color="#f1f525"/><stop offset=".747" stop-color="#f0f724"/><stop offset=".749" stop-color="#f0f921"/><stop offset="1.000" stop-color="#f0f921"/></linearGradient>
<linearGradient id="g202" gradientUnits="userSpaceOnUse" x1="0" y1="65.25" x2="0" y2="475.197"><stop offset=".000" stop-color="#5901a5"/><stop offset=".065" stop-color="#6700a8"/><stop offset=".075" stop-color="#8405a7"/><stop offset=".093" stop-color="#ad2793"/><stop offset=".115" stop-color="#c23c81"/><stop offset=".135" stop-color="#cb4679"/><stop offset=".175" stop-color="#d14e72"/><stop offset=".241" stop-color="#e16462"/><stop offset=".288" stop-color="#f07f4f"/><stop offset=".336" stop-color="#fba238"/><stop offset=".386" stop-color="#fec029"/><stop offset=".426" stop-color="#fbd324"/><stop offset=".489" stop-color="#f6e826"/><stop offset=".536" stop-color="#f3ee27"/><stop offset=".709" stop-color="#f1f525"/><stop offset=".747" stop-color="#f0f724"/><stop offset=".749" stop-color="#f0f921"/><stop offset="1.000" stop-color="#f0f921"/></linearGradient>
<linearGradient id="g203" gradientUnits="userSpaceOnUse" x1="0" y1="65.25" x2="0" y2="475.197"><stop offset=".000" stop-color="#5c01a6"/><stop offset=".043" stop-color="#6400a7"/><stop offset=".053" stop-color="#8004a8"/><stop offset=".065" stop-color="#a01a9c"/><stop offset=".078" stop-color="#b22b8f"/><stop offset=".098" stop-color="#c13b82"/><stop offset=".135" stop-color="#cf4c74"/><stop offset=".175" stop-color="#d6556d"/><stop offset=".228" stop-color="#e56a5d"/><stop offset=".276" stop-color="#f1834c"/><stop offset=".321" stop-color="#fba238"/><stop offset=".361" stop-color="#feba2c"/><stop offset=".429" stop-color="#fbd724"/><stop offset=".496" stop-color="#f5e926"/><stop offset=".536" stop-color="#f3ee27"/><stop offset=".709" stop-color="#f1f525"/><stop offset=".747" stop-color="#f0f724"/><stop offset=".749" stop-color="#f0f921"/><stop offset="1.000" stop-color="#f0f921"/></linearGradient>
<linearGradient id="g204" gradientUnits="userSpaceOnUse" x1="0" y1="65.25" x2="0" y2="475.197"><stop offset=".000" stop-color="#5801a4"/><stop offset=".033" stop-color="#5c01a6"/><stop offset=".043" stop-color="#6700a8"/><stop offset=".050" stop-color="#8004a8"/><stop offset=".055" stop-color="#8f0da4"/><stop offset=".065" stop-color="#a51f99"/><stop offset=".075" stop-color="#b22b8f"/><stop offset=".090" stop-color="#bd3786"/><stop offset=".135" stop-color="#cc4977"/><stop offset=".178" stop-color="#d24f71"/><stop offset=".243" stop-color="#e26561"/><stop offset=".293" stop-color="#f1834c"/><stop offset=".333" stop-color="#fba139"/><stop offset=".388" stop-color="#fdc229"/><stop offset=".426" stop-color="#fbd324"/><stop offset=".489" stop-color="#f6e826"/><stop offset=".536" stop-color="#f3ee27"/><stop offset=".709" stop-color="#f1f525"/><stop offset=".747" stop-color="#f0f724"/><stop offset=".749" stop-color="#f0f921"/><stop offset="1.000" stop-color="#f0f921"/></linearGradient>
<linearGradient id="g205" gradientUnits="userSpaceOnUse" x1="0" y1="65.25" x2="0" y2="475.197"><stop offset=".000" stop-color="#7b02a8"/><stop offset=".033" stop-color="#8104a7"/><stop offset=".050" stop-color="#a11b9b"/><stop offset=".065" stop-color="#b42e8d"/><stop offset=".078" stop-color="#bd3786"/><stop offset=".113" stop-color="#ca457a"/><stop offset=".178" stop-color="#d5546e"/><stop offset=".231" stop-color="#e3685f"/><stop offset=".276" stop-color="#f07f4f"/><stop offset=".326" stop-color="#fba238"/><stop offset=".356" stop-color="#fdb52e"/><stop offset=".398" stop-color="#fdca26"/><stop offset=".426" stop-color="#fbd524"/><stop offset=".489" stop-color="#f6e826"/><stop offset=".556" stop-color="#f3f027"/><stop offset=".709" stop-color="#f1f525"/><stop offset=".747" stop-color="#f0f724"/><stop offset=".749" stop-color="#f0f921"/><stop offset="1.000" stop-color="#f0f921"/></linearGradient>
<linearGradient id="g206" gradientUnits="userSpaceOnUse" x1="0" y1="65.25" x2="0" y2="475.197"><stop offset=".000" stop-color="#8305a7"/><stop offset=".023" stop-color="#8f0da4"/><stop offset=".035" stop-color="#a72197"/><stop offset=".048" stop-color="#b42e8d"/><stop offset=".063" stop-color="#bd3786"/><stop offset=".088" stop-color="#c5407e"/><stop offset=".180" stop-color="#d35171"/><stop offset=".236" stop-color="#e06363"/><stop offset=".276" stop-color="#ec7754"/><stop offset=".316" stop-color="#f89441"/><stop offset=".371" stop-color="#feb82c"/><stop offset=".414" stop-color="#fcce25"/><stop offset=".489" stop-color="#f6e826"/><stop offset=".556" stop-color="#f3f027"/><stop offset=".709" stop-color="#f1f525"/><stop offset=".747" stop-color="#f0f724"/><stop offset=".749" stop-color="#f0f921"/><stop offset="1.000" stop-color="#f0f921"/></linearGradient>
<linearGradient id="g207" gradientUnits="userSpaceOnUse" x1="0" y1="65.25" x2="0" y2="475.197"><stop offset=".000" stop-color="#8808a6"/><stop offset=".053" stop-color="#910ea3"/><stop offset=".078" stop-color="#b12a90"/><stop offset=".090" stop-color="#bb3488"/><stop offset=".118" stop-color="#c7427c"/><stop offset=".175" stop-color="#d14e72"/><stop offset=".241" stop-color="#e16462"/><stop offset=".271" stop-color="#ea7457"/><stop offset=".318" stop-color="#f89540"/><stop offset=".363" stop-color="#fdb42f"/><stop offset=".406" stop-color="#fdcb26"/><stop offset=".489" stop-color="#f6e826"/><stop offset=".556" stop-color="#f3f027"/><stop offset=".709" stop-color="#f1f525"/><stop offset=".747" stop-color="#f0f724"/><stop offset=".749" stop-color="#f0f921"/><stop offset="1.000" stop-color="#f0f921"/></linearGradient>
<linearGradient id="g208" gradientUnits="userSpaceOnUse" x1="0" y1="65.25" x2="0" y2="475.197"><stop offset=".000" stop-color="#9814a0"/><stop offset=".043" stop-color="#9e199d"/><stop offset=".065" stop-color="#b52f8c"/><stop offset=".100" stop-color="#c6417d"/><stop offset=".178" stop-color="#d5546e"/><stop offset=".233" stop-color="#e4695e"/><stop offset=".273" stop-color="#ef7e50"/><stop offset=".313" stop-color="#f99a3e"/><stop offset=".356" stop-color="#fdb52e"/><stop offset=".401" stop-color="#fdcb26"/><stop offset=".489" stop-color="#f6e826"/><stop offset=".556" stop-color="#f3f027"/><stop offset=".709" stop-color="#f1f525"/><stop offset=".747" stop-color="#f0f724"/><stop offset=".749" stop-color="#f0f921"/><stop offset="1.000" stop-color="#f0f921"/></linearGradient>
<linearGradient id="g209" gradientUnits="userSpaceOnUse" x1="0" y1="65.25" x2="0" y2="475.197"><stop offset=".000" stop-color="#9814a0"/><stop offset=".043" stop-color="#9d189d"/><stop offset=".068" stop-color="#b6308b"/><stop offset=".093" stop-color="#c23c81"/><stop offset=".135" stop-color="#cc4778"/><stop offset=".180" stop-color="#d04d73"/><stop offset=".241" stop-color="#de5f65"/><stop offset=".278" stop-color="#ea7457"/><stop offset=".326" stop-color="#f9973f"/><stop offset=".361" stop-color="#fdaf31"/><stop offset=".406" stop-color="#fdca26"/><stop offset=".489" stop-color="#f6e826"/><stop offset=".559" stop-color="#f3f027"/><stop offset=".709" stop-color="#f1f525"/><stop offset=".747" stop-color="#f0f724"/><stop offset=".749" stop-color="#f0f921"/><stop offset="1.000" stop-color="#f0f921"/></linearGradient>
<linearGradient id="g210" x1="0" y1="0" x2="0" y2="1"><stop offset="0.0000" stop-color="#0d0887"/><stop offset="0.0417" stop-color="#260591"/><stop offset="0.0833" stop-color="#3a049a"/><stop offset="0.1250" stop-color="#4b03a1"/><stop offset="0.1667" stop-color="#5c01a6"/><stop offset="0.2083" stop-color="#6e00a8"/><stop offset="0.2500" stop-color="#7d03a8"/><stop offset="0.2917" stop-color="#8d0ba5"/><stop offset="0.3333" stop-color="#9c179e"/><stop offset="0.3750" stop-color="#a82296"/><stop offset="0.4167" stop-color="#b52f8c"/><stop offset="0.4583" stop-color="#c13b82"/><stop offset="0.5000" stop-color="#cb4679"/><stop offset="0.5417" stop-color="#d5536f"/><stop offset="0.5833" stop-color="#de5f65"/><stop offset="0.6250" stop-color="#e56b5d"/><stop offset="0.6667" stop-color="#ed7953"/><stop offset="0.7083" stop-color="#f3874a"/><stop offset="0.7500" stop-color="#f89441"/><stop offset="0.7917" stop-color="#fca338"/><stop offset="0.8333" stop-color="#fdb42f"/><stop offset="0.8750" stop-color="#fdc328"/><stop offset="0.9167" stop-color="#fbd524"/><stop offset="0.9583" stop-color="#f6e826"/><stop offset="1.0000" stop-color="#f0f921"/></linearGradient>
<linearGradient id="g211" gradientUnits="userSpaceOnUse" x1="0" y1="552.25" x2="0" y2="808.467"><stop offset=".000" stop-color="#aa2395"/><stop offset=".148" stop-color="#bb3488"/><stop offset=".278" stop-color="#c13b82"/><stop offset=".383" stop-color="#cf4c74"/><stop offset=".444" stop-color="#de5f65"/><stop offset=".526" stop-color="#f3874a"/><stop offset=".584" stop-color="#fba139"/><stop offset=".674" stop-color="#fdc229"/><stop offset=".782" stop-color="#fada24"/><stop offset=".867" stop-color="#f7e225"/><stop offset="1.000" stop-color="#f6e626"/></linearGradient>
<linearGradient id="g212" gradientUnits="userSpaceOnUse" x1="0" y1="552.25" x2="0" y2="808.467"><stop offset=".000" stop-color="#ad2793"/><stop offset=".218" stop-color="#c03a83"/><stop offset=".281" stop-color="#c13b82"/><stop offset=".351" stop-color="#ca457a"/><stop offset=".391" stop-color="#d04d73"/><stop offset=".434" stop-color="#da5b69"/><stop offset=".544" stop-color="#f68f44"/><stop offset=".642" stop-color="#feb72d"/><stop offset=".697" stop-color="#fdc827"/><stop offset=".797" stop-color="#f9dc24"/><stop offset=".867" stop-color="#f7e225"/><stop offset="1.000" stop-color="#f6e626"/></linearGradient>
<linearGradient id="g213" gradientUnits="userSpaceOnUse" x1="0" y1="552.25" x2="0" y2="808.467"><stop offset=".000" stop-color="#ac2694"/><stop offset=".203" stop-color="#c13b82"/><stop offset=".278" stop-color="#c5407e"/><stop offset=".376" stop-color="#d45270"/><stop offset=".436" stop-color="#e16462"/><stop offset=".499" stop-color="#f0804e"/><stop offset=".571" stop-color="#fba139"/><stop offset=".662" stop-color="#fec029"/><stop offset=".779" stop-color="#fada24"/><stop offset=".867" stop-color="#f7e225"/><stop offset="1.000" stop-color="#f6e626"/></linearGradient>
<linearGradient id="g214" gradientUnits="userSpaceOnUse" x1="0" y1="552.25" x2="0" y2="808.467"><stop offset=".000" stop-color="#a31e9a"/><stop offset=".093" stop-color="#b52f8c"/><stop offset=".216" stop-color="#c23c81"/><stop offset=".281" stop-color="#c5407e"/><stop offset=".376" stop-color="#d45270"/><stop offset=".451" stop-color="#e56a5d"/><stop offset=".521" stop-color="#f58b47"/><stop offset=".564" stop-color="#fa9e3b"/><stop offset=".662" stop-color="#fec029"/><stop offset=".779" stop-color="#fada24"/><stop offset=".867" stop-color="#f7e225"/><stop offset="1.000" stop-color="#f6e626"/></linearGradient>
<linearGradient id="g215" gradientUnits="userSpaceOnUse" x1="0" y1="552.25" x2="0" y2="808.467"><stop offset=".000" stop-color="#a82296"/><stop offset=".143" stop-color="#bb3488"/><stop offset=".278" stop-color="#c33d80"/><stop offset=".371" stop-color="#d04d73"/><stop offset=".396" stop-color="#d5536f"/><stop offset=".451" stop-color="#e26660"/><stop offset=".511" stop-color="#f1834c"/><stop offset=".574" stop-color="#fb9f3a"/><stop offset=".659" stop-color="#febe2a"/><stop offset=".782" stop-color="#fada24"/><stop offset=".867" stop-color="#f7e225"/><stop offset="1.000" stop-color="#f6e626"/></linearGradient>
<linearGradient id="g216" gradientUnits="userSpaceOnUse" x1="0" y1="552.25" x2="0" y2="808.467"><stop offset=".000" stop-color="#a51f99"/><stop offset=".100" stop-color="#b6308b"/><stop offset=".213" stop-color="#c23c81"/><stop offset=".278" stop-color="#c5407e"/><stop offset=".368" stop-color="#d35171"/><stop offset=".439" stop-color="#e26561"/><stop offset=".504" stop-color="#f1834c"/><stop offset=".566" stop-color="#fb9f3a"/><stop offset=".662" stop-color="#fec029"/><stop offset=".779" stop-color="#fada24"/><stop offset=".867" stop-color="#f7e225"/><stop offset="1.000" stop-color="#f6e626"/></linearGradient>
<linearGradient id="g217" gradientUnits="userSpaceOnUse" x1="0" y1="552.25" x2="0" y2="808.467"><stop offset=".000" stop-color="#a62098"/><stop offset=".095" stop-color="#b6308b"/><stop offset=".278" stop-color="#c9447a"/><stop offset=".388" stop-color="#db5c68"/><stop offset=".446" stop-color="#e87059"/><stop offset=".491" stop-color="#f2844b"/><stop offset=".564" stop-color="#fca338"/><stop offset=".659" stop-color="#fdc229"/><stop offset=".779" stop-color="#fada24"/><stop offset=".867" stop-color="#f7e225"/><stop offset="1.000" stop-color="#f6e626"/></linearGradient>
<linearGradient id="g218" gradientUnits="userSpaceOnUse" x1="0" y1="552.25" x2="0" y2="808.467"><stop offset=".000" stop-color="#aa2395"/><stop offset=".206" stop-color="#c33d80"/><stop offset=".276" stop-color="#c8437b"/><stop offset=".348" stop-color="#d45270"/><stop offset=".388" stop-color="#da5b69"/><stop offset=".434" stop-color="#e56a5d"/><stop offset=".496" stop-color="#f3854b"/><stop offset=".566" stop-color="#fca338"/><stop offset=".667" stop-color="#fdc328"/><stop offset=".779" stop-color="#fada24"/><stop offset=".867" stop-color="#f7e225"/><stop offset="1.000" stop-color="#f6e626"/></linearGradient>
<linearGradient id="g219" gradientUnits="userSpaceOnUse" x1="0" y1="552.25" x2="0" y2="808.467"><stop offset=".000" stop-color="#ad2793"/><stop offset=".068" stop-color="#b32c8e"/><stop offset=".278" stop-color="#cc4778"/><stop offset=".404" stop-color="#e26660"/><stop offset=".481" stop-color="#f3854b"/><stop offset=".554" stop-color="#fca338"/><stop offset=".652" stop-color="#fdc229"/><stop offset=".777" stop-color="#fada24"/><stop offset=".867" stop-color="#f7e225"/><stop offset="1.000" stop-color="#f6e626"/></linearGradient>
<linearGradient id="g220" gradientUnits="userSpaceOnUse" x1="0" y1="552.25" x2="0" y2="808.467"><stop offset=".000" stop-color="#ad2793"/><stop offset=".281" stop-color="#c9447a"/><stop offset=".351" stop-color="#d5536f"/><stop offset=".429" stop-color="#e4695e"/><stop offset=".504" stop-color="#f48948"/><stop offset=".561" stop-color="#fba238"/><stop offset=".659" stop-color="#fdc229"/><stop offset=".779" stop-color="#fada24"/><stop offset=".867" stop-color="#f7e225"/><stop offset="1.000" stop-color="#f6e626"/></linearGradient>
<linearGradient id="g221" gradientUnits="userSpaceOnUse" x1="0" y1="552.25" x2="0" y2="808.467"><stop offset=".000" stop-color="#ab2494"/><stop offset=".216" stop-color="#c43e7f"/><stop offset=".278" stop-color="#c8437b"/><stop offset=".328" stop-color="#d04d73"/><stop offset=".393" stop-color="#db5c68"/><stop offset=".441" stop-color="#e66c5c"/><stop offset=".509" stop-color="#f58b47"/><stop offset=".564" stop-color="#fba238"/><stop offset=".654" stop-color="#fec029"/><stop offset=".779" stop-color="#fada24"/><stop offset=".867" stop-color="#f7e225"/><stop offset="1.000" stop-color="#f6e626"/></linearGradient>
<linearGradient id="g222" gradientUnits="userSpaceOnUse" x1="0" y1="552.25" x2="0" y2="808.467"><stop offset=".000" stop-color="#a82296"/><stop offset=".100" stop-color="#b7318a"/><stop offset=".276" stop-color="#cb4679"/><stop offset=".341" stop-color="#d6556d"/><stop offset=".436" stop-color="#e97158"/><stop offset=".501" stop-color="#f68d45"/><stop offset=".559" stop-color="#fca537"/><stop offset=".667" stop-color="#fdc527"/><stop offset=".777" stop-color="#fada24"/><stop offset=".867" stop-color="#f7e225"/><stop offset="1.000" stop-color="#f6e626"/></linearGradient>
<linearGradient id="g223" gradientUnits="userSpaceOnUse" x1="0" y1="552.25" x2="0" y2="808.467"><stop offset=".000" stop-color="#a72197"/><stop offset=".095" stop-color="#b6308b"/><stop offset=".278" stop-color="#c7427c"/><stop offset=".366" stop-color="#d5546e"/><stop offset=".434" stop-color="#e3685f"/><stop offset=".504" stop-color="#f3874a"/><stop offset=".566" stop-color="#fba238"/><stop offset=".657" stop-color="#fec029"/><stop offset=".779" stop-color="#fada24"/><stop offset=".867" stop-color="#f7e225"/><stop offset="1.000" stop-color="#f6e626"/></linearGradient>
<linearGradient id="g224" gradientUnits="userSpaceOnUse" x1="0" y1="552.25" x2="0" y2="808.467"><stop offset=".000" stop-color="#a51f99"/><stop offset=".088" stop-color="#b52f8c"/><stop offset=".281" stop-color="#ca457a"/><stop offset=".353" stop-color="#d6556d"/><stop offset=".436" stop-color="#e76e5b"/><stop offset=".494" stop-color="#f3874a"/><stop offset=".561" stop-color="#fca338"/><stop offset=".664" stop-color="#fdc328"/><stop offset=".777" stop-color="#fada24"/><stop offset=".867" stop-color="#f7e225"/><stop offset="1.000" stop-color="#f6e626"/></linearGradient>
<linearGradient id="g225" gradientUnits="userSpaceOnUse" x1="0" y1="552.25" x2="0" y2="808.467"><stop offset=".000" stop-color="#a72197"/><stop offset=".098" stop-color="#b7318a"/><stop offset=".291" stop-color="#d04d73"/><stop offset=".406" stop-color="#e66c5c"/><stop offset=".481" stop-color="#f58b47"/><stop offset=".536" stop-color="#fba139"/><stop offset=".652" stop-color="#fdc328"/><stop offset=".774" stop-color="#fada24"/><stop offset=".867" stop-color="#f7e225"/><stop offset="1.000" stop-color="#f6e626"/></linearGradient>
<linearGradient id="g226" gradientUnits="userSpaceOnUse" x1="0" y1="552.25" x2="0" y2="808.467"><stop offset=".000" stop-color="#a82296"/><stop offset=".281" stop-color="#d04d73"/><stop offset=".393" stop-color="#e66c5c"/><stop offset=".461" stop-color="#f3874a"/><stop offset=".526" stop-color="#fba139"/><stop offset=".569" stop-color="#fdaf31"/><stop offset=".654" stop-color="#fdc527"/><stop offset=".784" stop-color="#f9dc24"/><stop offset=".867" stop-color="#f7e225"/><stop offset="1.000" stop-color="#f6e626"/></linearGradient>
<linearGradient id="g227" gradientUnits="userSpaceOnUse" x1="0" y1="552.25" x2="0" y2="808.467"><stop offset=".000" stop-color="#ab2494"/><stop offset=".218" stop-color="#c33d80"/><stop offset=".278" stop-color="#c6417d"/><stop offset=".381" stop-color="#d6556d"/><stop offset=".436" stop-color="#e26660"/><stop offset=".516" stop-color="#f58b47"/><stop offset=".566" stop-color="#fba139"/><stop offset=".659" stop-color="#fec029"/><stop offset=".779" stop-color="#fada24"/><stop offset=".867" stop-color="#f7e225"/><stop offset="1.000" stop-color="#f6e626"/></linearGradient>
<linearGradient id="g228" gradientUnits="userSpaceOnUse" x1="0" y1="552.25" x2="0" y2="808.467"><stop offset=".000" stop-color="#ad2793"/><stop offset=".218" stop-color="#c23c81"/><stop offset=".278" stop-color="#c43e7f"/><stop offset=".366" stop-color="#d14e72"/><stop offset=".434" stop-color="#df6263"/><stop offset=".524" stop-color="#f58b47"/><stop offset=".574" stop-color="#fba139"/><stop offset=".657" stop-color="#febe2a"/><stop offset=".779" stop-color="#fada24"/><stop offset=".867" stop-color="#f7e225"/><stop offset="1.000" stop-color="#f6e626"/></linearGradient>
<linearGradient id="g229" gradientUnits="userSpaceOnUse" x1="0" y1="552.25" x2="0" y2="808.467"><stop offset=".000" stop-color="#a62098"/><stop offset=".105" stop-color="#b7318a"/><stop offset=".276" stop-color="#c7427c"/><stop offset=".366" stop-color="#d5546e"/><stop offset=".436" stop-color="#e4695e"/><stop offset=".506" stop-color="#f48849"/><stop offset=".559" stop-color="#fb9f3a"/><stop offset=".657" stop-color="#fec029"/><stop offset=".779" stop-color="#fada24"/><stop offset=".867" stop-color="#f7e225"/><stop offset="1.000" stop-color="#f6e626"/></linearGradient>
<linearGradient id="g230" gradientUnits="userSpaceOnUse" x1="0" y1="552.25" x2="0" y2="808.467"><stop offset=".000" stop-color="#a21d9a"/><stop offset=".038" stop-color="#ac2694"/><stop offset=".100" stop-color="#b6308b"/><stop offset=".281" stop-color="#c6417d"/><stop offset=".391" stop-color="#d7566c"/><stop offset=".456" stop-color="#e76e5b"/><stop offset=".521" stop-color="#f58c46"/><stop offset=".561" stop-color="#fa9e3b"/><stop offset=".654" stop-color="#febe2a"/><stop offset=".779" stop-color="#fada24"/><stop offset=".867" stop-color="#f7e225"/><stop offset="1.000" stop-color="#f6e626"/></linearGradient>
<linearGradient id="g231" gradientUnits="userSpaceOnUse" x1="0" y1="552.25" x2="0" y2="808.467"><stop offset=".000" stop-color="#9e199d"/><stop offset=".013" stop-color="#a01a9c"/><stop offset=".040" stop-color="#ab2494"/><stop offset=".085" stop-color="#b42e8d"/><stop offset=".281" stop-color="#c8437b"/><stop offset=".388" stop-color="#da5a6a"/><stop offset=".446" stop-color="#e76e5b"/><stop offset=".516" stop-color="#f68d45"/><stop offset=".561" stop-color="#fba139"/><stop offset=".662" stop-color="#fdc229"/><stop offset=".779" stop-color="#fada24"/><stop offset=".867" stop-color="#f7e225"/><stop offset="1.000" stop-color="#f6e626"/></linearGradient>
<linearGradient id="g232" gradientUnits="userSpaceOnUse" x1="0" y1="552.25" x2="0" y2="808.467"><stop offset=".000" stop-color="#7b02a8"/><stop offset=".013" stop-color="#7d03a8"/><stop offset=".023" stop-color="#8405a7"/><stop offset=".038" stop-color="#9814a0"/><stop offset=".048" stop-color="#a11b9b"/><stop offset=".080" stop-color="#b12a90"/><stop offset=".158" stop-color="#be3885"/><stop offset=".281" stop-color="#ca457a"/><stop offset=".391" stop-color="#dd5e66"/><stop offset=".451" stop-color="#ea7457"/><stop offset=".524" stop-color="#f89441"/><stop offset=".574" stop-color="#fca835"/><stop offset=".657" stop-color="#fdc229"/><stop offset=".777" stop-color="#fada24"/><stop offset=".867" stop-color="#f7e225"/><stop offset="1.000" stop-color="#f6e626"/></linearGradient>
<linearGradient id="g233" gradientUnits="userSpaceOnUse" x1="0" y1="552.25" x2="0" y2="808.467"><stop offset=".000" stop-color="#7d03a8"/><stop offset=".013" stop-color="#7e03a8"/><stop offset=".023" stop-color="#8a09a5"/><stop offset=".040" stop-color="#9e199d"/><stop offset=".078" stop-color="#b12a90"/><stop offset=".160" stop-color="#be3885"/><stop offset=".281" stop-color="#c9447a"/><stop offset=".391" stop-color="#db5c68"/><stop offset=".436" stop-color="#e56b5d"/><stop offset=".529" stop-color="#f89441"/><stop offset=".579" stop-color="#fca835"/><stop offset=".654" stop-color="#fec029"/><stop offset=".769" stop-color="#fad824"/><stop offset=".867" stop-color="#f7e225"/><stop offset="1.000" stop-color="#f6e626"/></linearGradient>
<linearGradient id="g234" gradientUnits="userSpaceOnUse" x1="0" y1="552.25" x2="0" y2="808.467"><stop offset=".000" stop-color="#7b02a8"/><stop offset=".015" stop-color="#7e03a8"/><stop offset=".038" stop-color="#9a169f"/><stop offset=".053" stop-color="#a62098"/><stop offset=".080" stop-color="#b12a90"/><stop offset=".163" stop-color="#bd3786"/><stop offset=".281" stop-color="#c5407e"/><stop offset=".393" stop-color="#d6556d"/><stop offset=".461" stop-color="#e76e5b"/><stop offset=".546" stop-color="#f89540"/><stop offset=".657" stop-color="#febe2a"/><stop offset=".779" stop-color="#fada24"/><stop offset=".867" stop-color="#f7e225"/><stop offset="1.000" stop-color="#f6e626"/></linearGradient>
<linearGradient id="g235" gradientUnits="userSpaceOnUse" x1="0" y1="552.25" x2="0" y2="808.467"><stop offset=".000" stop-color="#7e03a8"/><stop offset=".013" stop-color="#8305a7"/><stop offset=".025" stop-color="#9511a1"/><stop offset=".038" stop-color="#a11b9b"/><stop offset=".063" stop-color="#ad2793"/><stop offset=".083" stop-color="#b32c8e"/><stop offset=".188" stop-color="#c23c81"/><stop offset=".281" stop-color="#cb4679"/><stop offset=".356" stop-color="#d8576b"/><stop offset=".431" stop-color="#e76e5b"/><stop offset=".524" stop-color="#f89540"/><stop offset=".566" stop-color="#fca636"/><stop offset=".649" stop-color="#fec029"/><stop offset=".777" stop-color="#fada24"/><stop offset=".867" stop-color="#f7e225"/><stop offset="1.000" stop-color="#f6e626"/></linearGradient>
<linearGradient id="g236" gradientUnits="userSpaceOnUse" x1="0" y1="552.25" x2="0" y2="808.467"><stop offset=".000" stop-color="#7a02a8"/><stop offset=".013" stop-color="#7b02a8"/><stop offset=".028" stop-color="#910ea3"/><stop offset=".045" stop-color="#a21d9a"/><stop offset=".080" stop-color="#b22b8f"/><stop offset=".288" stop-color="#d14e72"/><stop offset=".393" stop-color="#e56b5d"/><stop offset=".494" stop-color="#f79342"/><stop offset=".561" stop-color="#fdac33"/><stop offset=".632" stop-color="#febe2a"/><stop offset=".784" stop-color="#f9dc24"/><stop offset=".867" stop-color="#f7e225"/><stop offset="1.000" stop-color="#f6e626"/></linearGradient>
<linearGradient id="g237" gradientUnits="userSpaceOnUse" x1="0" y1="552.25" x2="0" y2="808.467"><stop offset=".000" stop-color="#6c00a8"/><stop offset=".025" stop-color="#6f00a8"/><stop offset=".040" stop-color="#7d03a8"/><stop offset=".053" stop-color="#9410a2"/><stop offset=".070" stop-color="#a62098"/><stop offset=".088" stop-color="#b02991"/><stop offset=".113" stop-color="#b7318a"/><stop offset=".281" stop-color="#d24f71"/><stop offset=".388" stop-color="#e76f5a"/><stop offset=".474" stop-color="#f79044"/><stop offset=".569" stop-color="#fdb22f"/><stop offset=".664" stop-color="#fdc827"/><stop offset=".782" stop-color="#f9dc24"/><stop offset=".865" stop-color="#f7e225"/><stop offset="1.000" stop-color="#f6e626"/></linearGradient>
<linearGradient id="g238" gradientUnits="userSpaceOnUse" x1="0" y1="552.25" x2="0" y2="808.467"><stop offset=".000" stop-color="#7201a8"/><stop offset=".025" stop-color="#7501a8"/><stop offset=".033" stop-color="#8104a7"/><stop offset=".040" stop-color="#8f0da4"/><stop offset=".053" stop-color="#9e199d"/><stop offset=".070" stop-color="#aa2395"/><stop offset=".098" stop-color="#b42e8d"/><stop offset=".188" stop-color="#c33d80"/><stop offset=".278" stop-color="#cc4977"/><stop offset=".338" stop-color="#d8576b"/><stop offset=".406" stop-color="#e56a5d"/><stop offset=".506" stop-color="#f79342"/><stop offset=".564" stop-color="#fca934"/><stop offset=".644" stop-color="#fec029"/><stop offset=".757" stop-color="#fbd724"/><stop offset=".867" stop-color="#f7e225"/><stop offset="1.000" stop-color="#f6e626"/></linearGradient>
<linearGradient id="g239" gradientUnits="userSpaceOnUse" x1="0" y1="552.25" x2="0" y2="808.467"><stop offset=".000" stop-color="#6a00a8"/><stop offset=".023" stop-color="#6c00a8"/><stop offset=".040" stop-color="#7401a8"/><stop offset=".048" stop-color="#8405a7"/><stop offset=".055" stop-color="#920fa3"/><stop offset=".070" stop-color="#a31e9a"/><stop offset=".088" stop-color="#ae2892"/><stop offset=".115" stop-color="#b7318a"/><stop offset=".281" stop-color="#d04d73"/><stop offset=".393" stop-color="#e66c5c"/><stop offset=".474" stop-color="#f58c46"/><stop offset=".569" stop-color="#fdaf31"/><stop offset=".654" stop-color="#fdc527"/><stop offset=".714" stop-color="#fcd025"/><stop offset=".784" stop-color="#f9dc24"/><stop offset=".845" stop-color="#f8e125"/><stop offset="1.000" stop-color="#f6e626"/></linearGradient>
<linearGradient id="g240" gradientUnits="userSpaceOnUse" x1="0" y1="552.25" x2="0" y2="808.467"><stop offset=".000" stop-color="#6a00a8"/><stop offset=".028" stop-color="#6e00a8"/><stop offset=".038" stop-color="#7201a8"/><stop offset=".045" stop-color="#8004a8"/><stop offset=".053" stop-color="#8f0da4"/><stop offset=".070" stop-color="#a31e9a"/><stop offset=".113" stop-color="#b6308b"/><stop offset=".296" stop-color="#d04d73"/><stop offset=".391" stop-color="#e26561"/><stop offset=".499" stop-color="#f79044"/><stop offset=".564" stop-color="#fca934"/><stop offset=".622" stop-color="#feba2c"/><stop offset=".654" stop-color="#fdc328"/><stop offset=".757" stop-color="#fbd724"/><stop offset=".867" stop-color="#f7e225"/><stop offset="1.000" stop-color="#f6e626"/></linearGradient>
<linearGradient id="g241" gradientUnits="userSpaceOnUse" x1="0" y1="552.25" x2="0" y2="808.467"><stop offset=".000" stop-color="#7100a8"/><stop offset=".025" stop-color="#7201a8"/><stop offset=".035" stop-color="#8104a7"/><stop offset=".055" stop-color="#9d189d"/><stop offset=".068" stop-color="#a72197"/><stop offset=".088" stop-color="#b12a90"/><stop offset=".140" stop-color="#bc3587"/><stop offset=".276" stop-color="#cc4778"/><stop offset=".348" stop-color="#d9586a"/><stop offset=".431" stop-color="#e97158"/><stop offset=".516" stop-color="#f89540"/><stop offset=".564" stop-color="#fca835"/><stop offset=".652" stop-color="#fdc229"/><stop offset=".787" stop-color="#f9dc24"/><stop offset=".867" stop-color="#f7e225"/><stop offset="1.000" stop-color="#f6e626"/></linearGradient>
<linearGradient id="g242" gradientUnits="userSpaceOnUse" x1="0" y1="552.25" x2="0" y2="808.467"><stop offset=".000" stop-color="#6e00a8"/><stop offset=".028" stop-color="#7201a8"/><stop offset=".040" stop-color="#8004a8"/><stop offset=".053" stop-color="#9511a1"/><stop offset=".063" stop-color="#a01a9c"/><stop offset=".083" stop-color="#ad2793"/><stop offset=".103" stop-color="#b42e8d"/><stop offset=".208" stop-color="#c6417d"/><stop offset=".281" stop-color="#cd4a76"/><stop offset=".396" stop-color="#e3685f"/><stop offset=".491" stop-color="#f68d45"/><stop offset=".566" stop-color="#fdab33"/><stop offset=".632" stop-color="#febd2a"/><stop offset=".747" stop-color="#fbd524"/><stop offset=".867" stop-color="#f7e225"/><stop offset="1.000" stop-color="#f6e626"/></linearGradient>
<linearGradient id="g243" gradientUnits="userSpaceOnUse" x1="0" y1="552.25" x2="0" y2="808.467"><stop offset=".000" stop-color="#6f00a8"/><stop offset=".025" stop-color="#7201a8"/><stop offset=".038" stop-color="#8405a7"/><stop offset=".058" stop-color="#9e199d"/><stop offset=".075" stop-color="#aa2395"/><stop offset=".103" stop-color="#b42e8d"/><stop offset=".203" stop-color="#c33d80"/><stop offset=".278" stop-color="#c9447a"/><stop offset=".391" stop-color="#dc5d67"/><stop offset=".454" stop-color="#ea7457"/><stop offset=".526" stop-color="#f89441"/><stop offset=".576" stop-color="#fca835"/><stop offset=".652" stop-color="#fec029"/><stop offset=".769" stop-color="#fad824"/><stop offset=".867" stop-color="#f7e225"/><stop offset="1.000" stop-color="#f6e626"/></linearGradient>
<linearGradient id="g244" gradientUnits="userSpaceOnUse" x1="0" y1="552.25" x2="0" y2="808.467"><stop offset=".000" stop-color="#6700a8"/><stop offset=".040" stop-color="#6e00a8"/><stop offset=".053" stop-color="#8104a7"/><stop offset=".073" stop-color="#a01a9c"/><stop offset=".085" stop-color="#aa2395"/><stop offset=".115" stop-color="#b6308b"/><stop offset=".185" stop-color="#c43e7f"/><stop offset=".278" stop-color="#d04d73"/><stop offset=".393" stop-color="#e76e5b"/><stop offset=".471" stop-color="#f58c46"/><stop offset=".571" stop-color="#fdb130"/><stop offset=".694" stop-color="#fccd25"/><stop offset=".784" stop-color="#f9dc24"/><stop offset=".865" stop-color="#f7e225"/><stop offset="1.000" stop-color="#f6e626"/></linearGradient>
<linearGradient id="g245" gradientUnits="userSpaceOnUse" x1="0" y1="552.25" x2="0" y2="808.467"><stop offset=".000" stop-color="#6600a7"/><stop offset=".040" stop-color="#6c00a8"/><stop offset=".055" stop-color="#8104a7"/><stop offset=".070" stop-color="#9a169f"/><stop offset=".085" stop-color="#a72197"/><stop offset=".113" stop-color="#b42e8d"/><stop offset=".216" stop-color="#c43e7f"/><stop offset=".276" stop-color="#c8437b"/><stop offset=".353" stop-color="#d5536f"/><stop offset=".434" stop-color="#e56a5d"/><stop offset=".514" stop-color="#f68d45"/><stop offset=".566" stop-color="#fca338"/><stop offset=".644" stop-color="#febd2a"/><stop offset=".769" stop-color="#fad824"/><stop offset=".867" stop-color="#f7e225"/><stop offset="1.000" stop-color="#f6e626"/></linearGradient>
<linearGradient id="g246" gradientUnits="userSpaceOnUse" x1="0" y1="552.25" x2="0" y2="808.467"><stop offset=".000" stop-color="#6f00a8"/><stop offset=".025" stop-color="#7100a8"/><stop offset=".040" stop-color="#8405a7"/><stop offset=".053" stop-color="#9814a0"/><stop offset=".068" stop-color="#a51f99"/><stop offset=".085" stop-color="#ae2892"/><stop offset=".105" stop-color="#b42e8d"/><stop offset=".208" stop-color="#c33d80"/><stop offset=".278" stop-color="#c8437b"/><stop offset=".391" stop-color="#da5b69"/><stop offset=".454" stop-color="#e97158"/><stop offset=".521" stop-color="#f79044"/><stop offset=".564" stop-color="#fba238"/><stop offset=".649" stop-color="#febe2a"/><stop offset=".769" stop-color="#fad824"/><stop offset=".867" stop-color="#f7e225"/><stop offset="1.000" stop-color="#f6e626"/></linearGradient>
<linearGradient id="g247" gradientUnits="userSpaceOnUse" x1="0" y1="552.25" x2="0" y2="808.467"><stop offset=".000" stop-color="#6f00a8"/><stop offset=".025" stop-color="#7201a8"/><stop offset=".035" stop-color="#8104a7"/><stop offset=".053" stop-color="#9a169f"/><stop offset=".068" stop-color="#a62098"/><stop offset=".085" stop-color="#ae2892"/><stop offset=".110" stop-color="#b52f8c"/><stop offset=".213" stop-color="#c13b82"/><stop offset=".283" stop-color="#c43e7f"/><stop offset=".388" stop-color="#d45270"/><stop offset=".446" stop-color="#e26561"/><stop offset=".544" stop-color="#f79342"/><stop offset=".654" stop-color="#febd2a"/><stop offset=".772" stop-color="#fad824"/><stop offset=".867" stop-color="#f7e225"/><stop offset="1.000" stop-color="#f6e626"/></linearGradient>
<linearGradient id="g248" gradientUnits="userSpaceOnUse" x1="0" y1="552.25" x2="0" y2="808.467"><stop offset=".000" stop-color="#6c00a8"/><stop offset=".025" stop-color="#6f00a8"/><stop offset=".040" stop-color="#7d03a8"/><stop offset=".053" stop-color="#920fa3"/><stop offset=".068" stop-color="#a21d9a"/><stop offset=".108" stop-color="#b42e8d"/><stop offset=".198" stop-color="#c23c81"/><stop offset=".276" stop-color="#c8437b"/><stop offset=".391" stop-color="#db5c68"/><stop offset=".449" stop-color="#e87059"/><stop offset=".526" stop-color="#f79342"/><stop offset=".566" stop-color="#fca338"/><stop offset=".654" stop-color="#fec029"/><stop offset=".769" stop-color="#fad824"/><stop offset=".867" stop-color="#f7e225"/><stop offset="1.000" stop-color="#f6e626"/></linearGradient>
<linearGradient id="g249" gradientUnits="userSpaceOnUse" x1="0" y1="552.25" x2="0" y2="808.467"><stop offset=".000" stop-color="#6e00a8"/><stop offset=".028" stop-color="#7100a8"/><stop offset=".040" stop-color="#8004a8"/><stop offset=".050" stop-color="#910ea3"/><stop offset=".065" stop-color="#a11b9b"/><stop offset=".088" stop-color="#ae2892"/><stop offset=".110" stop-color="#b52f8c"/><stop offset=".208" stop-color="#c43e7f"/><stop offset=".278" stop-color="#ca457a"/><stop offset=".371" stop-color="#da5a6a"/><stop offset=".441" stop-color="#e87059"/><stop offset=".514" stop-color="#f79044"/><stop offset=".569" stop-color="#fca636"/><stop offset=".652" stop-color="#fec029"/><stop offset=".777" stop-color="#fada24"/><stop offset=".867" stop-color="#f7e225"/><stop offset="1.000" stop-color="#f6e626"/></linearGradient>
<linearGradient id="g250" gradientUnits="userSpaceOnUse" x1="0" y1="552.25" x2="0" y2="808.467"><stop offset=".000" stop-color="#6c00a8"/><stop offset=".028" stop-color="#6f00a8"/><stop offset=".038" stop-color="#7a02a8"/><stop offset=".043" stop-color="#8305a7"/><stop offset=".050" stop-color="#8f0da4"/><stop offset=".070" stop-color="#a51f99"/><stop offset=".110" stop-color="#b52f8c"/><stop offset=".198" stop-color="#c43e7f"/><stop offset=".281" stop-color="#cc4977"/><stop offset=".346" stop-color="#d9586a"/><stop offset=".436" stop-color="#ea7457"/><stop offset=".499" stop-color="#f68f44"/><stop offset=".566" stop-color="#fca934"/><stop offset=".634" stop-color="#febd2a"/><stop offset=".757" stop-color="#fbd724"/><stop offset=".867" stop-color="#f7e225"/><stop offset="1.000" stop-color="#f6e626"/></linearGradient>
<linearGradient id="g251" gradientUnits="userSpaceOnUse" x1="0" y1="552.25" x2="0" y2="808.467"><stop offset=".000" stop-color="#46039f"/><stop offset=".013" stop-color="#48039f"/><stop offset=".025" stop-color="#5e01a6"/><stop offset=".040" stop-color="#7701a8"/><stop offset=".060" stop-color="#8f0da4"/><stop offset=".080" stop-color="#a01a9c"/><stop offset=".115" stop-color="#b12a90"/><stop offset=".211" stop-color="#c7427c"/><stop offset=".283" stop-color="#d14e72"/><stop offset=".393" stop-color="#e76e5b"/><stop offset=".441" stop-color="#f0804e"/><stop offset=".556" stop-color="#fdac33"/><stop offset=".694" stop-color="#fccd25"/><stop offset=".784" stop-color="#f9dc24"/><stop offset=".865" stop-color="#f7e225"/><stop offset="1.000" stop-color="#f6e626"/></linearGradient>
<linearGradient id="g252" gradientUnits="userSpaceOnUse" x1="0" y1="552.25" x2="0" y2="808.467"><stop offset=".000" stop-color="#5502a4"/><stop offset=".023" stop-color="#7501a8"/><stop offset=".040" stop-color="#8b0aa5"/><stop offset=".065" stop-color="#9e199d"/><stop offset=".108" stop-color="#b12a90"/><stop offset=".193" stop-color="#c23c81"/><stop offset=".276" stop-color="#cc4778"/><stop offset=".356" stop-color="#da5b69"/><stop offset=".406" stop-color="#e4695e"/><stop offset=".484" stop-color="#f48849"/><stop offset=".566" stop-color="#fca934"/><stop offset=".657" stop-color="#fdc328"/><stop offset=".712" stop-color="#fcce25"/><stop offset=".787" stop-color="#f9dc24"/><stop offset=".867" stop-color="#f7e225"/><stop offset="1.000" stop-color="#f6e626"/></linearGradient>
<linearGradient id="g253" gradientUnits="userSpaceOnUse" x1="0" y1="552.25" x2="0" y2="808.467"><stop offset=".000" stop-color="#3f049c"/><stop offset=".013" stop-color="#4b03a1"/><stop offset=".030" stop-color="#6e00a8"/><stop offset=".038" stop-color="#7801a8"/><stop offset=".053" stop-color="#8b0aa5"/><stop offset=".070" stop-color="#9a169f"/><stop offset=".108" stop-color="#ad2793"/><stop offset=".155" stop-color="#ba3388"/><stop offset=".218" stop-color="#c43e7f"/><stop offset=".276" stop-color="#c9447a"/><stop offset=".391" stop-color="#dd5e66"/><stop offset=".449" stop-color="#e97257"/><stop offset=".521" stop-color="#f79342"/><stop offset=".566" stop-color="#fca537"/><stop offset=".652" stop-color="#fec029"/><stop offset=".789" stop-color="#f9dc24"/><stop offset=".867" stop-color="#f7e225"/><stop offset="1.000" stop-color="#f6e626"/></linearGradient>
<linearGradient id="g254" gradientUnits="userSpaceOnUse" x1="0" y1="552.25" x2="0" y2="808.467"><stop offset=".000" stop-color="#330597"/><stop offset=".013" stop-color="#3a049a"/><stop offset=".023" stop-color="#5302a3"/><stop offset=".035" stop-color="#6a00a8"/><stop offset=".048" stop-color="#7d03a8"/><stop offset=".068" stop-color="#9410a2"/><stop offset=".080" stop-color="#9d189d"/><stop offset=".115" stop-color="#ae2892"/><stop offset=".158" stop-color="#ba3388"/><stop offset=".216" stop-color="#c43e7f"/><stop offset=".278" stop-color="#ca457a"/><stop offset=".393" stop-color="#de6164"/><stop offset=".456" stop-color="#ec7754"/><stop offset=".524" stop-color="#f89540"/><stop offset=".566" stop-color="#fca636"/><stop offset=".649" stop-color="#fec029"/><stop offset=".789" stop-color="#f9dc24"/><stop offset=".867" stop-color="#f7e225"/><stop offset="1.000" stop-color="#f6e626"/></linearGradient>
<linearGradient id="g255" gradientUnits="userSpaceOnUse" x1="0" y1="552.25" x2="0" y2="808.467"><stop offset=".000" stop-color="#2e0595"/><stop offset=".013" stop-color="#2e0595"/><stop offset=".025" stop-color="#4e02a2"/><stop offset=".040" stop-color="#6c00a8"/><stop offset=".055" stop-color="#8104a7"/><stop offset=".068" stop-color="#8f0da4"/><stop offset=".083" stop-color="#9c179e"/><stop offset=".118" stop-color="#ad2793"/><stop offset=".160" stop-color="#b83289"/><stop offset=".216" stop-color="#c23c81"/><stop offset=".286" stop-color="#c8437b"/><stop offset=".391" stop-color="#da5a6a"/><stop offset=".449" stop-color="#e76e5b"/><stop offset=".534" stop-color="#f89441"/><stop offset=".566" stop-color="#fba238"/><stop offset=".657" stop-color="#fec029"/><stop offset=".792" stop-color="#f9dc24"/><stop offset=".867" stop-color="#f7e225"/><stop offset="1.000" stop-color="#f6e626"/></linearGradient>
<linearGradient id="g256" gradientUnits="userSpaceOnUse" x1="0" y1="552.25" x2="0" y2="808.467"><stop offset=".000" stop-color="#2f0596"/><stop offset=".013" stop-color="#310597"/><stop offset=".028" stop-color="#5801a4"/><stop offset=".040" stop-color="#6f00a8"/><stop offset=".055" stop-color="#8305a7"/><stop offset=".068" stop-color="#910ea3"/><stop offset=".085" stop-color="#9e199d"/><stop offset=".115" stop-color="#ad2793"/><stop offset=".165" stop-color="#bb3488"/><stop offset=".216" stop-color="#c43e7f"/><stop offset=".276" stop-color="#ca457a"/><stop offset=".388" stop-color="#de5f65"/><stop offset=".446" stop-color="#ea7457"/><stop offset=".526" stop-color="#f9973f"/><stop offset=".614" stop-color="#fdb52e"/><stop offset=".697" stop-color="#fdcb26"/><stop offset=".777" stop-color="#fada24"/><stop offset=".827" stop-color="#f8df25"/><stop offset="1.000" stop-color="#f6e626"/></linearGradient>
<linearGradient id="g257" gradientUnits="userSpaceOnUse" x1="0" y1="552.25" x2="0" y2="808.467"><stop offset=".000" stop-color="#20068f"/><stop offset=".013" stop-color="#220690"/><stop offset=".025" stop-color="#310597"/><stop offset=".038" stop-color="#5102a3"/><stop offset=".053" stop-color="#6f00a8"/><stop offset=".065" stop-color="#8004a8"/><stop offset=".083" stop-color="#9410a2"/><stop offset=".120" stop-color="#ab2494"/><stop offset=".165" stop-color="#b83289"/><stop offset=".213" stop-color="#c23c81"/><stop offset=".276" stop-color="#c8437b"/><stop offset=".388" stop-color="#db5c68"/><stop offset=".446" stop-color="#e87059"/><stop offset=".524" stop-color="#f79342"/><stop offset=".564" stop-color="#fca338"/><stop offset=".654" stop-color="#fec029"/><stop offset=".792" stop-color="#f9dc24"/><stop offset=".867" stop-color="#f7e225"/><stop offset="1.000" stop-color="#f6e626"/></linearGradient>
<linearGradient id="g258" gradientUnits="userSpaceOnUse" x1="0" y1="552.25" x2="0" y2="808.467"><stop offset=".000" stop-color="#2c0594"/><stop offset=".013" stop-color="#2e0595"/><stop offset=".028" stop-color="#5302a3"/><stop offset=".040" stop-color="#6a00a8"/><stop offset=".055" stop-color="#8004a8"/><stop offset=".068" stop-color="#8e0ca4"/><stop offset=".083" stop-color="#9a169f"/><stop offset=".118" stop-color="#ac2694"/><stop offset=".158" stop-color="#b6308b"/><stop offset=".216" stop-color="#bf3984"/><stop offset=".278" stop-color="#c23c81"/><stop offset=".396" stop-color="#d45270"/><stop offset=".476" stop-color="#e87059"/><stop offset=".541" stop-color="#f79044"/><stop offset=".599" stop-color="#fca835"/><stop offset=".667" stop-color="#fec029"/><stop offset=".794" stop-color="#f9dc24"/><stop offset=".867" stop-color="#f7e225"/><stop offset="1.000" stop-color="#f6e626"/></linearGradient>
<linearGradient id="g259" gradientUnits="userSpaceOnUse" x1="0" y1="552.25" x2="0" y2="808.467"><stop offset=".000" stop-color="#240691"/><stop offset=".013" stop-color="#260591"/><stop offset=".025" stop-color="#3a049a"/><stop offset=".038" stop-color="#5801a4"/><stop offset=".045" stop-color="#6600a7"/><stop offset=".063" stop-color="#8004a8"/><stop offset=".080" stop-color="#9410a2"/><stop offset=".118" stop-color="#ab2494"/><stop offset=".178" stop-color="#bc3587"/><stop offset=".221" stop-color="#c43e7f"/><stop offset=".273" stop-color="#c9447a"/><stop offset=".391" stop-color="#de5f65"/><stop offset=".464" stop-color="#ed7a52"/><stop offset=".521" stop-color="#f89441"/><stop offset=".576" stop-color="#fca934"/><stop offset=".669" stop-color="#fdc527"/><stop offset=".789" stop-color="#f9dc24"/><stop offset=".867" stop-color="#f7e225"/><stop offset="1.000" stop-color="#f6e626"/></linearGradient>
<linearGradient id="g260" gradientUnits="userSpaceOnUse" x1="0" y1="552.25" x2="0" y2="808.467"><stop offset=".000" stop-color="#2c0594"/><stop offset=".013" stop-color="#2e0595"/><stop offset=".025" stop-color="#4e02a2"/><stop offset=".043" stop-color="#6f00a8"/><stop offset=".058" stop-color="#8305a7"/><stop offset=".070" stop-color="#910ea3"/><stop offset=".088" stop-color="#9e199d"/><stop offset=".115" stop-color="#ac2694"/><stop offset=".153" stop-color="#b7318a"/><stop offset=".216" stop-color="#c33d80"/><stop offset=".276" stop-color="#c9447a"/><stop offset=".391" stop-color="#dd5e66"/><stop offset=".451" stop-color="#ea7457"/><stop offset=".524" stop-color="#f89441"/><stop offset=".574" stop-color="#fca835"/><stop offset=".652" stop-color="#fec029"/><stop offset=".789" stop-color="#f9dc24"/><stop offset=".867" stop-color="#f7e225"/><stop offset="1.000" stop-color="#f6e626"/></linearGradient>
<linearGradient id="g261" gradientUnits="userSpaceOnUse" x1="0" y1="552.25" x2="0" y2="808.467"><stop offset=".000" stop-color="#2c0594"/><stop offset=".013" stop-color="#2e0595"/><stop offset=".028" stop-color="#5302a3"/><stop offset=".040" stop-color="#6a00a8"/><stop offset=".058" stop-color="#8305a7"/><stop offset=".075" stop-color="#9511a1"/><stop offset=".088" stop-color="#9e199d"/><stop offset=".120" stop-color="#ae2892"/><stop offset=".193" stop-color="#c13b82"/><stop offset=".273" stop-color="#cc4977"/><stop offset=".393" stop-color="#e3685f"/><stop offset=".509" stop-color="#f89540"/><stop offset=".569" stop-color="#fdac33"/><stop offset=".699" stop-color="#fccd25"/><stop offset=".787" stop-color="#f9dc24"/><stop offset=".867" stop-color="#f7e225"/><stop offset="1.000" stop-color="#f6e626"/></linearGradient>
<linearGradient id="g262" gradientUnits="userSpaceOnUse" x1="0" y1="552.25" x2="0" y2="808.467"><stop offset=".000" stop-color="#2e0595"/><stop offset=".013" stop-color="#330597"/><stop offset=".025" stop-color="#5102a3"/><stop offset=".040" stop-color="#6e00a8"/><stop offset=".055" stop-color="#8104a7"/><stop offset=".075" stop-color="#9613a1"/><stop offset=".115" stop-color="#ad2793"/><stop offset=".198" stop-color="#c23c81"/><stop offset=".276" stop-color="#cc4977"/><stop offset=".388" stop-color="#e26561"/><stop offset=".514" stop-color="#f9973f"/><stop offset=".571" stop-color="#fdac33"/><stop offset=".692" stop-color="#fdcb26"/><stop offset=".787" stop-color="#f9dc24"/><stop offset=".867" stop-color="#f7e225"/><stop offset="1.000" stop-color="#f6e626"/></linearGradient>
<linearGradient id="g263" gradientUnits="userSpaceOnUse" x1="0" y1="552.25" x2="0" y2="808.467"><stop offset=".000" stop-color="#20068f"/><stop offset=".010" stop-color="#20068f"/><stop offset=".025" stop-color="#2a0593"/><stop offset=".038" stop-color="#4b03a1"/><stop offset=".055" stop-color="#6e00a8"/><stop offset=".073" stop-color="#8606a6"/><stop offset=".093" stop-color="#99159f"/><stop offset=".108" stop-color="#a31e9a"/><stop offset=".143" stop-color="#b32c8e"/><stop offset=".203" stop-color="#c23c81"/><stop offset=".273" stop-color="#cc4778"/><stop offset=".386" stop-color="#e16462"/><stop offset=".441" stop-color="#ec7754"/><stop offset=".521" stop-color="#f99a3e"/><stop offset=".559" stop-color="#fca835"/><stop offset=".654" stop-color="#fdc328"/><stop offset=".787" stop-color="#f9dc24"/><stop offset=".867" stop-color="#f7e225"/><stop offset="1.000" stop-color="#f6e626"/></linearGradient>
<linearGradient id="g264" gradientUnits="userSpaceOnUse" x1="0" y1="552.25" x2="0" y2="808.467"><stop offset=".000" stop-color="#2a0593"/><stop offset=".013" stop-color="#2c0594"/><stop offset=".025" stop-color="#4903a0"/><stop offset=".040" stop-color="#6700a8"/><stop offset=".058" stop-color="#8004a8"/><stop offset=".073" stop-color="#910ea3"/><stop offset=".090" stop-color="#9e199d"/><stop offset=".118" stop-color="#ac2694"/><stop offset=".155" stop-color="#b7318a"/><stop offset=".216" stop-color="#c33d80"/><stop offset=".276" stop-color="#c9447a"/><stop offset=".391" stop-color="#dd5e66"/><stop offset=".439" stop-color="#e76f5a"/><stop offset=".524" stop-color="#f89441"/><stop offset=".569" stop-color="#fca636"/><stop offset=".652" stop-color="#fec029"/><stop offset=".789" stop-color="#f9dc24"/><stop offset=".867" stop-color="#f7e225"/><stop offset="1.000" stop-color="#f6e626"/></linearGradient>
<linearGradient id="g265" gradientUnits="userSpaceOnUse" x1="0" y1="552.25" x2="0" y2="808.467"><stop offset=".000" stop-color="#240691"/><stop offset=".013" stop-color="#260591"/><stop offset=".025" stop-color="#350498"/><stop offset=".038" stop-color="#5302a3"/><stop offset=".053" stop-color="#6f00a8"/><stop offset=".065" stop-color="#8004a8"/><stop offset=".080" stop-color="#910ea3"/><stop offset=".113" stop-color="#a72197"/><stop offset=".153" stop-color="#b52f8c"/><stop offset=".218" stop-color="#c23c81"/><stop offset=".281" stop-color="#c8437b"/><stop offset=".393" stop-color="#db5c68"/><stop offset=".459" stop-color="#ea7457"/><stop offset=".524" stop-color="#f79143"/><stop offset=".571" stop-color="#fca537"/><stop offset=".654" stop-color="#fec029"/><stop offset=".792" stop-color="#f9dc24"/><stop offset=".867" stop-color="#f7e225"/><stop offset="1.000" stop-color="#f6e626"/></linearGradient>
<linearGradient id="g266" gradientUnits="userSpaceOnUse" x1="0" y1="552.25" x2="0" y2="808.467"><stop offset=".000" stop-color="#1b068d"/><stop offset=".025" stop-color="#1d068e"/><stop offset=".050" stop-color="#5601a4"/><stop offset=".065" stop-color="#7201a8"/><stop offset=".078" stop-color="#8305a7"/><stop offset=".090" stop-color="#910ea3"/><stop offset=".105" stop-color="#9d189d"/><stop offset=".150" stop-color="#b32c8e"/><stop offset=".216" stop-color="#c33d80"/><stop offset=".276" stop-color="#ca457a"/><stop offset=".393" stop-color="#df6263"/><stop offset=".469" stop-color="#f07f4f"/><stop offset=".539" stop-color="#fa9c3c"/><stop offset=".614" stop-color="#fdb52e"/><stop offset=".682" stop-color="#fdc827"/><stop offset=".789" stop-color="#f9dc24"/><stop offset=".867" stop-color="#f7e225"/><stop offset="1.000" stop-color="#f6e626"/></linearGradient>
<linearGradient id="g267" gradientUnits="userSpaceOnUse" x1="0" y1="552.25" x2="0" y2="808.467"><stop offset=".000" stop-color="#20068f"/><stop offset=".025" stop-color="#260591"/><stop offset=".040" stop-color="#4e02a2"/><stop offset=".055" stop-color="#6a00a8"/><stop offset=".068" stop-color="#7d03a8"/><stop offset=".088" stop-color="#9410a2"/><stop offset=".108" stop-color="#a21d9a"/><stop offset=".145" stop-color="#b32c8e"/><stop offset=".213" stop-color="#c33d80"/><stop offset=".278" stop-color="#cb4679"/><stop offset=".386" stop-color="#de6164"/><stop offset=".454" stop-color="#ed7953"/><stop offset=".519" stop-color="#f89540"/><stop offset=".566" stop-color="#fca835"/><stop offset=".659" stop-color="#fdc328"/><stop offset=".789" stop-color="#f9dc24"/><stop offset=".867" stop-color="#f7e225"/><stop offset="1.000" stop-color="#f6e626"/></linearGradient>
<linearGradient id="g268" gradientUnits="userSpaceOnUse" x1="0" y1="552.25" x2="0" y2="808.467"><stop offset=".000" stop-color="#280592"/><stop offset=".013" stop-color="#280592"/><stop offset=".025" stop-color="#3e049c"/><stop offset=".045" stop-color="#6700a8"/><stop offset=".063" stop-color="#8004a8"/><stop offset=".083" stop-color="#9511a1"/><stop offset=".123" stop-color="#ac2694"/><stop offset=".175" stop-color="#bb3488"/><stop offset=".218" stop-color="#c33d80"/><stop offset=".278" stop-color="#c9447a"/><stop offset=".388" stop-color="#dc5d67"/><stop offset=".449" stop-color="#e97257"/><stop offset=".541" stop-color="#fa9b3d"/><stop offset=".637" stop-color="#febb2b"/><stop offset=".692" stop-color="#fdca26"/><stop offset=".789" stop-color="#f9dc24"/><stop offset=".867" stop-color="#f7e225"/><stop offset="1.000" stop-color="#f6e626"/></linearGradient>
<linearGradient id="g269" gradientUnits="userSpaceOnUse" x1="0" y1="552.25" x2="0" y2="808.467"><stop offset=".000" stop-color="#19068c"/><stop offset=".023" stop-color="#1b068d"/><stop offset=".028" stop-color="#20068f"/><stop offset=".040" stop-color="#330597"/><stop offset=".050" stop-color="#4e02a2"/><stop offset=".065" stop-color="#6a00a8"/><stop offset=".075" stop-color="#7b02a8"/><stop offset=".085" stop-color="#8707a6"/><stop offset=".110" stop-color="#9e199d"/><stop offset=".150" stop-color="#b22b8f"/><stop offset=".206" stop-color="#c03a83"/><stop offset=".273" stop-color="#c9447a"/><stop offset=".393" stop-color="#de6164"/><stop offset=".444" stop-color="#e97257"/><stop offset=".524" stop-color="#f89540"/><stop offset=".566" stop-color="#fca636"/><stop offset=".629" stop-color="#feba2c"/><stop offset=".697" stop-color="#fdcb26"/><stop offset=".777" stop-color="#fada24"/><stop offset=".827" stop-color="#f8df25"/><stop offset="1.000" stop-color="#f6e626"/></linearGradient>
<linearGradient id="g270" gradientUnits="userSpaceOnUse" x1="0" y1="552.25" x2="0" y2="808.467"><stop offset=".000" stop-color="#20068f"/><stop offset=".025" stop-color="#240691"/><stop offset=".045" stop-color="#5302a3"/><stop offset=".058" stop-color="#6a00a8"/><stop offset=".070" stop-color="#7e03a8"/><stop offset=".090" stop-color="#9410a2"/><stop offset=".110" stop-color="#a21d9a"/><stop offset=".150" stop-color="#b42e8d"/><stop offset=".208" stop-color="#c23c81"/><stop offset=".273" stop-color="#cb4679"/><stop offset=".388" stop-color="#e06363"/><stop offset=".446" stop-color="#ec7754"/><stop offset=".519" stop-color="#f9973f"/><stop offset=".566" stop-color="#fca934"/><stop offset=".657" stop-color="#fdc328"/><stop offset=".787" stop-color="#f9dc24"/><stop offset=".867" stop-color="#f7e225"/><stop offset="1.000" stop-color="#f6e626"/></linearGradient>
<linearGradient id="g271" gradientUnits="userSpaceOnUse" x1="0" y1="552.25" x2="0" y2="808.467"><stop offset=".000" stop-color="#240691"/><stop offset=".013" stop-color="#260591"/><stop offset=".025" stop-color="#310597"/><stop offset=".028" stop-color="#350498"/><stop offset=".038" stop-color="#5002a2"/><stop offset=".053" stop-color="#6c00a8"/><stop offset=".068" stop-color="#8104a7"/><stop offset=".088" stop-color="#9613a1"/><stop offset=".105" stop-color="#a21d9a"/><stop offset=".145" stop-color="#b42e8d"/><stop offset=".218" stop-color="#c6417d"/><stop offset=".291" stop-color="#d04d73"/><stop offset=".388" stop-color="#e3685f"/><stop offset=".509" stop-color="#f9973f"/><stop offset=".576" stop-color="#fdaf31"/><stop offset=".682" stop-color="#fdca26"/><stop offset=".787" stop-color="#f9dc24"/><stop offset=".867" stop-color="#f7e225"/><stop offset="1.000" stop-color="#f6e626"/></linearGradient>
<linearGradient id="g272" gradientUnits="userSpaceOnUse" x1="0" y1="552.25" x2="0" y2="808.467"><stop offset=".000" stop-color="#240691"/><stop offset=".010" stop-color="#240691"/><stop offset=".025" stop-color="#2a0593"/><stop offset=".040" stop-color="#5002a2"/><stop offset=".055" stop-color="#6c00a8"/><stop offset=".070" stop-color="#8104a7"/><stop offset=".090" stop-color="#9613a1"/><stop offset=".113" stop-color="#a62098"/><stop offset=".140" stop-color="#b22b8f"/><stop offset=".208" stop-color="#c43e7f"/><stop offset=".278" stop-color="#ce4b75"/><stop offset=".386" stop-color="#e4695e"/><stop offset=".494" stop-color="#f79342"/><stop offset=".561" stop-color="#fdac33"/><stop offset=".672" stop-color="#fdc827"/><stop offset=".784" stop-color="#f9dc24"/><stop offset=".867" stop-color="#f7e225"/><stop offset="1.000" stop-color="#f6e626"/></linearGradient>
<linearGradient id="g273" gradientUnits="userSpaceOnUse" x1="0" y1="552.25" x2="0" y2="808.467"><stop offset=".000" stop-color="#240691"/><stop offset=".025" stop-color="#280592"/><stop offset=".028" stop-color="#2c0594"/><stop offset=".040" stop-color="#4e02a2"/><stop offset=".055" stop-color="#6a00a8"/><stop offset=".070" stop-color="#8104a7"/><stop offset=".093" stop-color="#9814a0"/><stop offset=".113" stop-color="#a62098"/><stop offset=".148" stop-color="#b52f8c"/><stop offset=".211" stop-color="#c6417d"/><stop offset=".278" stop-color="#d14e72"/><stop offset=".383" stop-color="#e76e5b"/><stop offset=".486" stop-color="#f89540"/><stop offset=".569" stop-color="#fdb22f"/><stop offset=".664" stop-color="#fdc827"/><stop offset=".782" stop-color="#f9dc24"/><stop offset=".865" stop-color="#f7e225"/><stop offset="1.000" stop-color="#f6e626"/></linearGradient>
<linearGradient id="g274" gradientUnits="userSpaceOnUse" x1="0" y1="552.25" x2="0" y2="808.467"><stop offset=".000" stop-color="#1d068e"/><stop offset=".028" stop-color="#240691"/><stop offset=".043" stop-color="#3f049c"/><stop offset=".053" stop-color="#5801a4"/><stop offset=".070" stop-color="#7701a8"/><stop offset=".088" stop-color="#8d0ba5"/><stop offset=".108" stop-color="#9d189d"/><stop offset=".150" stop-color="#b32c8e"/><stop offset=".211" stop-color="#c33d80"/><stop offset=".291" stop-color="#cf4c74"/><stop offset=".393" stop-color="#e3685f"/><stop offset=".499" stop-color="#f79143"/><stop offset=".564" stop-color="#fdab33"/><stop offset=".647" stop-color="#fdc229"/><stop offset=".787" stop-color="#f9dc24"/><stop offset=".867" stop-color="#f7e225"/><stop offset="1.000" stop-color="#f6e626"/></linearGradient>
<linearGradient id="g275" gradientUnits="userSpaceOnUse" x1="0" y1="552.25" x2="0" y2="808.467"><stop offset=".000" stop-color="#260591"/><stop offset=".013" stop-color="#280592"/><stop offset=".025" stop-color="#310597"/><stop offset=".028" stop-color="#350498"/><stop offset=".040" stop-color="#5502a4"/><stop offset=".053" stop-color="#6c00a8"/><stop offset=".068" stop-color="#8104a7"/><stop offset=".088" stop-color="#9613a1"/><stop offset=".110" stop-color="#a62098"/><stop offset=".148" stop-color="#b6308b"/><stop offset=".213" stop-color="#c8437b"/><stop offset=".293" stop-color="#d6556d"/><stop offset=".393" stop-color="#eb7556"/><stop offset=".469" stop-color="#f79342"/><stop offset=".569" stop-color="#fdb52e"/><stop offset=".649" stop-color="#fdc627"/><stop offset=".782" stop-color="#f9dc24"/><stop offset=".865" stop-color="#f7e225"/><stop offset="1.000" stop-color="#f6e626"/></linearGradient>
<linearGradient id="g276" gradientUnits="userSpaceOnUse" x1="0" y1="552.25" x2="0" y2="808.467"><stop offset=".000" stop-color="#20068f"/><stop offset=".025" stop-color="#240691"/><stop offset=".053" stop-color="#5c01a6"/><stop offset=".070" stop-color="#7a02a8"/><stop offset=".088" stop-color="#8e0ca4"/><stop offset=".103" stop-color="#9a169f"/><stop offset=".113" stop-color="#a21d9a"/><stop offset=".148" stop-color="#b22b8f"/><stop offset=".203" stop-color="#c03a83"/><stop offset=".281" stop-color="#cb4679"/><stop offset=".383" stop-color="#de5f65"/><stop offset=".449" stop-color="#eb7655"/><stop offset=".524" stop-color="#f9973f"/><stop offset=".566" stop-color="#fca835"/><stop offset=".667" stop-color="#fdc527"/><stop offset=".789" stop-color="#f9dc24"/><stop offset=".867" stop-color="#f7e225"/><stop offset="1.000" stop-color="#f6e626"/></linearGradient>
<linearGradient id="g277" gradientUnits="userSpaceOnUse" x1="0" y1="552.25" x2="0" y2="808.467"><stop offset=".000" stop-color="#240691"/><stop offset=".025" stop-color="#280592"/><stop offset=".040" stop-color="#4b03a1"/><stop offset=".053" stop-color="#6400a7"/><stop offset=".070" stop-color="#7e03a8"/><stop offset=".088" stop-color="#920fa3"/><stop offset=".108" stop-color="#a11b9b"/><stop offset=".138" stop-color="#b02991"/><stop offset=".213" stop-color="#c43e7f"/><stop offset=".278" stop-color="#cc4977"/><stop offset=".391" stop-color="#e26660"/><stop offset=".519" stop-color="#f99a3e"/><stop offset=".586" stop-color="#fdb130"/><stop offset=".692" stop-color="#fdcb26"/><stop offset=".787" stop-color="#f9dc24"/><stop offset=".867" stop-color="#f7e225"/><stop offset="1.000" stop-color="#f6e626"/></linearGradient>
<linearGradient id="g278" gradientUnits="userSpaceOnUse" x1="0" y1="552.25" x2="0" y2="808.467"><stop offset=".000" stop-color="#240691"/><stop offset=".025" stop-color="#260591"/><stop offset=".045" stop-color="#5302a3"/><stop offset=".055" stop-color="#6600a7"/><stop offset=".073" stop-color="#8004a8"/><stop offset=".088" stop-color="#910ea3"/><stop offset=".108" stop-color="#a01a9c"/><stop offset=".140" stop-color="#b02991"/><stop offset=".203" stop-color="#c03a83"/><stop offset=".276" stop-color="#ca457a"/><stop offset=".386" stop-color="#de5f65"/><stop offset=".441" stop-color="#e97257"/><stop offset=".521" stop-color="#f89540"/><stop offset=".589" stop-color="#fdae32"/><stop offset=".682" stop-color="#fdc827"/><stop offset=".789" stop-color="#f9dc24"/><stop offset=".867" stop-color="#f7e225"/><stop offset="1.000" stop-color="#f6e626"/></linearGradient>
<linearGradient id="g279" gradientUnits="userSpaceOnUse" x1="0" y1="552.25" x2="0" y2="808.467"><stop offset=".000" stop-color="#260591"/><stop offset=".025" stop-color="#280592"/><stop offset=".040" stop-color="#4e02a2"/><stop offset=".053" stop-color="#6600a7"/><stop offset=".070" stop-color="#8004a8"/><stop offset=".093" stop-color="#9613a1"/><stop offset=".110" stop-color="#a21d9a"/><stop offset=".143" stop-color="#b12a90"/><stop offset=".193" stop-color="#bd3786"/><stop offset=".276" stop-color="#c8437b"/><stop offset=".391" stop-color="#dc5d67"/><stop offset=".454" stop-color="#ea7457"/><stop offset=".536" stop-color="#f9983e"/><stop offset=".609" stop-color="#fdb22f"/><stop offset=".692" stop-color="#fdca26"/><stop offset=".789" stop-color="#f9dc24"/><stop offset=".867" stop-color="#f7e225"/><stop offset="1.000" stop-color="#f6e626"/></linearGradient>
<linearGradient id="g280" gradientUnits="userSpaceOnUse" x1="0" y1="552.25" x2="0" y2="808.467"><stop offset=".000" stop-color="#220690"/><stop offset=".020" stop-color="#240691"/><stop offset=".028" stop-color="#280592"/><stop offset=".055" stop-color="#6001a6"/><stop offset=".073" stop-color="#7b02a8"/><stop offset=".090" stop-color="#8f0da4"/><stop offset=".113" stop-color="#a11b9b"/><stop offset=".148" stop-color="#b12a90"/><stop offset=".201" stop-color="#be3885"/><stop offset=".278" stop-color="#c8437b"/><stop offset=".388" stop-color="#db5c68"/><stop offset=".446" stop-color="#e87059"/><stop offset=".534" stop-color="#f9973f"/><stop offset=".591" stop-color="#fdac33"/><stop offset=".679" stop-color="#fdc627"/><stop offset=".792" stop-color="#f9dc24"/><stop offset=".867" stop-color="#f7e225"/><stop offset="1.000" stop-color="#f6e626"/></linearGradient>
<linearGradient id="g281" gradientUnits="userSpaceOnUse" x1="0" y1="552.25" x2="0" y2="808.467"><stop offset=".000" stop-color="#20068f"/><stop offset=".025" stop-color="#220690"/><stop offset=".038" stop-color="#2a0593"/><stop offset=".040" stop-color="#2e0595"/><stop offset=".053" stop-color="#5002a2"/><stop offset=".070" stop-color="#7100a8"/><stop offset=".093" stop-color="#8d0ba5"/><stop offset=".113" stop-color="#9e199d"/><stop offset=".153" stop-color="#b22b8f"/><stop offset=".216" stop-color="#c33d80"/><stop offset=".268" stop-color="#ca457a"/><stop offset=".391" stop-color="#e16462"/><stop offset=".436" stop-color="#ea7457"/><stop offset=".521" stop-color="#f9983e"/><stop offset=".566" stop-color="#fca934"/><stop offset=".657" stop-color="#fdc328"/><stop offset=".787" stop-color="#f9dc24"/><stop offset=".867" stop-color="#f7e225"/><stop offset="1.000" stop-color="#f6e626"/></linearGradient>
<linearGradient id="g282" gradientUnits="userSpaceOnUse" x1="0" y1="552.25" x2="0" y2="808.467"><stop offset=".000" stop-color="#280592"/><stop offset=".015" stop-color="#2a0593"/><stop offset=".025" stop-color="#2f0596"/><stop offset=".038" stop-color="#4e02a2"/><stop offset=".053" stop-color="#6a00a8"/><stop offset=".070" stop-color="#8305a7"/><stop offset=".088" stop-color="#9511a1"/><stop offset=".113" stop-color="#a62098"/><stop offset=".150" stop-color="#b52f8c"/><stop offset=".218" stop-color="#c6417d"/><stop offset=".288" stop-color="#d04d73"/><stop offset=".388" stop-color="#e4695e"/><stop offset=".496" stop-color="#f79342"/><stop offset=".559" stop-color="#fdab33"/><stop offset=".664" stop-color="#fdc627"/><stop offset=".784" stop-color="#f9dc24"/><stop offset=".867" stop-color="#f7e225"/><stop offset="1.000" stop-color="#f6e626"/></linearGradient>
<linearGradient id="g283" gradientUnits="userSpaceOnUse" x1="0" y1="552.25" x2="0" y2="808.467"><stop offset=".000" stop-color="#220690"/><stop offset=".028" stop-color="#280592"/><stop offset=".038" stop-color="#370499"/><stop offset=".053" stop-color="#5801a4"/><stop offset=".070" stop-color="#7701a8"/><stop offset=".090" stop-color="#8e0ca4"/><stop offset=".110" stop-color="#9e199d"/><stop offset=".150" stop-color="#b22b8f"/><stop offset=".208" stop-color="#c13b82"/><stop offset=".273" stop-color="#ca457a"/><stop offset=".388" stop-color="#df6263"/><stop offset=".459" stop-color="#ee7b51"/><stop offset=".521" stop-color="#f9973f"/><stop offset=".561" stop-color="#fca636"/><stop offset=".652" stop-color="#fdc229"/><stop offset=".789" stop-color="#f9dc24"/><stop offset=".867" stop-color="#f7e225"/><stop offset="1.000" stop-color="#f6e626"/></linearGradient>
<linearGradient id="g284" gradientUnits="userSpaceOnUse" x1="0" y1="552.25" x2="0" y2="808.467"><stop offset=".000" stop-color="#20068f"/><stop offset=".038" stop-color="#240691"/><stop offset=".058" stop-color="#5102a3"/><stop offset=".070" stop-color="#6a00a8"/><stop offset=".088" stop-color="#8405a7"/><stop offset=".113" stop-color="#9c179e"/><stop offset=".150" stop-color="#b12a90"/><stop offset=".216" stop-color="#c43e7f"/><stop offset=".286" stop-color="#cf4c74"/><stop offset=".393" stop-color="#e56a5d"/><stop offset=".496" stop-color="#f79342"/><stop offset=".564" stop-color="#fdac33"/><stop offset=".657" stop-color="#fdc527"/><stop offset=".784" stop-color="#f9dc24"/><stop offset=".867" stop-color="#f7e225"/><stop offset="1.000" stop-color="#f6e626"/></linearGradient>
<linearGradient id="g285" gradientUnits="userSpaceOnUse" x1="0" y1="552.25" x2="0" y2="808.467"><stop offset=".000" stop-color="#1d068e"/><stop offset=".040" stop-color="#240691"/><stop offset=".053" stop-color="#3a049a"/><stop offset=".065" stop-color="#5801a4"/><stop offset=".075" stop-color="#6a00a8"/><stop offset=".088" stop-color="#7e03a8"/><stop offset=".118" stop-color="#9c179e"/><stop offset=".148" stop-color="#ad2793"/><stop offset=".218" stop-color="#c23c81"/><stop offset=".281" stop-color="#ca457a"/><stop offset=".391" stop-color="#de6164"/><stop offset=".436" stop-color="#e87059"/><stop offset=".519" stop-color="#f89441"/><stop offset=".594" stop-color="#fdaf31"/><stop offset=".689" stop-color="#fdca26"/><stop offset=".789" stop-color="#f9dc24"/><stop offset=".867" stop-color="#f7e225"/><stop offset="1.000" stop-color="#f6e626"/></linearGradient>
<linearGradient id="g286" gradientUnits="userSpaceOnUse" x1="0" y1="552.25" x2="0" y2="808.467"><stop offset=".000" stop-color="#20068f"/><stop offset=".040" stop-color="#280592"/><stop offset=".053" stop-color="#48039f"/><stop offset=".070" stop-color="#6a00a8"/><stop offset=".088" stop-color="#8405a7"/><stop offset=".113" stop-color="#9c179e"/><stop offset=".148" stop-color="#b02991"/><stop offset=".213" stop-color="#c33d80"/><stop offset=".286" stop-color="#ce4b75"/><stop offset=".388" stop-color="#e26660"/><stop offset=".491" stop-color="#f68f44"/><stop offset=".564" stop-color="#fdab33"/><stop offset=".652" stop-color="#fdc328"/><stop offset=".787" stop-color="#f9dc24"/><stop offset=".867" stop-color="#f7e225"/><stop offset="1.000" stop-color="#f6e626"/></linearGradient>
<linearGradient id="g287" gradientUnits="userSpaceOnUse" x1="0" y1="552.25" x2="0" y2="808.467"><stop offset=".000" stop-color="#240691"/><stop offset=".025" stop-color="#260591"/><stop offset=".038" stop-color="#2c0594"/><stop offset=".040" stop-color="#2f0596"/><stop offset=".053" stop-color="#5002a2"/><stop offset=".068" stop-color="#6c00a8"/><stop offset=".080" stop-color="#7d03a8"/><stop offset=".090" stop-color="#8a09a5"/><stop offset=".110" stop-color="#9c179e"/><stop offset=".148" stop-color="#b02991"/><stop offset=".216" stop-color="#c23c81"/><stop offset=".276" stop-color="#ca457a"/><stop offset=".388" stop-color="#de6164"/><stop offset=".434" stop-color="#e87059"/><stop offset=".524" stop-color="#f9973f"/><stop offset=".566" stop-color="#fca835"/><stop offset=".667" stop-color="#fdc527"/><stop offset=".789" stop-color="#f9dc24"/><stop offset=".867" stop-color="#f7e225"/><stop offset="1.000" stop-color="#f6e626"/></linearGradient>
<linearGradient id="g288" gradientUnits="userSpaceOnUse" x1="0" y1="552.25" x2="0" y2="808.467"><stop offset=".000" stop-color="#1d068e"/><stop offset=".040" stop-color="#260591"/><stop offset=".053" stop-color="#350498"/><stop offset=".070" stop-color="#6001a6"/><stop offset=".078" stop-color="#6c00a8"/><stop offset=".095" stop-color="#8405a7"/><stop offset=".113" stop-color="#9814a0"/><stop offset=".155" stop-color="#b12a90"/><stop offset=".216" stop-color="#c43e7f"/><stop offset=".278" stop-color="#ce4b75"/><stop offset=".383" stop-color="#e4695e"/><stop offset=".481" stop-color="#f68f44"/><stop offset=".564" stop-color="#fdae32"/><stop offset=".654" stop-color="#fdc527"/><stop offset=".784" stop-color="#f9dc24"/><stop offset=".867" stop-color="#f7e225"/><stop offset="1.000" stop-color="#f6e626"/></linearGradient>
<linearGradient id="g289" gradientUnits="userSpaceOnUse" x1="0" y1="552.25" x2="0" y2="808.467"><stop offset=".000" stop-color="#1d068e"/><stop offset=".038" stop-color="#240691"/><stop offset=".045" stop-color="#2a0593"/><stop offset=".053" stop-color="#330597"/><stop offset=".068" stop-color="#5801a4"/><stop offset=".080" stop-color="#6e00a8"/><stop offset=".095" stop-color="#8305a7"/><stop offset=".118" stop-color="#9a169f"/><stop offset=".150" stop-color="#ae2892"/><stop offset=".216" stop-color="#c43e7f"/><stop offset=".278" stop-color="#ce4b75"/><stop offset=".391" stop-color="#e56b5d"/><stop offset=".491" stop-color="#f79342"/><stop offset=".564" stop-color="#fdae32"/><stop offset=".654" stop-color="#fdc527"/><stop offset=".784" stop-color="#f9dc24"/><stop offset=".867" stop-color="#f7e225"/><stop offset="1.000" stop-color="#f6e626"/></linearGradient>
<linearGradient id="g290" gradientUnits="userSpaceOnUse" x1="0" y1="552.25" x2="0" y2="808.467"><stop offset=".000" stop-color="#260591"/><stop offset=".023" stop-color="#280592"/><stop offset=".038" stop-color="#2f0596"/><stop offset=".055" stop-color="#5601a4"/><stop offset=".073" stop-color="#7501a8"/><stop offset=".088" stop-color="#8808a6"/><stop offset=".115" stop-color="#a01a9c"/><stop offset=".148" stop-color="#b02991"/><stop offset=".208" stop-color="#c03a83"/><stop offset=".281" stop-color="#ca457a"/><stop offset=".388" stop-color="#de5f65"/><stop offset=".434" stop-color="#e76f5a"/><stop offset=".516" stop-color="#f79342"/><stop offset=".599" stop-color="#fdb130"/><stop offset=".689" stop-color="#fdca26"/><stop offset=".789" stop-color="#f9dc24"/><stop offset=".867" stop-color="#f7e225"/><stop offset="1.000" stop-color="#f6e626"/></linearGradient>
<linearGradient id="g291" gradientUnits="userSpaceOnUse" x1="0" y1="552.25" x2="0" y2="808.467"><stop offset=".000" stop-color="#1d068e"/><stop offset=".053" stop-color="#280592"/><stop offset=".070" stop-color="#5601a4"/><stop offset=".090" stop-color="#7801a8"/><stop offset=".103" stop-color="#8707a6"/><stop offset=".113" stop-color="#9410a2"/><stop offset=".148" stop-color="#ac2694"/><stop offset=".218" stop-color="#c43e7f"/><stop offset=".278" stop-color="#cd4a76"/><stop offset=".383" stop-color="#e3685f"/><stop offset=".491" stop-color="#f79143"/><stop offset=".566" stop-color="#fdae32"/><stop offset=".649" stop-color="#fdc328"/><stop offset=".784" stop-color="#f9dc24"/><stop offset=".867" stop-color="#f7e225"/><stop offset="1.000" stop-color="#f6e626"/></linearGradient>
<linearGradient id="g292" gradientUnits="userSpaceOnUse" x1="0" y1="552.25" x2="0" y2="808.467"><stop offset=".000" stop-color="#220690"/><stop offset=".038" stop-color="#260591"/><stop offset=".050" stop-color="#310597"/><stop offset=".068" stop-color="#5901a5"/><stop offset=".083" stop-color="#7401a8"/><stop offset=".098" stop-color="#8606a6"/><stop offset=".113" stop-color="#9613a1"/><stop offset=".153" stop-color="#ae2892"/><stop offset=".216" stop-color="#c23c81"/><stop offset=".288" stop-color="#cd4a76"/><stop offset=".388" stop-color="#e16462"/><stop offset=".446" stop-color="#ed7953"/><stop offset=".506" stop-color="#f79342"/><stop offset=".564" stop-color="#fca934"/><stop offset=".649" stop-color="#fdc229"/><stop offset=".787" stop-color="#f9dc24"/><stop offset=".867" stop-color="#f7e225"/><stop offset="1.000" stop-color="#f6e626"/></linearGradient>
<linearGradient id="g293" gradientUnits="userSpaceOnUse" x1="0" y1="552.25" x2="0" y2="808.467"><stop offset=".000" stop-color="#260591"/><stop offset=".038" stop-color="#2c0594"/><stop offset=".043" stop-color="#350498"/><stop offset=".053" stop-color="#4e02a2"/><stop offset=".070" stop-color="#6f00a8"/><stop offset=".085" stop-color="#8305a7"/><stop offset=".113" stop-color="#9d189d"/><stop offset=".150" stop-color="#b12a90"/><stop offset=".213" stop-color="#c33d80"/><stop offset=".286" stop-color="#ce4b75"/><stop offset=".391" stop-color="#e3685f"/><stop offset=".494" stop-color="#f79044"/><stop offset=".559" stop-color="#fca934"/><stop offset=".652" stop-color="#fdc328"/><stop offset=".787" stop-color="#f9dc24"/><stop offset=".867" stop-color="#f7e225"/><stop offset="1.000" stop-color="#f6e626"/></linearGradient>
<linearGradient id="g294" gradientUnits="userSpaceOnUse" x1="0" y1="552.25" x2="0" y2="808.467"><stop offset=".000" stop-color="#20068f"/><stop offset=".053" stop-color="#2a0593"/><stop offset=".070" stop-color="#5601a4"/><stop offset=".088" stop-color="#7501a8"/><stop offset=".098" stop-color="#8104a7"/><stop offset=".115" stop-color="#9613a1"/><stop offset=".143" stop-color="#aa2395"/><stop offset=".213" stop-color="#c5407e"/><stop offset=".278" stop-color="#d24f71"/><stop offset=".338" stop-color="#e16462"/><stop offset=".391" stop-color="#ea7457"/><stop offset=".491" stop-color="#fa9b3d"/><stop offset=".564" stop-color="#fdb42f"/><stop offset=".649" stop-color="#fdc627"/><stop offset=".782" stop-color="#f9dc24"/><stop offset=".865" stop-color="#f7e225"/><stop offset="1.000" stop-color="#f6e626"/></linearGradient>
<linearGradient id="g295" gradientUnits="userSpaceOnUse" x1="0" y1="552.25" x2="0" y2="962.197"><stop offset=".000" stop-color="#5901a5"/><stop offset=".033" stop-color="#5e01a6"/><stop offset=".053" stop-color="#6600a7"/><stop offset=".063" stop-color="#8104a7"/><stop offset=".078" stop-color="#a01a9c"/><stop offset=".098" stop-color="#b52f8c"/><stop offset=".113" stop-color="#bf3984"/><stop offset=".135" stop-color="#c9447a"/><stop offset=".170" stop-color="#d04d73"/><stop offset=".256" stop-color="#e97158"/><stop offset=".323" stop-color="#fb9f3a"/><stop offset=".381" stop-color="#fec029"/><stop offset=".429" stop-color="#fbd524"/><stop offset=".484" stop-color="#f6e626"/><stop offset=".539" stop-color="#f3ee27"/><stop offset=".714" stop-color="#f1f525"/><stop offset=".752" stop-color="#f0f724"/><stop offset=".754" stop-color="#f0f921"/><stop offset="1.000" stop-color="#f0f921"/></linearGradient>
<linearGradient id="g296" gradientUnits="userSpaceOnUse" x1="0" y1="552.25" x2="0" y2="962.197"><stop offset=".000" stop-color="#5901a5"/><stop offset=".065" stop-color="#6900a8"/><stop offset=".073" stop-color="#8004a8"/><stop offset=".078" stop-color="#8d0ba5"/><stop offset=".093" stop-color="#a72197"/><stop offset=".113" stop-color="#ba3388"/><stop offset=".135" stop-color="#c6417d"/><stop offset=".173" stop-color="#ce4b75"/><stop offset=".248" stop-color="#e4695e"/><stop offset=".281" stop-color="#ef7c51"/><stop offset=".331" stop-color="#fba139"/><stop offset=".361" stop-color="#fdb42f"/><stop offset=".414" stop-color="#fcce25"/><stop offset=".491" stop-color="#f6e826"/><stop offset=".539" stop-color="#f3ee27"/><stop offset=".714" stop-color="#f1f525"/><stop offset=".752" stop-color="#f0f724"/><stop offset=".754" stop-color="#f0f921"/><stop offset="1.000" stop-color="#f0f921"/></linearGradient>
<linearGradient id="g297" gradientUnits="userSpaceOnUse" x1="0" y1="552.25" x2="0" y2="962.197"><stop offset=".000" stop-color="#8305a7"/><stop offset=".033" stop-color="#8808a6"/><stop offset=".043" stop-color="#920fa3"/><stop offset=".053" stop-color="#a21d9a"/><stop offset=".065" stop-color="#b02991"/><stop offset=".080" stop-color="#ba3388"/><stop offset=".103" stop-color="#c33d80"/><stop offset=".135" stop-color="#cc4977"/><stop offset=".173" stop-color="#d35171"/><stop offset=".228" stop-color="#e26660"/><stop offset=".271" stop-color="#ef7c51"/><stop offset=".298" stop-color="#f79044"/><stop offset=".348" stop-color="#fdb130"/><stop offset=".388" stop-color="#fdc527"/><stop offset=".409" stop-color="#fcce25"/><stop offset=".484" stop-color="#f6e626"/><stop offset=".539" stop-color="#f3ee27"/><stop offset=".714" stop-color="#f1f525"/><stop offset=".752" stop-color="#f0f724"/><stop offset=".754" stop-color="#f0f921"/><stop offset="1.000" stop-color="#f0f921"/></linearGradient>
<linearGradient id="g298" gradientUnits="userSpaceOnUse" x1="0" y1="552.25" x2="0" y2="962.197"><stop offset=".000" stop-color="#7b02a8"/><stop offset=".033" stop-color="#8004a8"/><stop offset=".040" stop-color="#8a09a5"/><stop offset=".055" stop-color="#a21d9a"/><stop offset=".065" stop-color="#ad2793"/><stop offset=".085" stop-color="#ba3388"/><stop offset=".120" stop-color="#c5407e"/><stop offset=".178" stop-color="#cc4977"/><stop offset=".236" stop-color="#da5b69"/><stop offset=".273" stop-color="#e76e5b"/><stop offset=".316" stop-color="#f68d45"/><stop offset=".371" stop-color="#fdb42f"/><stop offset=".416" stop-color="#fccd25"/><stop offset=".486" stop-color="#f6e626"/><stop offset=".541" stop-color="#f3ee27"/><stop offset=".714" stop-color="#f1f525"/><stop offset=".752" stop-color="#f0f724"/><stop offset=".754" stop-color="#f0f921"/><stop offset="1.000" stop-color="#f0f921"/></linearGradient>
<linearGradient id="g299" gradientUnits="userSpaceOnUse" x1="0" y1="552.25" x2="0" y2="962.197"><stop offset=".000" stop-color="#7100a8"/><stop offset=".035" stop-color="#7701a8"/><stop offset=".045" stop-color="#7d03a8"/><stop offset=".055" stop-color="#910ea3"/><stop offset=".065" stop-color="#a31e9a"/><stop offset=".080" stop-color="#b32c8e"/><stop offset=".093" stop-color="#bc3587"/><stop offset=".138" stop-color="#cc4977"/><stop offset=".175" stop-color="#d45270"/><stop offset=".241" stop-color="#e76e5b"/><stop offset=".278" stop-color="#f1834c"/><stop offset=".318" stop-color="#fb9f3a"/><stop offset=".356" stop-color="#feb72d"/><stop offset=".401" stop-color="#fdcb26"/><stop offset=".489" stop-color="#f6e826"/><stop offset=".539" stop-color="#f3ee27"/><stop offset=".714" stop-color="#f1f525"/><stop offset=".752" stop-color="#f0f724"/><stop offset=".754" stop-color="#f0f921"/><stop offset="1.000" stop-color="#f0f921"/></linearGradient>
<linearGradient id="g300" gradientUnits="userSpaceOnUse" x1="0" y1="552.25" x2="0" y2="962.197"><stop offset=".000" stop-color="#7201a8"/><stop offset=".035" stop-color="#7701a8"/><stop offset=".045" stop-color="#7b02a8"/><stop offset=".050" stop-color="#8104a7"/><stop offset=".055" stop-color="#8808a6"/><stop offset=".065" stop-color="#9d189d"/><stop offset=".083" stop-color="#b12a90"/><stop offset=".093" stop-color="#b83289"/><stop offset=".128" stop-color="#c6417d"/><stop offset=".175" stop-color="#cd4a76"/><stop offset=".241" stop-color="#de5f65"/><stop offset=".276" stop-color="#e97257"/><stop offset=".338" stop-color="#fba139"/><stop offset=".401" stop-color="#fdc627"/><stop offset=".434" stop-color="#fbd524"/><stop offset=".486" stop-color="#f6e626"/><stop offset=".541" stop-color="#f3ee27"/><stop offset=".714" stop-color="#f1f525"/><stop offset=".752" stop-color="#f0f724"/><stop offset=".754" stop-color="#f0f921"/><stop offset="1.000" stop-color="#f0f921"/></linearGradient>
<linearGradient id="g301" gradientUnits="userSpaceOnUse" x1="0" y1="552.25" x2="0" y2="962.197"><stop offset=".000" stop-color="#7a02a8"/><stop offset=".023" stop-color="#7d03a8"/><stop offset=".033" stop-color="#8305a7"/><stop offset=".043" stop-color="#99159f"/><stop offset=".048" stop-color="#a11b9b"/><stop offset=".065" stop-color="#b32c8e"/><stop offset=".110" stop-color="#c5407e"/><stop offset=".175" stop-color="#cf4c74"/><stop offset=".241" stop-color="#e06363"/><stop offset=".276" stop-color="#eb7655"/><stop offset=".338" stop-color="#fca338"/><stop offset=".361" stop-color="#fdb22f"/><stop offset=".409" stop-color="#fdcb26"/><stop offset=".491" stop-color="#f6e826"/><stop offset=".539" stop-color="#f3ee27"/><stop offset=".714" stop-color="#f1f525"/><stop offset=".752" stop-color="#f0f724"/><stop offset=".754" stop-color="#f0f921"/><stop offset="1.000" stop-color="#f0f921"/></linearGradient>
<linearGradient id="g302" gradientUnits="userSpaceOnUse" x1="0" y1="552.25" x2="0" y2="962.197"><stop offset=".000" stop-color="#7e03a8"/><stop offset=".033" stop-color="#8405a7"/><stop offset=".040" stop-color="#9410a2"/><stop offset=".053" stop-color="#a72197"/><stop offset=".070" stop-color="#b6308b"/><stop offset=".093" stop-color="#c13b82"/><stop offset=".180" stop-color="#d45270"/><stop offset=".231" stop-color="#e26561"/><stop offset=".271" stop-color="#ed7a52"/><stop offset=".298" stop-color="#f68d45"/><stop offset=".341" stop-color="#fdab33"/><stop offset=".381" stop-color="#fec029"/><stop offset=".429" stop-color="#fbd524"/><stop offset=".484" stop-color="#f6e626"/><stop offset=".539" stop-color="#f3ee27"/><stop offset=".714" stop-color="#f1f525"/><stop offset=".752" stop-color="#f0f724"/><stop offset=".754" stop-color="#f0f921"/><stop offset="1.000" stop-color="#f0f921"/></linearGradient>
<linearGradient id="g303" gradientUnits="userSpaceOnUse" x1="0" y1="552.25" x2="0" y2="962.197"><stop offset=".000" stop-color="#7701a8"/><stop offset=".033" stop-color="#7b02a8"/><stop offset=".045" stop-color="#9613a1"/><stop offset=".055" stop-color="#a62098"/><stop offset=".065" stop-color="#b12a90"/><stop offset=".085" stop-color="#bc3587"/><stop offset=".115" stop-color="#c6417d"/><stop offset=".178" stop-color="#d04d73"/><stop offset=".236" stop-color="#df6263"/><stop offset=".271" stop-color="#ea7457"/><stop offset=".331" stop-color="#fb9f3a"/><stop offset=".366" stop-color="#fdb52e"/><stop offset=".401" stop-color="#fdc827"/><stop offset=".436" stop-color="#fbd724"/><stop offset=".491" stop-color="#f6e826"/><stop offset=".539" stop-color="#f3ee27"/><stop offset=".714" stop-color="#f1f525"/><stop offset=".752" stop-color="#f0f724"/><stop offset=".754" stop-color="#f0f921"/><stop offset="1.000" stop-color="#f0f921"/></linearGradient>
<linearGradient id="g304" gradientUnits="userSpaceOnUse" x1="0" y1="552.25" x2="0" y2="962.197"><stop offset=".000" stop-color="#4e02a2"/><stop offset=".053" stop-color="#5901a5"/><stop offset=".055" stop-color="#5c01a6"/><stop offset=".063" stop-color="#7a02a8"/><stop offset=".070" stop-color="#910ea3"/><stop offset=".078" stop-color="#a21d9a"/><stop offset=".093" stop-color="#b52f8c"/><stop offset=".115" stop-color="#c33d80"/><stop offset=".133" stop-color="#c9447a"/><stop offset=".178" stop-color="#d04d73"/><stop offset=".236" stop-color="#df6263"/><stop offset=".271" stop-color="#ea7457"/><stop offset=".331" stop-color="#fb9f3a"/><stop offset=".383" stop-color="#febe2a"/><stop offset=".436" stop-color="#fbd724"/><stop offset=".491" stop-color="#f6e826"/><stop offset=".539" stop-color="#f3ee27"/><stop offset=".714" stop-color="#f1f525"/><stop offset=".752" stop-color="#f0f724"/><stop offset=".754" stop-color="#f0f921"/><stop offset="1.000" stop-color="#f0f921"/></linearGradient>
<linearGradient id="g305" gradientUnits="userSpaceOnUse" x1="0" y1="552.25" x2="0" y2="962.197"><stop offset=".000" stop-color="#4c02a1"/><stop offset=".043" stop-color="#5502a4"/><stop offset=".055" stop-color="#6600a7"/><stop offset=".060" stop-color="#7a02a8"/><stop offset=".065" stop-color="#8d0ba5"/><stop offset=".075" stop-color="#a21d9a"/><stop offset=".093" stop-color="#b7318a"/><stop offset=".133" stop-color="#c8437b"/><stop offset=".175" stop-color="#cd4a76"/><stop offset=".238" stop-color="#dd5e66"/><stop offset=".278" stop-color="#ea7457"/><stop offset=".331" stop-color="#fa9b3d"/><stop offset=".371" stop-color="#fdb52e"/><stop offset=".411" stop-color="#fdcb26"/><stop offset=".439" stop-color="#fbd724"/><stop offset=".504" stop-color="#f5e926"/><stop offset=".566" stop-color="#f3f027"/><stop offset=".677" stop-color="#f1f426"/><stop offset=".752" stop-color="#f0f724"/><stop offset=".754" stop-color="#f0f921"/><stop offset="1.000" stop-color="#f0f921"/></linearGradient>
<linearGradient id="g306" gradientUnits="userSpaceOnUse" x1="0" y1="552.25" x2="0" y2="962.197"><stop offset=".000" stop-color="#4c02a1"/><stop offset=".053" stop-color="#5801a4"/><stop offset=".055" stop-color="#5b01a5"/><stop offset=".063" stop-color="#7801a8"/><stop offset=".065" stop-color="#8305a7"/><stop offset=".075" stop-color="#9d189d"/><stop offset=".090" stop-color="#b22b8f"/><stop offset=".115" stop-color="#c23c81"/><stop offset=".140" stop-color="#c9447a"/><stop offset=".173" stop-color="#cc4977"/><stop offset=".243" stop-color="#de5f65"/><stop offset=".288" stop-color="#ed7a52"/><stop offset=".333" stop-color="#fa9c3c"/><stop offset=".361" stop-color="#fdaf31"/><stop offset=".419" stop-color="#fcce25"/><stop offset=".486" stop-color="#f6e626"/><stop offset=".516" stop-color="#f5eb27"/><stop offset=".566" stop-color="#f3f027"/><stop offset=".677" stop-color="#f1f426"/><stop offset=".752" stop-color="#f0f724"/><stop offset=".754" stop-color="#f0f921"/><stop offset="1.000" stop-color="#f0f921"/></linearGradient>
<linearGradient id="g307" gradientUnits="userSpaceOnUse" x1="0" y1="552.25" x2="0" y2="962.197"><stop offset=".000" stop-color="#5002a2"/><stop offset=".065" stop-color="#5e01a6"/><stop offset=".073" stop-color="#7401a8"/><stop offset=".078" stop-color="#8305a7"/><stop offset=".093" stop-color="#a82296"/><stop offset=".115" stop-color="#be3885"/><stop offset=".135" stop-color="#c7427c"/><stop offset=".178" stop-color="#ce4b75"/><stop offset=".248" stop-color="#e16462"/><stop offset=".291" stop-color="#ef7e50"/><stop offset=".333" stop-color="#fa9e3b"/><stop offset=".383" stop-color="#febd2a"/><stop offset=".434" stop-color="#fbd524"/><stop offset=".486" stop-color="#f6e626"/><stop offset=".539" stop-color="#f3ee27"/><stop offset=".714" stop-color="#f1f525"/><stop offset=".752" stop-color="#f0f724"/><stop offset=".754" stop-color="#f0f921"/><stop offset="1.000" stop-color="#f0f921"/></linearGradient>
<linearGradient id="g308" gradientUnits="userSpaceOnUse" x1="0" y1="552.25" x2="0" y2="962.197"><stop offset=".000" stop-color="#5102a3"/><stop offset=".043" stop-color="#5b01a5"/><stop offset=".045" stop-color="#6001a6"/><stop offset=".055" stop-color="#8004a8"/><stop offset=".065" stop-color="#99159f"/><stop offset=".075" stop-color="#aa2395"/><stop offset=".098" stop-color="#bd3786"/><stop offset=".135" stop-color="#cc4778"/><stop offset=".173" stop-color="#d35171"/><stop offset=".228" stop-color="#e26660"/><stop offset=".268" stop-color="#ee7b51"/><stop offset=".318" stop-color="#fa9e3b"/><stop offset=".358" stop-color="#feb72d"/><stop offset=".409" stop-color="#fcce25"/><stop offset=".484" stop-color="#f6e626"/><stop offset=".539" stop-color="#f3ee27"/><stop offset=".714" stop-color="#f1f525"/><stop offset=".752" stop-color="#f0f724"/><stop offset=".754" stop-color="#f0f921"/><stop offset="1.000" stop-color="#f0f921"/></linearGradient>
<linearGradient id="g309" gradientUnits="userSpaceOnUse" x1="0" y1="552.25" x2="0" y2="962.197"><stop offset=".000" stop-color="#4c02a1"/><stop offset=".033" stop-color="#5302a3"/><stop offset=".040" stop-color="#5b01a5"/><stop offset=".043" stop-color="#5e01a6"/><stop offset=".050" stop-color="#7801a8"/><stop offset=".055" stop-color="#8808a6"/><stop offset=".065" stop-color="#9e199d"/><stop offset=".075" stop-color="#ac2694"/><stop offset=".090" stop-color="#b83289"/><stop offset=".135" stop-color="#c9447a"/><stop offset=".173" stop-color="#cd4a76"/><stop offset=".243" stop-color="#df6263"/><stop offset=".288" stop-color="#ef7c51"/><stop offset=".331" stop-color="#fa9c3c"/><stop offset=".386" stop-color="#febe2a"/><stop offset=".421" stop-color="#fcd025"/><stop offset=".486" stop-color="#f6e626"/><stop offset=".539" stop-color="#f3ee27"/><stop offset=".714" stop-color="#f1f525"/><stop offset=".752" stop-color="#f0f724"/><stop offset=".754" stop-color="#f0f921"/><stop offset="1.000" stop-color="#f0f921"/></linearGradient>
<linearGradient id="g310" gradientUnits="userSpaceOnUse" x1="0" y1="552.25" x2="0" y2="962.197"><stop offset=".000" stop-color="#7201a8"/><stop offset=".033" stop-color="#7801a8"/><stop offset=".043" stop-color="#8b0aa5"/><stop offset=".050" stop-color="#9a169f"/><stop offset=".063" stop-color="#ac2694"/><stop offset=".083" stop-color="#bb3488"/><stop offset=".113" stop-color="#c6417d"/><stop offset=".173" stop-color="#d14e72"/><stop offset=".231" stop-color="#e16462"/><stop offset=".271" stop-color="#ed7953"/><stop offset=".336" stop-color="#fca636"/><stop offset=".401" stop-color="#fdca26"/><stop offset=".491" stop-color="#f6e826"/><stop offset=".539" stop-color="#f3ee27"/><stop offset=".714" stop-color="#f1f525"/><stop offset=".752" stop-color="#f0f724"/><stop offset=".754" stop-color="#f0f921"/><stop offset="1.000" stop-color="#f0f921"/></linearGradient>
<linearGradient id="g311" gradientUnits="userSpaceOnUse" x1="0" y1="552.25" x2="0" y2="962.197"><stop offset=".000" stop-color="#7b02a8"/><stop offset=".023" stop-color="#8808a6"/><stop offset=".035" stop-color="#a11b9b"/><stop offset=".053" stop-color="#b32c8e"/><stop offset=".088" stop-color="#c13b82"/><stop offset=".138" stop-color="#cb4679"/><stop offset=".175" stop-color="#ce4b75"/><stop offset=".233" stop-color="#dd5e66"/><stop offset=".273" stop-color="#e97257"/><stop offset=".321" stop-color="#f89540"/><stop offset=".363" stop-color="#fdb22f"/><stop offset=".414" stop-color="#fccd25"/><stop offset=".486" stop-color="#f6e626"/><stop offset=".539" stop-color="#f3ee27"/><stop offset=".714" stop-color="#f1f525"/><stop offset=".752" stop-color="#f0f724"/><stop offset=".754" stop-color="#f0f921"/><stop offset="1.000" stop-color="#f0f921"/></linearGradient>
<linearGradient id="g312" gradientUnits="userSpaceOnUse" x1="0" y1="552.25" x2="0" y2="962.197"><stop offset=".000" stop-color="#8004a8"/><stop offset=".055" stop-color="#8b0aa5"/><stop offset=".075" stop-color="#a82296"/><stop offset=".083" stop-color="#b02991"/><stop offset=".093" stop-color="#b7318a"/><stop offset=".118" stop-color="#c33d80"/><stop offset=".178" stop-color="#ce4b75"/><stop offset=".238" stop-color="#de5f65"/><stop offset=".276" stop-color="#ea7457"/><stop offset=".311" stop-color="#f68d45"/><stop offset=".353" stop-color="#fdac33"/><stop offset=".404" stop-color="#fdc827"/><stop offset=".486" stop-color="#f6e626"/><stop offset=".539" stop-color="#f3ee27"/><stop offset=".714" stop-color="#f1f525"/><stop offset=".752" stop-color="#f0f724"/><stop offset=".754" stop-color="#f0f921"/><stop offset="1.000" stop-color="#f0f921"/></linearGradient>
<linearGradient id="g313" gradientUnits="userSpaceOnUse" x1="0" y1="552.25" x2="0" y2="962.197"><stop offset=".000" stop-color="#910ea3"/><stop offset=".043" stop-color="#9814a0"/><stop offset=".065" stop-color="#b12a90"/><stop offset=".100" stop-color="#c23c81"/><stop offset=".135" stop-color="#cc4778"/><stop offset=".173" stop-color="#d14e72"/><stop offset=".233" stop-color="#e26561"/><stop offset=".268" stop-color="#ec7754"/><stop offset=".313" stop-color="#f9973f"/><stop offset=".363" stop-color="#feb72d"/><stop offset=".401" stop-color="#fdca26"/><stop offset=".434" stop-color="#fbd724"/><stop offset=".491" stop-color="#f6e826"/><stop offset=".539" stop-color="#f3ee27"/><stop offset=".714" stop-color="#f1f525"/><stop offset=".752" stop-color="#f0f724"/><stop offset=".754" stop-color="#f0f921"/><stop offset="1.000" stop-color="#f0f921"/></linearGradient>
<linearGradient id="g314" gradientUnits="userSpaceOnUse" x1="0" y1="552.25" x2="0" y2="962.197"><stop offset=".000" stop-color="#8f0da4"/><stop offset=".043" stop-color="#9613a1"/><stop offset=".065" stop-color="#b02991"/><stop offset=".093" stop-color="#be3885"/><stop offset=".135" stop-color="#c8437b"/><stop offset=".175" stop-color="#cc4778"/><stop offset=".238" stop-color="#da5b69"/><stop offset=".271" stop-color="#e56b5d"/><stop offset=".326" stop-color="#f89441"/><stop offset=".353" stop-color="#fca835"/><stop offset=".406" stop-color="#fdc827"/><stop offset=".486" stop-color="#f6e626"/><stop offset=".541" stop-color="#f3ee27"/><stop offset=".714" stop-color="#f1f525"/><stop offset=".752" stop-color="#f0f724"/><stop offset=".754" stop-color="#f0f921"/><stop offset="1.000" stop-color="#f0f921"/></linearGradient>
<linearGradient id="g315" x1="0" y1="0" x2="0" y2="1"><stop offset="0.0000" stop-color="#0d0887"/><stop offset="0.0417" stop-color="#260591"/><stop offset="0.0833" stop-color="#3a049a"/><stop offset="0.1250" stop-color="#4b03a1"/><stop offset="0.1667" stop-color="#5c01a6"/><stop offset="0.2083" stop-color="#6e00a8"/><stop offset="0.2500" stop-color="#7d03a8"/><stop offset="0.2917" stop-color="#8d0ba5"/><stop offset="0.3333" stop-color="#9c179e"/><stop offset="0.3750" stop-color="#a82296"/><stop offset="0.4167" stop-color="#b52f8c"/><stop offset="0.4583" stop-color="#c13b82"/><stop offset="0.5000" stop-color="#cb4679"/><stop offset="0.5417" stop-color="#d5536f"/><stop offset="0.5833" stop-color="#de5f65"/><stop offset="0.6250" stop-color="#e56b5d"/><stop offset="0.6667" stop-color="#ed7953"/><stop offset="0.7083" stop-color="#f3874a"/><stop offset="0.7500" stop-color="#f89441"/><stop offset="0.7917" stop-color="#fca338"/><stop offset="0.8333" stop-color="#fdb42f"/><stop offset="0.8750" stop-color="#fdc328"/><stop offset="0.9167" stop-color="#fbd524"/><stop offset="0.9583" stop-color="#f6e826"/><stop offset="1.0000" stop-color="#f0f921"/></linearGradient>
</defs>
<text x="699.95" y="32" font-size="16.667" text-anchor="middle" letter-spacing="0.04">2901563, 261 profiles, 2014-03-28 to 2016-03-17</text>
<text x="306" y="57" font-size="16.667" text-anchor="middle">TEMP</text>
<rect x="160" y="66" width="1" height="217.3" fill="url(#g1)"/>
<rect x="161" y="66" width="1" height="218" fill="url(#g2)"/>
<rect x="162" y="66" width="1" height="217.3" fill="url(#g3)"/>
<rect x="163" y="66" width="1" height="217.3" fill="url(#g4)"/>
<rect x="164" y="66" width="1" height="218" fill="url(#g5)"/>
<rect x="165" y="66" width="1" height="218.7" fill="url(#g6)"/>
<rect x="166" y="66" width="1" height="233.8" fill="url(#g7)"/>
<rect x="167" y="66" width="1" height="216.1" fill="url(#g8)"/>
<rect x="168" y="66" width="1" height="218" fill="url(#g9)"/>
<rect x="169" y="66" width="1" height="217.3" fill="url(#g10)"/>
<rect x="170" y="66" width="1" height="219.5" fill="url(#g11)"/>
<rect x="171" y="66" width="1" height="216.1" fill="url(#g12)"/>
<rect x="172" y="66" width="1" height="226.6" fill="url(#g13)"/>
<rect x="173" y="66" width="1" height="217.3" fill="url(#g14)"/>
<rect x="174" y="66" width="1" height="222.7" fill="url(#g15)"/>
<rect x="175" y="66" width="1" height="216.1" fill="url(#g16)"/>
<rect x="176" y="66" width="1" height="215.7" fill="url(#g17)"/>
<rect x="177" y="66" width="1" height="218" fill="url(#g18)"/>
<rect x="178" y="66" width="1" height="220.7" fill="url(#g19)"/>
<rect x="179" y="66" width="1" height="218.7" fill="url(#g20)"/>
<rect x="181" y="66" width="1" height="219.5" fill="url(#g21)"/>
<rect x="182" y="66" width="1" height="218.7" fill="url(#g22)"/>
<rect x="183" y="66" width="1" height="216.1" fill="url(#g23)"/>
<rect x="184" y="66" width="1" height="218.7" fill="url(#g24)"/>
<rect x="185" y="66" width="1" height="215.3" fill="url(#g25)"/>
<rect x="186" y="66" width="1" height="218" fill="url(#g26)"/>
<rect x="187" y="66" width="1" height="220.7" fill="url(#g27)"/>
<rect x="188" y="66" width="1" height="215.3" fill="url(#g28)"/>
<rect x="189" y="66" width="1" height="215.3" fill="url(#g29)"/>
<rect x="190" y="66" width="1" height="216.5" fill="url(#g30)"/>
<rect x="191" y="66" width="1" height="216.5" fill="url(#g31)"/>
<rect x="192" y="66" width="1" height="214.5" fill="url(#g32)"/>
<rect x="193" y="66" width="1" height="215.3" fill="url(#g33)"/>
<rect x="194" y="66" width="1" height="217.3" fill="url(#g34)"/>
<rect x="195" y="66" width="1" height="243.8" fill="url(#g35)"/>
<rect x="196" y="66" width="1" height="217.3" fill="url(#g36)"/>
<rect x="197" y="66" width="1" height="220.7" fill="url(#g37)"/>
<rect x="198" y="66" width="1" height="216.5" fill="url(#g38)"/>
<rect x="199" y="66" width="1" height="218" fill="url(#g39)"/>
<rect x="201" y="66" width="1" height="216.5" fill="url(#g40)"/>
<rect x="202" y="66" width="1" height="217.3" fill="url(#g41)"/>
<rect x="203" y="66" width="1" height="215.3" fill="url(#g42)"/>
<rect x="204" y="66" width="1" height="225" fill="url(#g43)"/>
<rect x="205" y="66" width="1" height="227.7" fill="url(#g44)"/>
<rect x="206" y="66" width="1" height="216.5" fill="url(#g45)"/>
<rect x="207" y="66" width="1" height="230.6" fill="url(#g46)"/>
<rect x="208" y="66" width="1" height="239.8" fill="url(#g47)"/>
<rect x="209" y="66" width="1" height="215.7" fill="url(#g48)"/>
<rect x="210" y="66" width="1" height="225.6" fill="url(#g49)"/>
<rect x="211" y="66" width="1" height="216.5" fill="url(#g50)"/>
<rect x="212" y="66" width="1" height="216.5" fill="url(#g51)"/>
<rect x="213" y="66" width="1" height="218" fill="url(#g52)"/>
<rect x="214" y="66" width="1" height="216.5" fill="url(#g53)"/>
<rect x="215" y="66" width="1" height="215.3" fill="url(#g54)"/>
<rect x="216" y="66" width="1" height="226.6" fill="url(#g55)"/>
<rect x="217" y="66" width="1" height="228.8" fill="url(#g56)"/>
<rect x="218" y="66" width="1" height="215.7" fill="url(#g57)"/>
<rect x="219" y="66" width="1" height="246.9" fill="url(#g58)"/>
<rect x="220" y="66" width="1" height="219.9" fill="url(#g59)"/>
<rect x="221" y="66" width="1" height="219.9" fill="url(#g60)"/>
<rect x="222" y="66" width="1" height="243.8" fill="url(#g61)"/>
<rect x="223" y="66" width="1" height="215.7" fill="url(#g62)"/>
<rect x="224" y="66" width="1" height="215.3" fill="url(#g63)"/>
<rect x="225" y="66" width="1" height="215.3" fill="url(#g64)"/>
<rect x="226" y="66" width="1" height="216.5" fill="url(#g65)"/>
<rect x="227" y="66" width="1" height="220.7" fill="url(#g66)"/>
<rect x="228" y="66" width="1" height="213" fill="url(#g67)"/>
<rect x="229" y="66" width="1" height="217.3" fill="url(#g68)"/>
<rect x="230" y="66" width="1" height="216.9" fill="url(#g69)"/>
<rect x="231" y="66" width="1" height="216.9" fill="url(#g70)"/>
<rect x="232" y="66" width="1" height="216.9" fill="url(#g71)"/>
<rect x="233" y="66" width="1" height="215.7" fill="url(#g72)"/>
<rect x="234" y="66" width="1" height="218.7" fill="url(#g73)"/>
<rect x="235" y="66" width="1" height="216.5" fill="url(#g74)"/>
<rect x="236" y="66" width="1" height="216.5" fill="url(#g75)"/>
<rect x="237" y="66" width="1" height="216.5" fill="url(#g76)"/>
<rect x="238" y="66" width="1" height="226.9" fill="url(#g77)"/>
<rect x="239" y="66" width="1" height="216.5" fill="url(#g78)"/>
<rect x="240" y="66" width="1" height="216.5" fill="url(#g79)"/>
<rect x="241" y="66" width="1" height="215.3" fill="url(#g80)"/>
<rect x="242" y="66" width="1" height="216.9" fill="url(#g81)"/>
<rect x="243" y="66" width="1" height="215.7" fill="url(#g82)"/>
<rect x="244" y="66" width="1" height="216.1" fill="url(#g83)"/>
<rect x="269" y="66" width="1" height="403" fill="url(#g84)"/>
<rect x="273" y="66" width="1" height="403" fill="url(#g85)"/>
<rect x="277" y="66" width="1" height="403" fill="url(#g86)"/>
<rect x="281" y="66" width="1" height="403" fill="url(#g87)"/>
<rect x="310" y="66" width="1" height="403" fill="url(#g88)"/>
<rect x="314" y="66" width="1" height="397" fill="url(#g89)"/>
<rect x="318" y="66" width="1" height="408" fill="url(#g90)"/>
<rect x="322" y="66" width="1" height="403" fill="url(#g91)"/>
<rect x="355" y="66" width="1" height="397" fill="url(#g92)"/>
<rect x="359" y="66" width="1" height="397" fill="url(#g93)"/>
<rect x="363" y="66" width="1" height="403" fill="url(#g94)"/>
<rect x="367" y="66" width="1" height="403" fill="url(#g95)"/>
<rect x="396" y="66" width="1" height="403" fill="url(#g96)"/>
<rect x="400" y="66" width="1" height="403" fill="url(#g97)"/>
<rect x="404" y="66" width="1" height="397" fill="url(#g98)"/>
<rect x="408" y="66" width="1" height="397" fill="url(#g99)"/>
<rect x="412" y="66" width="1" height="403" fill="url(#g100)"/>
<rect x="437" y="66" width="1" height="403" fill="url(#g101)"/>
<rect x="441" y="66" width="1" height="403" fill="url(#g102)"/>
<rect x="445" y="66" width="1" height="403" fill="url(#g103)"/>
<rect x="449" y="66" width="1" height="403" fill="url(#g104)"/>
<path d="M159.5 65.5H454.5V474.5H159.5Z" fill="none" stroke="#000" stroke-width="1.05"/>
<rect x="154.1" y="65" width="4.9" height="1" fill="#000" shape-rendering="geometricPrecision"/>
<text x="149.7" y="71" font-size="13.889" text-anchor="end">0</text>
<rect x="154.1" y="121" width="4.9" height="1" fill="#000" shape-rendering="geometricPrecision"/>
<text x="148.5" y="126" font-size="13.889" text-anchor="end">250</text>
<rect x="154.1" y="177" width="4.9" height="1" fill="#000" shape-rendering="geometricPrecision"/>
<text x="148.5" y="182" font-size="13.889" text-anchor="end">500</text>
<rect x="154.1" y="232" width="4.9" height="1" fill="#000" shape-rendering="geometricPrecision"/>
<text x="148.5" y="238" font-size="13.889" text-anchor="end">750</text>
<rect x="154.1" y="288" width="4.9" height="1" fill="#000" shape-rendering="geometricPrecision"/>
<text x="148.5" y="293" font-size="13.889" text-anchor="end">1000</text>
<rect x="154.1" y="344" width="4.9" height="1" fill="#000" shape-rendering="geometricPrecision"/>
<text x="148.5" y="349" font-size="13.889" text-anchor="end">1250</text>
<rect x="154.1" y="399" width="4.9" height="1" fill="#000" shape-rendering="geometricPrecision"/>
<text x="148.5" y="405" font-size="13.889" text-anchor="end">1500</text>
<rect x="154.1" y="455" width="4.9" height="1" fill="#000" shape-rendering="geometricPrecision"/>
<text x="148.5" y="460" font-size="13.889" text-anchor="end">1750</text>
<rect x="198" y="475" width="1" height="4.8" fill="#000" shape-rendering="geometricPrecision"/>
<text x="198.5" y="495" font-size="13.889" text-anchor="middle">2014.5</text>
<rect x="273" y="475" width="1" height="4.8" fill="#000" shape-rendering="geometricPrecision"/>
<text x="273.1" y="495" font-size="13.889" text-anchor="middle">2015.0</text>
<rect x="348" y="475" width="1" height="4.8" fill="#000" shape-rendering="geometricPrecision"/>
<text x="347.3" y="495" font-size="13.889" text-anchor="middle">2015.5</text>
<rect x="422" y="475" width="1" height="4.8" fill="#000" shape-rendering="geometricPrecision"/>
<text x="421.9" y="495" font-size="13.889" text-anchor="middle">2016.0</text>
<rect x="472.5" y="65.5" width="20" height="409" fill="url(#g105)"/>
<path d="M472.5 65.5H492.5V474.5H472.5Z" fill="none" stroke="#000" stroke-width="1.05"/>
<rect x="493" y="434" width="4.8" height="1" fill="#000" shape-rendering="geometricPrecision"/>
<text x="502" y="440" font-size="13.889" text-anchor="start">5</text>
<rect x="493" y="364" width="4.8" height="1" fill="#000" shape-rendering="geometricPrecision"/>
<text x="502" y="370" font-size="13.889" text-anchor="start">10</text>
<rect x="493" y="294" width="4.8" height="1" fill="#000" shape-rendering="geometricPrecision"/>
<text x="502" y="299" font-size="13.889" text-anchor="start">15</text>
<rect x="493" y="224" width="4.8" height="1" fill="#000" shape-rendering="geometricPrecision"/>
<text x="502" y="229" font-size="13.889" text-anchor="start">20</text>
<rect x="493" y="154" width="4.8" height="1" fill="#000" shape-rendering="geometricPrecision"/>
<text x="502" y="159" font-size="13.889" text-anchor="start">25</text>
<rect x="493" y="84" width="4.8" height="1" fill="#000" shape-rendering="geometricPrecision"/>
<text x="502" y="89" font-size="13.889" text-anchor="start">30</text>
<text x="734.4" y="57" font-size="16.667" text-anchor="middle">TEMP_ADJUSTED</text>
<rect x="588" y="66" width="1" height="230.6" fill="url(#g106)"/>
<rect x="589" y="66" width="1" height="216.5" fill="url(#g107)"/>
<rect x="590" y="66" width="1" height="218" fill="url(#g108)"/>
<rect x="591" y="66" width="1" height="216.5" fill="url(#g109)"/>
<rect x="592" y="66" width="1" height="216.1" fill="url(#g110)"/>
<rect x="593" y="66" width="1" height="216.9" fill="url(#g111)"/>
<rect x="594" y="66" width="1" height="215.3" fill="url(#g112)"/>
<rect x="595" y="66" width="1" height="233.8" fill="url(#g113)"/>
<rect x="596" y="66" width="1" height="217.3" fill="url(#g114)"/>
<rect x="597" y="66" width="1" height="216.5" fill="url(#g115)"/>
<rect x="598" y="66" width="1" height="217.3" fill="url(#g116)"/>
<rect x="599" y="66" width="1" height="219.5" fill="url(#g117)"/>
<rect x="600" y="66" width="1" height="216.5" fill="url(#g118)"/>
<rect x="601" y="66" width="1" height="218" fill="url(#g119)"/>
<rect x="602" y="66" width="1" height="215.3" fill="url(#g120)"/>
<rect x="603" y="66" width="1" height="218.7" fill="url(#g121)"/>
<rect x="604" y="66" width="1" height="216.1" fill="url(#g122)"/>
<rect x="605" y="66" width="1" height="226.6" fill="url(#g123)"/>
<rect x="606" y="66" width="1" height="216.5" fill="url(#g124)"/>
<rect x="607" y="66" width="1" height="221" fill="url(#g125)"/>
<rect x="608" y="66" width="1" height="216.5" fill="url(#g126)"/>
<rect x="610" y="66" width="1" height="215.3" fill="url(#g127)"/>
<rect x="611" y="66" width="1" height="218.7" fill="url(#g128)"/>
<rect x="612" y="66" width="1" height="216.5" fill="url(#g129)"/>
<rect x="613" y="66" width="1" height="215.7" fill="url(#g130)"/>
<rect x="614" y="66" width="1" height="222.7" fill="url(#g131)"/>
<rect x="615" y="66" width="1" height="216.5" fill="url(#g132)"/>
<rect x="616" y="66" width="1" height="221" fill="url(#g133)"/>
<rect x="617" y="66" width="1" height="215.7" fill="url(#g134)"/>
<rect x="618" y="66" width="1" height="215.3" fill="url(#g135)"/>
<rect x="619" y="66" width="1" height="215.3" fill="url(#g136)"/>
<rect x="620" y="66" width="1" height="218" fill="url(#g137)"/>
<rect x="621" y="66" width="1" height="216.5" fill="url(#g138)"/>
<rect x="622" y="66" width="1" height="215.7" fill="url(#g139)"/>
<rect x="623" y="66" width="1" height="216.9" fill="url(#g140)"/>
<rect x="624" y="66" width="1" height="243.8" fill="url(#g141)"/>
<rect x="625" y="66" width="1" height="215.7" fill="url(#g142)"/>
<rect x="626" y="66" width="1" height="220.5" fill="url(#g143)"/>
<rect x="627" y="66" width="1" height="216.1" fill="url(#g144)"/>
<rect x="628" y="66" width="1" height="218" fill="url(#g145)"/>
<rect x="630" y="66" width="1" height="220.6" fill="url(#g146)"/>
<rect x="631" y="66" width="1" height="218" fill="url(#g147)"/>
<rect x="632" y="66" width="1" height="216.1" fill="url(#g148)"/>
<rect x="633" y="66" width="1" height="225" fill="url(#g149)"/>
<rect x="634" y="66" width="1" height="227.7" fill="url(#g150)"/>
<rect x="635" y="66" width="1" height="216.1" fill="url(#g151)"/>
<rect x="636" y="66" width="1" height="230.6" fill="url(#g152)"/>
<rect x="637" y="66" width="1" height="224.9" fill="url(#g153)"/>
<rect x="638" y="66" width="1" height="224.9" fill="url(#g154)"/>
<rect x="639" y="66" width="1" height="218.7" fill="url(#g155)"/>
<rect x="640" y="66" width="1" height="216.9" fill="url(#g156)"/>
<rect x="641" y="66" width="1" height="218.7" fill="url(#g157)"/>
<rect x="642" y="66" width="1" height="217.3" fill="url(#g158)"/>
<rect x="643" y="66" width="1" height="217.3" fill="url(#g159)"/>
<rect x="644" y="66" width="1" height="218.7" fill="url(#g160)"/>
<rect x="645" y="66" width="1" height="226.9" fill="url(#g161)"/>
<rect x="646" y="66" width="1" height="218" fill="url(#g162)"/>
<rect x="647" y="66" width="1" height="215.3" fill="url(#g163)"/>
<rect x="648" y="66" width="1" height="215.7" fill="url(#g164)"/>
<rect x="649" y="66" width="1" height="220" fill="url(#g165)"/>
<rect x="650" y="66" width="1" height="220" fill="url(#g166)"/>
<rect x="651" y="66" width="1" height="243.8" fill="url(#g167)"/>
<rect x="652" y="66" width="1" height="216.5" fill="url(#g168)"/>
<rect x="653" y="66" width="1" height="216.9" fill="url(#g169)"/>
<rect x="654" y="66" width="1" height="216.5" fill="url(#g170)"/>
<rect x="655" y="66" width="1" height="227.7" fill="url(#g171)"/>
<rect x="656" y="66" width="1" height="221" fill="url(#g172)"/>
<rect x="657" y="66" width="1" height="216.5" fill="url(#g173)"/>
<rect x="658" y="66" width="1" height="216.5" fill="url(#g174)"/>
<rect x="659" y="66" width="1" height="216.5" fill="url(#g175)"/>
<rect x="660" y="66" width="1" height="216.5" fill="url(#g176)"/>
<rect x="661" y="66" width="1" height="218" fill="url(#g177)"/>
<rect x="662" y="66" width="1" height="218.7" fill="url(#g178)"/>
<rect x="663" y="66" width="1" height="218" fill="url(#g179)"/>
<rect x="664" y="66" width="1" height="216.1" fill="url(#g180)"/>
<rect x="665" y="66" width="1" height="215.3" fill="url(#g181)"/>
<rect x="666" y="66" width="1" height="216.9" fill="url(#g182)"/>
<rect x="667" y="66" width="1" height="226.9" fill="url(#g183)"/>
<rect x="668" y="66" width="1" height="215.3" fill="url(#g184)"/>
<rect x="669" y="66" width="1" height="218" fill="url(#g185)"/>
<rect x="670" y="66" width="1" height="215.3" fill="url(#g186)"/>
<rect x="671" y="66" width="1" height="216.5" fill="url(#g187)"/>
<rect x="672" y="66" width="1" height="216.9" fill="url(#g188)"/>
<rect x="673" y="66" width="1" height="215.3" fill="url(#g189)"/>
<rect x="702" y="66" width="1" height="403" fill="url(#g190)"/>
<rect x="706" y="66" width="1" height="403" fill="url(#g191)"/>
<rect x="710" y="66" width="1" height="403" fill="url(#g192)"/>
<rect x="714" y="66" width="1" height="408" fill="url(#g193)"/>
<rect x="743" y="66" width="1" height="397" fill="url(#g194)"/>
<rect x="747" y="66" width="1" height="408" fill="url(#g195)"/>
<rect x="751" y="66" width="1" height="403" fill="url(#g196)"/>
<rect x="755" y="66" width="1" height="397" fill="url(#g197)"/>
<rect x="759" y="66" width="1" height="403" fill="url(#g198)"/>
<rect x="788" y="66" width="1" height="397" fill="url(#g199)"/>
<rect x="792" y="66" width="1" height="403" fill="url(#g200)"/>
<rect x="796" y="66" width="1" height="403" fill="url(#g201)"/>
<rect x="800" y="66" width="1" height="403" fill="url(#g202)"/>
<rect x="833" y="66" width="1" height="397" fill="url(#g203)"/>
<rect x="837" y="66" width="1" height="397" fill="url(#g204)"/>
<rect x="841" y="66" width="1" height="403" fill="url(#g205)"/>
<rect x="845" y="66" width="1" height="403" fill="url(#g206)"/>
<rect x="870" y="66" width="1" height="403" fill="url(#g207)"/>
<rect x="874" y="66" width="1" height="403" fill="url(#g208)"/>
<rect x="878" y="66" width="1" height="403" fill="url(#g209)"/>
<path d="M587.5 65.5H882.5V474.5H587.5Z" fill="none" stroke="#000" stroke-width="1.05"/>
<rect x="582.1" y="65" width="4.9" height="1" fill="#000" shape-rendering="geometricPrecision"/>
<text x="578.6" y="71" font-size="13.889" text-anchor="end">0</text>
<rect x="582.1" y="121" width="4.9" height="1" fill="#000" shape-rendering="geometricPrecision"/>
<text x="577.4" y="126" font-size="13.889" text-anchor="end">250</text>
<rect x="582.1" y="177" width="4.9" height="1" fill="#000" shape-rendering="geometricPrecision"/>
<text x="577.4" y="182" font-size="13.889" text-anchor="end">500</text>
<rect x="582.1" y="232" width="4.9" height="1" fill="#000" shape-rendering="geometricPrecision"/>
<text x="577.4" y="238" font-size="13.889" text-anchor="end">750</text>
<rect x="582.1" y="288" width="4.9" height="1" fill="#000" shape-rendering="geometricPrecision"/>
<text x="577.4" y="293" font-size="13.889" text-anchor="end">1000</text>
<rect x="582.1" y="344" width="4.9" height="1" fill="#000" shape-rendering="geometricPrecision"/>
<text x="577.4" y="349" font-size="13.889" text-anchor="end">1250</text>
<rect x="582.1" y="399" width="4.9" height="1" fill="#000" shape-rendering="geometricPrecision"/>
<text x="577.4" y="405" font-size="13.889" text-anchor="end">1500</text>
<rect x="582.1" y="455" width="4.9" height="1" fill="#000" shape-rendering="geometricPrecision"/>
<text x="577.4" y="460" font-size="13.889" text-anchor="end">1750</text>
<rect x="627" y="475" width="1" height="4.8" fill="#000" shape-rendering="geometricPrecision"/>
<text x="627.5" y="495" font-size="13.889" text-anchor="middle">2014.5</text>
<rect x="702" y="475" width="1" height="4.8" fill="#000" shape-rendering="geometricPrecision"/>
<text x="701.4" y="495" font-size="13.889" text-anchor="middle">2015.0</text>
<rect x="777" y="475" width="1" height="4.8" fill="#000" shape-rendering="geometricPrecision"/>
<text x="776.4" y="495" font-size="13.889" text-anchor="middle">2015.5</text>
<rect x="851" y="475" width="1" height="4.8" fill="#000" shape-rendering="geometricPrecision"/>
<text x="851.2" y="495" font-size="13.889" text-anchor="middle">2016.0</text>
<rect x="901.5" y="65.5" width="20" height="409" fill="url(#g210)"/>
<path d="M901.5 65.5H921.5V474.5H901.5Z" fill="none" stroke="#000" stroke-width="1.05"/>
<rect x="922" y="434" width="4.8" height="1" fill="#000" shape-rendering="geometricPrecision"/>
<text x="931" y="440" font-size="13.889" text-anchor="start">5</text>
<rect x="922" y="364" width="4.8" height="1" fill="#000" shape-rendering="geometricPrecision"/>
<text x="931" y="370" font-size="13.889" text-anchor="start">10</text>
<rect x="922" y="294" width="4.8" height="1" fill="#000" shape-rendering="geometricPrecision"/>
<text x="931" y="299" font-size="13.889" text-anchor="start">15</text>
<rect x="922" y="224" width="4.8" height="1" fill="#000" shape-rendering="geometricPrecision"/>
<text x="931" y="229" font-size="13.889" text-anchor="start">20</text>
<rect x="922" y="154" width="4.8" height="1" fill="#000" shape-rendering="geometricPrecision"/>
<text x="931" y="159" font-size="13.889" text-anchor="start">25</text>
<rect x="922" y="84" width="4.8" height="1" fill="#000" shape-rendering="geometricPrecision"/>
<text x="931" y="89" font-size="13.889" text-anchor="start">30</text>
<text x="1164.2" y="57" font-size="16.667" text-anchor="middle">TEMP_ADJUSTED_QC</text>
<rect x="1017" y="66" width="1" height="230.8" fill="#377eb8"/>
<rect x="1018" y="66" width="1" height="216.5" fill="#377eb8"/>
<rect x="1019" y="66" width="1" height="216.1" fill="#377eb8"/>
<rect x="1020" y="66" width="1" height="226.8" fill="#377eb8"/>
<rect x="1021" y="66" width="1" height="216.1" fill="#377eb8"/>
<rect x="1022" y="66" width="1" height="216.5" fill="#377eb8"/>
<rect x="1023" y="66" width="1" height="216.1" fill="#377eb8"/>
<rect x="1024" y="66" width="1" height="233.6" fill="#377eb8"/>
<rect x="1025" y="66" width="1" height="215.7" fill="#377eb8"/>
<rect x="1026" y="66" width="1" height="218" fill="#377eb8"/>
<rect x="1027" y="66" width="1" height="216.5" fill="#377eb8"/>
<rect x="1028" y="66" width="1" height="216.5" fill="#377eb8"/>
<rect x="1029" y="66" width="1" height="215.3" fill="#377eb8"/>
<rect x="1030" y="66" width="1" height="216.9" fill="#377eb8"/>
<rect x="1031" y="66" width="1" height="216.1" fill="#377eb8"/>
<rect x="1032" y="66" width="1" height="218.7" fill="#377eb8"/>
<rect x="1033" y="66" width="1" height="215.3" fill="#377eb8"/>
<rect x="1034" y="66" width="1" height="226.8" fill="#377eb8"/>
<rect x="1035" y="66" width="1" height="216.1" fill="#377eb8"/>
<rect x="1036" y="66" width="1" height="215.7" fill="#377eb8"/>
<rect x="1037" y="66" width="1" height="216.5" fill="#377eb8"/>
<rect x="1038" y="66" width="1" height="217.3" fill="#377eb8"/>
<rect x="1039" y="66" width="1" height="216.9" fill="#377eb8"/>
<rect x="1040" y="66" width="1" height="216.1" fill="#377eb8"/>
<rect x="1041" y="66" width="1" height="216.5" fill="#377eb8"/>
<rect x="1042" y="66" width="1" height="216.5" fill="#377eb8"/>
<rect x="1043" y="66" width="1" height="222.8" fill="#377eb8"/>
<rect x="1044" y="66" width="1" height="217.3" fill="#377eb8"/>
<rect x="1045" y="66" width="1" height="218" fill="#377eb8"/>
<rect x="1046" y="66" width="1" height="218.7" fill="#377eb8"/>
<rect x="1047" y="66" width="1" height="216.9" fill="#377eb8"/>
<rect x="1048" y="66" width="1" height="216.5" fill="#377eb8"/>
<rect x="1049" y="66" width="1" height="216.9" fill="#377eb8"/>
<rect x="1050" y="66" width="1" height="216.5" fill="#377eb8"/>
<rect x="1051" y="66" width="1" height="215.7" fill="#377eb8"/>
<rect x="1052" y="66" width="1" height="216.5" fill="#377eb8"/>
<rect x="1053" y="66" width="1" height="243.8" fill="#377eb8"/>
<rect x="1054" y="66" width="1" height="216.5" fill="#377eb8"/>
<rect x="1055" y="66" width="1" height="217.3" fill="#377eb8"/>
<rect x="1056" y="66" width="1" height="218" fill="#377eb8"/>
<rect x="1057" y="66" width="1" height="218.7" fill="#377eb8"/>
<rect x="1059" y="66" width="1" height="220.8" fill="#377eb8"/>
<rect x="1060" y="66" width="1" height="217.3" fill="#377eb8"/>
<rect x="1061" y="66" width="1" height="218" fill="#377eb8"/>
<rect x="1062" y="66" width="1" height="224.8" fill="#377eb8"/>
<rect x="1063" y="66" width="1" height="216.5" fill="#377eb8"/>
<rect x="1064" y="66" width="1" height="216.5" fill="#377eb8"/>
<rect x="1065" y="66" width="1" height="216.1" fill="#377eb8"/>
<rect x="1066" y="66" width="1" height="224.8" fill="#377eb8"/>
<rect x="1067" y="66" width="1" height="224.8" fill="#377eb8"/>
<rect x="1068" y="66" width="1" height="216.5" fill="#377eb8"/>
<rect x="1069" y="66" width="1" height="216.5" fill="#377eb8"/>
<rect x="1070" y="66" width="1" height="217.3" fill="#377eb8"/>
<rect x="1071" y="66" width="1" height="216.5" fill="#377eb8"/>
<rect x="1072" y="66" width="1" height="222" fill="#377eb8"/>
<rect x="1073" y="66" width="1" height="216.5" fill="#377eb8"/>
<rect x="1074" y="66" width="1" height="185" fill="#377eb8"/>
<rect x="1075" y="66" width="1" height="216.1" fill="#377eb8"/>
<rect x="1076" y="66" width="1" height="218.7" fill="#377eb8"/>
<rect x="1077" y="66" width="1" height="217.3" fill="#377eb8"/>
<rect x="1078" y="66" width="1" height="218" fill="#377eb8"/>
<rect x="1079" y="66" width="1" height="216.5" fill="#377eb8"/>
<rect x="1080" y="66" width="1" height="243.8" fill="#377eb8"/>
<rect x="1081" y="66" width="1" height="216.5" fill="#377eb8"/>
<rect x="1082" y="66" width="1" height="216.5" fill="#377eb8"/>
<rect x="1083" y="66" width="1" height="216.5" fill="#377eb8"/>
<rect x="1084" y="66" width="1" height="227.8" fill="#377eb8"/>
<rect x="1085" y="66" width="1" height="215.7" fill="#377eb8"/>
<rect x="1086" y="66" width="1" height="216.9" fill="#377eb8"/>
<rect x="1087" y="66" width="1" height="217.3" fill="#377eb8"/>
<rect x="1088" y="66" width="1" height="226.8" fill="#377eb8"/>
<rect x="1089" y="66" width="1" height="215.3" fill="#377eb8"/>
<rect x="1090" y="66" width="1" height="216.9" fill="#377eb8"/>
<rect x="1091" y="66" width="1" height="215.3" fill="#377eb8"/>
<rect x="1092" y="66" width="1" height="220" fill="#377eb8"/>
<rect x="1093" y="66" width="1" height="216.1" fill="#377eb8"/>
<rect x="1094" y="66" width="1" height="217.3" fill="#377eb8"/>
<rect x="1095" y="66" width="1" height="217.3" fill="#377eb8"/>
<rect x="1096" y="66" width="1" height="226.8" fill="#377eb8"/>
<rect x="1097" y="66" width="1" height="216.1" fill="#377eb8"/>
<rect x="1098" y="66" width="1" height="216.9" fill="#377eb8"/>
<rect x="1099" y="66" width="1" height="216.5" fill="#377eb8"/>
<rect x="1100" y="66" width="1" height="216.5" fill="#377eb8"/>
<rect x="1101" y="66" width="1" height="216.5" fill="#377eb8"/>
<rect x="1102" y="66" width="1" height="216.5" fill="#377eb8"/>
<rect x="1072" y="98" width="1" height="1" fill="#ff7f00"/>
<rect x="1072" y="100" width="1" height="1" fill="#ff7f00"/>
<rect x="1072" y="102" width="1" height="1" fill="#ff7f00"/>
<rect x="1094" y="147" width="1" height="2.5" fill="#ff7f00"/>
<rect x="1094" y="151" width="1" height="2" fill="#ff7f00"/>
<rect x="1096" y="150" width="1" height="3" fill="#ff7f00"/>
<rect x="1097" y="147" width="1" height="1" fill="#ff7f00"/>
<rect x="1097" y="150.5" width="1" height="2.5" fill="#ff7f00"/>
<rect x="1098" y="147.5" width="1.5" height="2.5" fill="#ff7f00"/>
<rect x="1099" y="151" width="1" height="2" fill="#ff7f00"/>
<rect x="1106.1" y="66" width="0.8" height="397" fill="#377eb8"/>
<rect x="1110.1" y="66" width="0.8" height="403" fill="#377eb8"/>
<rect x="1135.1" y="66" width="0.8" height="403" fill="#377eb8"/>
<rect x="1139.1" y="66" width="0.8" height="403" fill="#377eb8"/>
<rect x="1143.1" y="66" width="0.8" height="408" fill="#377eb8"/>
<rect x="1147.1" y="66" width="0.8" height="403" fill="#377eb8"/>
<rect x="1180.1" y="66" width="0.8" height="403" fill="#377eb8"/>
<rect x="1184.1" y="66" width="0.8" height="397" fill="#377eb8"/>
<rect x="1188.1" y="66" width="0.8" height="403" fill="#377eb8"/>
<rect x="1192.1" y="66" width="0.8" height="403" fill="#377eb8"/>
<rect x="1221.1" y="66" width="0.8" height="403" fill="#377eb8"/>
<rect x="1225.1" y="66" width="0.8" height="403" fill="#377eb8"/>
<rect x="1229.1" y="66" width="0.8" height="403" fill="#377eb8"/>
<rect x="1233.1" y="66" width="0.8" height="408" fill="#377eb8"/>
<rect x="1237.1" y="66" width="0.8" height="408" fill="#377eb8"/>
<rect x="1266.1" y="66" width="0.8" height="397" fill="#377eb8"/>
<rect x="1270.1" y="66" width="0.8" height="403" fill="#377eb8"/>
<rect x="1274.1" y="66" width="0.8" height="403" fill="#377eb8"/>
<rect x="1278.1" y="66" width="0.8" height="403" fill="#377eb8"/>
<rect x="1307.1" y="66" width="0.8" height="403" fill="#377eb8"/>
<path d="M1016.5 65.5H1311.5V474.5H1016.5Z" fill="none" stroke="#000" stroke-width="1.05"/>
<rect x="1011.1" y="65" width="4.9" height="1" fill="#000" shape-rendering="geometricPrecision"/>
<text x="1007.6" y="71" font-size="13.889" text-anchor="end">0</text>
<rect x="1011.1" y="121" width="4.9" height="1" fill="#000" shape-rendering="geometricPrecision"/>
<text x="1006.4" y="126" font-size="13.889" text-anchor="end">250</text>
<rect x="1011.1" y="177" width="4.9" height="1" fill="#000" shape-rendering="geometricPrecision"/>
<text x="1006.4" y="182" font-size="13.889" text-anchor="end">500</text>
<rect x="1011.1" y="232" width="4.9" height="1" fill="#000" shape-rendering="geometricPrecision"/>
<text x="1006.4" y="238" font-size="13.889" text-anchor="end">750</text>
<rect x="1011.1" y="288" width="4.9" height="1" fill="#000" shape-rendering="geometricPrecision"/>
<text x="1006.4" y="293" font-size="13.889" text-anchor="end">1000</text>
<rect x="1011.1" y="344" width="4.9" height="1" fill="#000" shape-rendering="geometricPrecision"/>
<text x="1006.4" y="349" font-size="13.889" text-anchor="end">1250</text>
<rect x="1011.1" y="399" width="4.9" height="1" fill="#000" shape-rendering="geometricPrecision"/>
<text x="1006.4" y="405" font-size="13.889" text-anchor="end">1500</text>
<rect x="1011.1" y="455" width="4.9" height="1" fill="#000" shape-rendering="geometricPrecision"/>
<text x="1006.4" y="460" font-size="13.889" text-anchor="end">1750</text>
<rect x="1056" y="475" width="1" height="4.8" fill="#000" shape-rendering="geometricPrecision"/>
<text x="1056.1" y="495" font-size="13.889" text-anchor="middle">2014.5</text>
<rect x="1131" y="475" width="1" height="4.8" fill="#000" shape-rendering="geometricPrecision"/>
<text x="1130.3" y="495" font-size="13.889" text-anchor="middle">2015.0</text>
<rect x="1205" y="475" width="1" height="4.8" fill="#000" shape-rendering="geometricPrecision"/>
<text x="1205.1" y="495" font-size="13.889" text-anchor="middle">2015.5</text>
<rect x="1280" y="475" width="1" height="4.8" fill="#000" shape-rendering="geometricPrecision"/>
<text x="1280.2" y="495" font-size="13.889" text-anchor="middle">2016.0</text>
<rect x="1330.5" y="65.25" width="20" height="409.25" fill="#999999" shape-rendering="geometricPrecision"/>
<rect x="1330.5" y="110.706" width="20" height="363.794" fill="#f781bf" shape-rendering="geometricPrecision"/>
<rect x="1330.5" y="156.161" width="20" height="318.339" fill="#a65628" shape-rendering="geometricPrecision"/>
<rect x="1330.5" y="201.617" width="20" height="272.883" fill="#ffff33" shape-rendering="geometricPrecision"/>
<rect x="1330.5" y="247.072" width="20" height="227.428" fill="#ff7f00" shape-rendering="geometricPrecision"/>
<rect x="1330.5" y="292.528" width="20" height="181.972" fill="#984ea3" shape-rendering="geometricPrecision"/>
<rect x="1330.5" y="337.983" width="20" height="136.517" fill="#4daf4a" shape-rendering="geometricPrecision"/>
<rect x="1330.5" y="383.439" width="20" height="91.0611" fill="#377eb8" shape-rendering="geometricPrecision"/>
<rect x="1330.5" y="428.894" width="20" height="45.6056" fill="#e41a1c" shape-rendering="geometricPrecision"/>
<path d="M1330.5 65.5H1350.5V474.5H1330.5Z" fill="none" stroke="#000" stroke-width="1.05"/>
<rect x="1351" y="474" width="4.8" height="1" fill="#000" shape-rendering="geometricPrecision"/>
<text x="1361" y="480" font-size="13.889" text-anchor="start">0</text>
<rect x="1351" y="423" width="4.8" height="1" fill="#000" shape-rendering="geometricPrecision"/>
<text x="1361" y="429" font-size="13.889" text-anchor="start">1</text>
<rect x="1351" y="372" width="4.8" height="1" fill="#000" shape-rendering="geometricPrecision"/>
<text x="1361" y="378" font-size="13.889" text-anchor="start">2</text>
<rect x="1351" y="321" width="4.8" height="1" fill="#000" shape-rendering="geometricPrecision"/>
<text x="1361" y="327" font-size="13.889" text-anchor="start">3</text>
<rect x="1351" y="270" width="4.8" height="1" fill="#000" shape-rendering="geometricPrecision"/>
<text x="1361" y="275" font-size="13.889" text-anchor="start">4</text>
<rect x="1351" y="219" width="4.8" height="1" fill="#000" shape-rendering="geometricPrecision"/>
<text x="1361" y="224" font-size="13.889" text-anchor="start">5</text>
<rect x="1351" y="168" width="4.8" height="1" fill="#000" shape-rendering="geometricPrecision"/>
<text x="1361" y="173" font-size="13.889" text-anchor="start">6</text>
<rect x="1351" y="116" width="4.8" height="1" fill="#000" shape-rendering="geometricPrecision"/>
<text x="1361" y="122" font-size="13.889" text-anchor="start">7</text>
<rect x="1351" y="65" width="4.8" height="1" fill="#000" shape-rendering="geometricPrecision"/>
<text x="1361" y="71" font-size="13.889" text-anchor="start">8</text>
<text x="340.45" y="526" font-size="16.667" text-anchor="middle">Mode. Blue=D, Red=RT, </text>
<text x="340.3" y="544" font-size="16.667" text-anchor="middle" xml:space="preserve"> Gray=Real Time Adjusted</text>
<rect x="160" y="756" width="108" height="3" fill="#1f77b4"/>
<circle cx="271.5" cy="757.5" r="1.6" fill="#1f77b4" shape-rendering="geometricPrecision"/>
<circle cx="276.5" cy="757.5" r="1.6" fill="#1f77b4" shape-rendering="geometricPrecision"/>
<circle cx="281.5" cy="757.5" r="1.6" fill="#1f77b4" shape-rendering="geometricPrecision"/>
<circle cx="287.5" cy="757.5" r="1.6" fill="#1f77b4" shape-rendering="geometricPrecision"/>
<circle cx="292.5" cy="757.5" r="1.6" fill="#1f77b4" shape-rendering="geometricPrecision"/>
<circle cx="297.5" cy="757.5" r="1.6" fill="#1f77b4" shape-rendering="geometricPrecision"/>
<circle cx="302.5" cy="757.5" r="1.6" fill="#1f77b4" shape-rendering="geometricPrecision"/>
<circle cx="307.5" cy="757.5" r="1.6" fill="#1f77b4" shape-rendering="geometricPrecision"/>
<circle cx="312.5" cy="757.5" r="1.6" fill="#1f77b4" shape-rendering="geometricPrecision"/>
<circle cx="317.5" cy="757.5" r="1.6" fill="#1f77b4" shape-rendering="geometricPrecision"/>
<circle cx="322.5" cy="757.5" r="1.6" fill="#1f77b4" shape-rendering="geometricPrecision"/>
<circle cx="328.5" cy="757.5" r="1.6" fill="#1f77b4" shape-rendering="geometricPrecision"/>
<circle cx="333.5" cy="757.5" r="1.6" fill="#1f77b4" shape-rendering="geometricPrecision"/>
<circle cx="338.5" cy="757.5" r="1.6" fill="#1f77b4" shape-rendering="geometricPrecision"/>
<circle cx="343.5" cy="757.5" r="1.6" fill="#1f77b4" shape-rendering="geometricPrecision"/>
<circle cx="348.5" cy="757.5" r="1.6" fill="#1f77b4" shape-rendering="geometricPrecision"/>
<circle cx="353.5" cy="757.5" r="1.6" fill="#1f77b4" shape-rendering="geometricPrecision"/>
<circle cx="358.5" cy="757.5" r="1.6" fill="#1f77b4" shape-rendering="geometricPrecision"/>
<circle cx="363.5" cy="757.5" r="1.6" fill="#1f77b4" shape-rendering="geometricPrecision"/>
<circle cx="369.5" cy="757.5" r="1.6" fill="#1f77b4" shape-rendering="geometricPrecision"/>
<circle cx="374.5" cy="757.5" r="1.6" fill="#1f77b4" shape-rendering="geometricPrecision"/>
<circle cx="379.5" cy="757.5" r="1.6" fill="#1f77b4" shape-rendering="geometricPrecision"/>
<circle cx="384.5" cy="757.5" r="1.6" fill="#1f77b4" shape-rendering="geometricPrecision"/>
<circle cx="389.5" cy="757.5" r="1.6" fill="#1f77b4" shape-rendering="geometricPrecision"/>
<circle cx="394.5" cy="757.5" r="1.6" fill="#1f77b4" shape-rendering="geometricPrecision"/>
<circle cx="399.5" cy="757.5" r="1.6" fill="#1f77b4" shape-rendering="geometricPrecision"/>
<circle cx="404.5" cy="757.5" r="1.6" fill="#1f77b4" shape-rendering="geometricPrecision"/>
<circle cx="409.5" cy="757.5" r="1.6" fill="#1f77b4" shape-rendering="geometricPrecision"/>
<circle cx="415.5" cy="757.5" r="1.6" fill="#1f77b4" shape-rendering="geometricPrecision"/>
<circle cx="420.5" cy="757.5" r="1.6" fill="#1f77b4" shape-rendering="geometricPrecision"/>
<circle cx="425.5" cy="757.5" r="1.6" fill="#1f77b4" shape-rendering="geometricPrecision"/>
<circle cx="430.5" cy="757.5" r="1.6" fill="#1f77b4" shape-rendering="geometricPrecision"/>
<circle cx="435.5" cy="757.5" r="1.6" fill="#1f77b4" shape-rendering="geometricPrecision"/>
<circle cx="440.5" cy="757.5" r="1.6" fill="#1f77b4" shape-rendering="geometricPrecision"/>
<circle cx="445.5" cy="757.5" r="1.6" fill="#1f77b4" shape-rendering="geometricPrecision"/>
<circle cx="450.5" cy="757.5" r="1.6" fill="#1f77b4" shape-rendering="geometricPrecision"/>
<circle cx="455.5" cy="757.5" r="1.6" fill="#1f77b4" shape-rendering="geometricPrecision"/>
<circle cx="461.5" cy="757.5" r="1.6" fill="#1f77b4" shape-rendering="geometricPrecision"/>
<circle cx="466.5" cy="757.5" r="1.6" fill="#1f77b4" shape-rendering="geometricPrecision"/>
<circle cx="471.5" cy="757.5" r="1.6" fill="#1f77b4" shape-rendering="geometricPrecision"/>
<circle cx="476.5" cy="757.5" r="1.6" fill="#1f77b4" shape-rendering="geometricPrecision"/>
<circle cx="481.5" cy="757.5" r="1.6" fill="#1f77b4" shape-rendering="geometricPrecision"/>
<circle cx="486.5" cy="757.5" r="1.6" fill="#1f77b4" shape-rendering="geometricPrecision"/>
<circle cx="491.5" cy="757.5" r="1.6" fill="#1f77b4" shape-rendering="geometricPrecision"/>
<circle cx="497.5" cy="757.5" r="1.6" fill="#1f77b4" shape-rendering="geometricPrecision"/>
<circle cx="502.5" cy="757.5" r="1.6" fill="#1f77b4" shape-rendering="geometricPrecision"/>
<circle cx="507.5" cy="757.5" r="1.6" fill="#1f77b4" shape-rendering="geometricPrecision"/>
<circle cx="512.5" cy="757.5" r="1.6" fill="#1f77b4" shape-rendering="geometricPrecision"/>
<circle cx="517.5" cy="757.5" r="1.6" fill="#1f77b4" shape-rendering="geometricPrecision"/>
<circle cx="522.5" cy="757.5" r="1.6" fill="#1f77b4" shape-rendering="geometricPrecision"/>
<path d="M527 756.1 A1.6 1.6 0 0 0 527 758.9Z" fill="#1f77b4" shape-rendering="geometricPrecision"/>
<path d="M159.5 552.5H527.5V961.5H159.5Z" fill="none" stroke="#000" stroke-width="1.05"/>
<rect x="154.1" y="552" width="4.9" height="1" fill="#000" shape-rendering="geometricPrecision"/>
<text x="148.8" y="558" font-size="13.889" text-anchor="end">Delayed Mode</text>
<rect x="154.1" y="757" width="4.9" height="1" fill="#000" shape-rendering="geometricPrecision"/>
<text x="148.8" y="762" font-size="13.889" text-anchor="end">Real Time Adjusted</text>
<rect x="154.1" y="961" width="4.9" height="1" fill="#000" shape-rendering="geometricPrecision"/>
<text x="148.8" y="967" font-size="13.889" text-anchor="end">Real Time</text>
<rect x="161" y="962" width="1" height="4.8" fill="#000" shape-rendering="geometricPrecision"/>
<text x="161.5" y="982" font-size="13.889" text-anchor="middle">2014.25</text>
<rect x="208" y="962" width="1" height="4.8" fill="#000" shape-rendering="geometricPrecision"/>
<text x="208.5" y="982" font-size="13.889" text-anchor="middle">2014.50</text>
<rect x="255" y="962" width="1" height="4.8" fill="#000" shape-rendering="geometricPrecision"/>
<text x="255.5" y="982" font-size="13.889" text-anchor="middle">2014.75</text>
<rect x="301" y="962" width="1" height="4.8" fill="#000" shape-rendering="geometricPrecision"/>
<text x="301.5" y="982" font-size="13.889" text-anchor="middle">2015.00</text>
<rect x="348" y="962" width="1" height="4.8" fill="#000" shape-rendering="geometricPrecision"/>
<text x="348.5" y="982" font-size="13.889" text-anchor="middle">2015.25</text>
<rect x="395" y="962" width="1" height="4.8" fill="#000" shape-rendering="geometricPrecision"/>
<text x="395.5" y="982" font-size="13.889" text-anchor="middle">2015.50</text>
<rect x="442" y="962" width="1" height="4.8" fill="#000" shape-rendering="geometricPrecision"/>
<text x="442.5" y="982" font-size="13.889" text-anchor="middle">2015.75</text>
<rect x="488" y="962" width="1" height="4.8" fill="#000" shape-rendering="geometricPrecision"/>
<text x="488.5" y="982" font-size="13.889" text-anchor="middle">2016.00</text>
<text x="734.7" y="525" font-size="16.667" text-anchor="middle">TEMP_ADJUSTED_BGCArgoPlus</text>
<text x="734.9" y="544" font-size="16.667" text-anchor="middle">Processing: F_S_OR_</text>
<rect x="588" y="553" width="1" height="230.6" fill="url(#g211)"/>
<rect x="589" y="553" width="1" height="216.5" fill="url(#g212)"/>
<rect x="590" y="553" width="1" height="218" fill="url(#g213)"/>
<rect x="591" y="553" width="1" height="216.5" fill="url(#g214)"/>
<rect x="592" y="553" width="1" height="216.1" fill="url(#g215)"/>
<rect x="593" y="553" width="1" height="216.9" fill="url(#g216)"/>
<rect x="594" y="553" width="1" height="215.3" fill="url(#g217)"/>
<rect x="595" y="553" width="1" height="233.8" fill="url(#g218)"/>
<rect x="596" y="553" width="1" height="217.3" fill="url(#g219)"/>
<rect x="597" y="553" width="1" height="216.5" fill="url(#g220)"/>
<rect x="598" y="553" width="1" height="217.3" fill="url(#g221)"/>
<rect x="599" y="553" width="1" height="219.5" fill="url(#g222)"/>
<rect x="600" y="553" width="1" height="216.5" fill="url(#g223)"/>
<rect x="601" y="553" width="1" height="218" fill="url(#g224)"/>
<rect x="602" y="553" width="1" height="215.3" fill="url(#g225)"/>
<rect x="603" y="553" width="1" height="218.7" fill="url(#g226)"/>
<rect x="604" y="553" width="1" height="216.1" fill="url(#g227)"/>
<rect x="605" y="553" width="1" height="226.6" fill="url(#g228)"/>
<rect x="606" y="553" width="1" height="216.5" fill="url(#g229)"/>
<rect x="607" y="553" width="1" height="221" fill="url(#g230)"/>
<rect x="608" y="553" width="1" height="216.5" fill="url(#g231)"/>
<rect x="610" y="553" width="1" height="215.3" fill="url(#g232)"/>
<rect x="611" y="553" width="1" height="218.7" fill="url(#g233)"/>
<rect x="612" y="553" width="1" height="216.5" fill="url(#g234)"/>
<rect x="613" y="553" width="1" height="215.7" fill="url(#g235)"/>
<rect x="614" y="553" width="1" height="222.7" fill="url(#g236)"/>
<rect x="615" y="553" width="1" height="216.5" fill="url(#g237)"/>
<rect x="616" y="553" width="1" height="221" fill="url(#g238)"/>
<rect x="617" y="553" width="1" height="215.7" fill="url(#g239)"/>
<rect x="618" y="553" width="1" height="215.3" fill="url(#g240)"/>
<rect x="619" y="553" width="1" height="215.3" fill="url(#g241)"/>
<rect x="620" y="553" width="1" height="218" fill="url(#g242)"/>
<rect x="621" y="553" width="1" height="216.5" fill="url(#g243)"/>
<rect x="622" y="553" width="1" height="215.7" fill="url(#g244)"/>
<rect x="623" y="553" width="1" height="216.9" fill="url(#g245)"/>
<rect x="624" y="553" width="1" height="243.8" fill="url(#g246)"/>
<rect x="625" y="553" width="1" height="215.7" fill="url(#g247)"/>
<rect x="626" y="553" width="1" height="220.5" fill="url(#g248)"/>
<rect x="627" y="553" width="1" height="216.1" fill="url(#g249)"/>
<rect x="628" y="553" width="1" height="218" fill="url(#g250)"/>
<rect x="630" y="553" width="1" height="220.6" fill="url(#g251)"/>
<rect x="631" y="553" width="1" height="218" fill="url(#g252)"/>
<rect x="632" y="553" width="1" height="216.1" fill="url(#g253)"/>
<rect x="633" y="553" width="1" height="225" fill="url(#g254)"/>
<rect x="634" y="553" width="1" height="227.7" fill="url(#g255)"/>
<rect x="635" y="553" width="1" height="216.1" fill="url(#g256)"/>
<rect x="636" y="553" width="1" height="230.6" fill="url(#g257)"/>
<rect x="637" y="553" width="1" height="224.9" fill="url(#g258)"/>
<rect x="638" y="553" width="1" height="224.9" fill="url(#g259)"/>
<rect x="639" y="553" width="1" height="218.7" fill="url(#g260)"/>
<rect x="640" y="553" width="1" height="216.9" fill="url(#g261)"/>
<rect x="641" y="553" width="1" height="218.7" fill="url(#g262)"/>
<rect x="642" y="553" width="1" height="217.3" fill="url(#g263)"/>
<rect x="643" y="553" width="1" height="217.3" fill="url(#g264)"/>
<rect x="644" y="553" width="1" height="218.7" fill="url(#g265)"/>
<rect x="645" y="553" width="1" height="226.9" fill="url(#g266)"/>
<rect x="646" y="553" width="1" height="218" fill="url(#g267)"/>
<rect x="647" y="553" width="1" height="215.3" fill="url(#g268)"/>
<rect x="648" y="553" width="1" height="215.7" fill="url(#g269)"/>
<rect x="649" y="553" width="1" height="220" fill="url(#g270)"/>
<rect x="650" y="553" width="1" height="220" fill="url(#g271)"/>
<rect x="651" y="553" width="1" height="243.8" fill="url(#g272)"/>
<rect x="652" y="553" width="1" height="216.5" fill="url(#g273)"/>
<rect x="653" y="553" width="1" height="216.9" fill="url(#g274)"/>
<rect x="654" y="553" width="1" height="216.5" fill="url(#g275)"/>
<rect x="655" y="553" width="1" height="227.7" fill="url(#g276)"/>
<rect x="656" y="553" width="1" height="221" fill="url(#g277)"/>
<rect x="657" y="553" width="1" height="216.5" fill="url(#g278)"/>
<rect x="658" y="553" width="1" height="216.5" fill="url(#g279)"/>
<rect x="659" y="553" width="1" height="216.5" fill="url(#g280)"/>
<rect x="660" y="553" width="1" height="216.5" fill="url(#g281)"/>
<rect x="661" y="553" width="1" height="218" fill="url(#g282)"/>
<rect x="662" y="553" width="1" height="218.7" fill="url(#g283)"/>
<rect x="663" y="553" width="1" height="218" fill="url(#g284)"/>
<rect x="664" y="553" width="1" height="216.1" fill="url(#g285)"/>
<rect x="665" y="553" width="1" height="215.3" fill="url(#g286)"/>
<rect x="666" y="553" width="1" height="216.9" fill="url(#g287)"/>
<rect x="667" y="553" width="1" height="226.9" fill="url(#g288)"/>
<rect x="668" y="553" width="1" height="215.3" fill="url(#g289)"/>
<rect x="669" y="553" width="1" height="218" fill="url(#g290)"/>
<rect x="670" y="553" width="1" height="215.3" fill="url(#g291)"/>
<rect x="671" y="553" width="1" height="216.5" fill="url(#g292)"/>
<rect x="672" y="553" width="1" height="216.9" fill="url(#g293)"/>
<rect x="673" y="553" width="1" height="215.3" fill="url(#g294)"/>
<rect x="643" y="585" width="1.2" height="2" fill="#fff"/>
<rect x="665" y="635" width="1" height="1.5" fill="#fff"/>
<rect x="665" y="638" width="1" height="2" fill="#fff"/>
<rect x="667" y="637" width="1" height="3" fill="#fff"/>
<rect x="668.6" y="634" width="1.2" height="2" fill="#fff"/>
<rect x="669.6" y="635" width="1.2" height="3" fill="#fff"/>
<rect x="670.6" y="634" width="1" height="4" fill="#fff"/>
<rect x="670.6" y="638.8" width="1" height="1.2" fill="#fff"/>
<rect x="702" y="553" width="1" height="403" fill="url(#g295)"/>
<rect x="706" y="553" width="1" height="403" fill="url(#g296)"/>
<rect x="710" y="553" width="1" height="403" fill="url(#g297)"/>
<rect x="714" y="553" width="1" height="408" fill="url(#g298)"/>
<rect x="743" y="553" width="1" height="397" fill="url(#g299)"/>
<rect x="747" y="553" width="1" height="408" fill="url(#g300)"/>
<rect x="751" y="553" width="1" height="403" fill="url(#g301)"/>
<rect x="755" y="553" width="1" height="397" fill="url(#g302)"/>
<rect x="759" y="553" width="1" height="403" fill="url(#g303)"/>
<rect x="788" y="553" width="1" height="397" fill="url(#g304)"/>
<rect x="792" y="553" width="1" height="403" fill="url(#g305)"/>
<rect x="796" y="553" width="1" height="403" fill="url(#g306)"/>
<rect x="800" y="553" width="1" height="403" fill="url(#g307)"/>
<rect x="833" y="553" width="1" height="397" fill="url(#g308)"/>
<rect x="837" y="553" width="1" height="397" fill="url(#g309)"/>
<rect x="841" y="553" width="1" height="403" fill="url(#g310)"/>
<rect x="845" y="553" width="1" height="403" fill="url(#g311)"/>
<rect x="870" y="553" width="1" height="403" fill="url(#g312)"/>
<rect x="874" y="553" width="1" height="403" fill="url(#g313)"/>
<rect x="878" y="553" width="1" height="403" fill="url(#g314)"/>
<path d="M587.5 552.5H882.5V961.5H587.5Z" fill="none" stroke="#000" stroke-width="1.05"/>
<rect x="582.1" y="552" width="4.9" height="1" fill="#000" shape-rendering="geometricPrecision"/>
<text x="578.6" y="558" font-size="13.889" text-anchor="end">0</text>
<rect x="582.1" y="608" width="4.9" height="1" fill="#000" shape-rendering="geometricPrecision"/>
<text x="577.4" y="613" font-size="13.889" text-anchor="end">250</text>
<rect x="582.1" y="663" width="4.9" height="1" fill="#000" shape-rendering="geometricPrecision"/>
<text x="577.4" y="669" font-size="13.889" text-anchor="end">500</text>
<rect x="582.1" y="719" width="4.9" height="1" fill="#000" shape-rendering="geometricPrecision"/>
<text x="577.4" y="725" font-size="13.889" text-anchor="end">750</text>
<rect x="582.1" y="775" width="4.9" height="1" fill="#000" shape-rendering="geometricPrecision"/>
<text x="577.4" y="780" font-size="13.889" text-anchor="end">1000</text>
<rect x="582.1" y="830" width="4.9" height="1" fill="#000" shape-rendering="geometricPrecision"/>
<text x="577.4" y="836" font-size="13.889" text-anchor="end">1250</text>
<rect x="582.1" y="886" width="4.9" height="1" fill="#000" shape-rendering="geometricPrecision"/>
<text x="577.4" y="892" font-size="13.889" text-anchor="end">1500</text>
<rect x="582.1" y="942" width="4.9" height="1" fill="#000" shape-rendering="geometricPrecision"/>
<text x="577.4" y="947" font-size="13.889" text-anchor="end">1750</text>
<rect x="627" y="962" width="1" height="4.8" fill="#000" shape-rendering="geometricPrecision"/>
<text x="627.5" y="982" font-size="13.889" text-anchor="middle">2014.5</text>
<rect x="702" y="962" width="1" height="4.8" fill="#000" shape-rendering="geometricPrecision"/>
<text x="701.4" y="982" font-size="13.889" text-anchor="middle">2015.0</text>
<rect x="777" y="962" width="1" height="4.8" fill="#000" shape-rendering="geometricPrecision"/>
<text x="776.4" y="982" font-size="13.889" text-anchor="middle">2015.5</text>
<rect x="851" y="962" width="1" height="4.8" fill="#000" shape-rendering="geometricPrecision"/>
<text x="851.2" y="982" font-size="13.889" text-anchor="middle">2016.0</text>
<rect x="901.5" y="552.5" width="20" height="409" fill="url(#g315)"/>
<path d="M901.5 552.5H921.5V961.5H901.5Z" fill="none" stroke="#000" stroke-width="1.05"/>
<rect x="922" y="920" width="4.8" height="1" fill="#000" shape-rendering="geometricPrecision"/>
<text x="931" y="925" font-size="13.889" text-anchor="start">5</text>
<rect x="922" y="848" width="4.8" height="1" fill="#000" shape-rendering="geometricPrecision"/>
<text x="931" y="853" font-size="13.889" text-anchor="start">10</text>
<rect x="922" y="776" width="4.8" height="1" fill="#000" shape-rendering="geometricPrecision"/>
<text x="931" y="781" font-size="13.889" text-anchor="start">15</text>
<rect x="922" y="704" width="4.8" height="1" fill="#000" shape-rendering="geometricPrecision"/>
<text x="931" y="709" font-size="13.889" text-anchor="start">20</text>
<rect x="922" y="632" width="4.8" height="1" fill="#000" shape-rendering="geometricPrecision"/>
<text x="931" y="637" font-size="13.889" text-anchor="start">25</text>
<rect x="922" y="560" width="4.8" height="1" fill="#000" shape-rendering="geometricPrecision"/>
<text x="931" y="565" font-size="13.889" text-anchor="start">30</text>
<text x="1200.7" y="544" font-size="16.667" text-anchor="middle">Outliers Removed</text>
<rect x="1017" y="553" width="112" height="5.1" fill="#ff7f0e" shape-rendering="geometricPrecision"/>
<rect x="1129" y="553" width="10" height="4.6" fill="#ff861a" shape-rendering="geometricPrecision"/>
<rect x="1139" y="553" width="5" height="4.6" fill="#ff8e28" shape-rendering="geometricPrecision"/>
<rect x="1144" y="553" width="5" height="4.6" fill="#ff8e28" shape-rendering="geometricPrecision"/>
<rect x="1149" y="553" width="10" height="4.1" fill="#ff861a" shape-rendering="geometricPrecision"/>
<rect x="1159" y="553" width="15" height="4.1" fill="#ff8e28" shape-rendering="geometricPrecision"/>
<rect x="1174" y="553" width="10" height="4.6" fill="#ff8e28" shape-rendering="geometricPrecision"/>
<rect x="1184" y="553" width="10" height="5" fill="#ff8a20" shape-rendering="geometricPrecision"/>
<rect x="1194" y="553" width="5" height="4.6" fill="#ff8a20" shape-rendering="geometricPrecision"/>
<rect x="1199" y="553" width="5" height="4.6" fill="#ff8e28" shape-rendering="geometricPrecision"/>
<rect x="1204" y="553" width="15" height="4.1" fill="#ff8e28" shape-rendering="geometricPrecision"/>
<rect x="1219" y="553" width="10" height="4.1" fill="#ff861a" shape-rendering="geometricPrecision"/>
<rect x="1229" y="553" width="5" height="4.6" fill="#ff8e28" shape-rendering="geometricPrecision"/>
<rect x="1234" y="553" width="10" height="4.1" fill="#ff861a" shape-rendering="geometricPrecision"/>
<rect x="1244" y="553" width="5" height="5" fill="#ff861a" shape-rendering="geometricPrecision"/>
<rect x="1249" y="553" width="10" height="4.1" fill="#ff8a20" shape-rendering="geometricPrecision"/>
<rect x="1259" y="553" width="5" height="5" fill="#ff8a20" shape-rendering="geometricPrecision"/>
<rect x="1264" y="553" width="10" height="5" fill="#ff8a20" shape-rendering="geometricPrecision"/>
<rect x="1274" y="553" width="5" height="4.6" fill="#ff861a" shape-rendering="geometricPrecision"/>
<rect x="1279" y="553" width="5" height="4.1" fill="#ff8a20" shape-rendering="geometricPrecision"/>
<rect x="1284" y="553" width="15" height="4.6" fill="#ff8a20" shape-rendering="geometricPrecision"/>
<rect x="1299" y="553" width="10" height="4.1" fill="#ff8a20" shape-rendering="geometricPrecision"/>
<rect x="1309" y="553" width="5" height="4.1" fill="#ff8e28" shape-rendering="geometricPrecision"/>
<rect x="1314" y="553" width="5" height="5" fill="#ff8e28" shape-rendering="geometricPrecision"/>
<rect x="1319" y="553" width="5" height="5" fill="#ff8a20" shape-rendering="geometricPrecision"/>
<rect x="1324" y="553" width="10" height="4.6" fill="#ff8e28" shape-rendering="geometricPrecision"/>
<rect x="1334" y="553" width="5" height="4.6" fill="#ff8a20" shape-rendering="geometricPrecision"/>
<rect x="1339" y="553" width="15" height="4.1" fill="#ff8a20" shape-rendering="geometricPrecision"/>
<rect x="1354" y="553" width="10" height="4.6" fill="#ff8e28" shape-rendering="geometricPrecision"/>
<rect x="1364" y="553" width="10" height="4.1" fill="#ff8a20" shape-rendering="geometricPrecision"/>
<rect x="1374" y="553" width="10" height="4.6" fill="#ff8a20" shape-rendering="geometricPrecision"/>
<rect x="1384" y="553" width="1" height="4.1" fill="#ff8e28" shape-rendering="geometricPrecision"/>
<rect x="1129.5" y="553" width="1" height="4.4" fill="#ffa95e" shape-rendering="geometricPrecision"/>
<rect x="1176" y="553" width="1" height="4.4" fill="#ffa95e" shape-rendering="geometricPrecision"/>
<rect x="1214" y="553" width="1" height="4.4" fill="#ffa95e" shape-rendering="geometricPrecision"/>
<rect x="1252" y="553" width="1" height="4.4" fill="#ffa95e" shape-rendering="geometricPrecision"/>
<rect x="1298" y="553" width="1" height="4.4" fill="#ffa95e" shape-rendering="geometricPrecision"/>
<rect x="1340" y="553" width="1" height="4.4" fill="#ffa95e" shape-rendering="geometricPrecision"/>
<rect x="1344" y="553" width="1" height="4.4" fill="#ffa95e" shape-rendering="geometricPrecision"/>
<path d="M1016.5 552.5H1385.5V961.5H1016.5Z" fill="none" stroke="#000" stroke-width="1.05"/>
<rect x="1011.1" y="552" width="4.9" height="1" fill="#000" shape-rendering="geometricPrecision"/>
<text x="1007.6" y="558" font-size="13.889" text-anchor="end">0</text>
<rect x="1011.1" y="608" width="4.9" height="1" fill="#000" shape-rendering="geometricPrecision"/>
<text x="1006.4" y="613" font-size="13.889" text-anchor="end">250</text>
<rect x="1011.1" y="663" width="4.9" height="1" fill="#000" shape-rendering="geometricPrecision"/>
<text x="1006.4" y="669" font-size="13.889" text-anchor="end">500</text>
<rect x="1011.1" y="719" width="4.9" height="1" fill="#000" shape-rendering="geometricPrecision"/>
<text x="1006.4" y="725" font-size="13.889" text-anchor="end">750</text>
<rect x="1011.1" y="775" width="4.9" height="1" fill="#000" shape-rendering="geometricPrecision"/>
<text x="1006.4" y="780" font-size="13.889" text-anchor="end">1000</text>
<rect x="1011.1" y="830" width="4.9" height="1" fill="#000" shape-rendering="geometricPrecision"/>
<text x="1006.4" y="836" font-size="13.889" text-anchor="end">1250</text>
<rect x="1011.1" y="886" width="4.9" height="1" fill="#000" shape-rendering="geometricPrecision"/>
<text x="1006.4" y="892" font-size="13.889" text-anchor="end">1500</text>
<rect x="1011.1" y="942" width="4.9" height="1" fill="#000" shape-rendering="geometricPrecision"/>
<text x="1006.4" y="947" font-size="13.889" text-anchor="end">1750</text>
<rect x="1066" y="962" width="1" height="4.8" fill="#000" shape-rendering="geometricPrecision"/>
<text x="1065.1" y="982" font-size="13.889" text-anchor="middle">2014.5</text>
<rect x="1159" y="962" width="1" height="4.8" fill="#000" shape-rendering="geometricPrecision"/>
<text x="1159.1" y="982" font-size="13.889" text-anchor="middle">2015.0</text>
<rect x="1253" y="962" width="1" height="4.8" fill="#000" shape-rendering="geometricPrecision"/>
<text x="1252.1" y="982" font-size="13.889" text-anchor="middle">2015.5</text>
<rect x="1346" y="962" width="1" height="4.8" fill="#000" shape-rendering="geometricPrecision"/>
<text x="1346.5" y="982" font-size="13.889" text-anchor="middle">2016.0</text>
<rect x="1216.6" y="559.5" width="162" height="25" rx="2.6" ry="2.6" fill="#fff" fill-opacity="0.8" stroke="#ccc" stroke-opacity="0.8" stroke-width="1.39" shape-rendering="geometricPrecision"/>
<rect x="1230.8" y="566.7" width="9.4" height="9.4" fill="#ffbf86" shape-rendering="geometricPrecision"/>
<rect x="1231.55" y="567.45" width="7.9" height="7.9" fill="#ffbf86" stroke="#ffa558" stroke-width="0.6" shape-rendering="geometricPrecision"/>
<text x="1260.2" y="576" font-size="13.889" text-anchor="start">surface removal</text>
</svg>
</body>
</html>
